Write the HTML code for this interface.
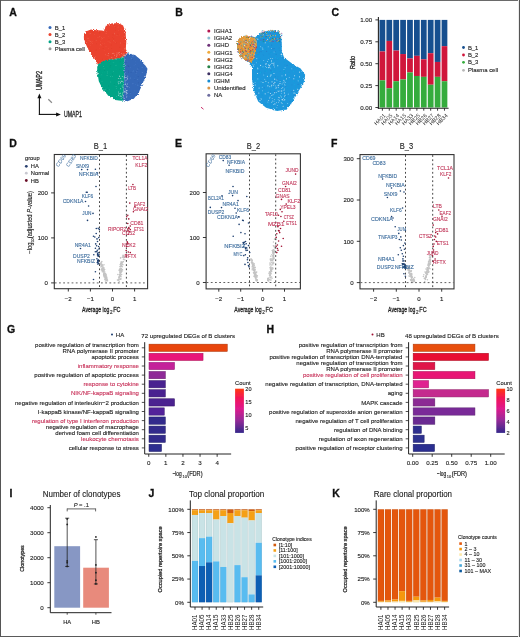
<!DOCTYPE html>
<html><head><meta charset="utf-8"><style>
html,body{margin:0;padding:0;background:#fff;}
body{width:520px;height:637px;overflow:hidden;}
svg{display:block;font-family:"Liberation Sans", sans-serif;will-change:transform;}
</style></head><body>
<svg width="520" height="637" viewBox="0 0 520 637">
<defs>
<filter id="rough" x="-10%" y="-10%" width="120%" height="120%">
<feTurbulence type="fractalNoise" baseFrequency="1.1" numOctaves="2" seed="3" result="n"/>
<feDisplacementMap in="SourceGraphic" in2="n" scale="3.2" xChannelSelector="R" yChannelSelector="G"/>
</filter>
<filter id="soft" x="0" y="0" width="100%" height="100%"><feGaussianBlur stdDeviation="0.3"/></filter>
</defs>
<g filter="url(#soft)">
<rect x="0" y="0" width="520" height="637" fill="#fff"/>
<text x="9.20" y="15.56" font-size="10.5" font-weight="bold" fill="#111" stroke="#111" stroke-width="0.3">A</text>
<text x="175.20" y="15.56" font-size="10.5" font-weight="bold" fill="#111" stroke="#111" stroke-width="0.3">B</text>
<text x="331.50" y="15.56" font-size="10.5" font-weight="bold" fill="#111" stroke="#111" stroke-width="0.3">C</text>
<text x="9.30" y="146.56" font-size="10.5" font-weight="bold" fill="#111" stroke="#111" stroke-width="0.3">D</text>
<text x="175.00" y="146.56" font-size="10.5" font-weight="bold" fill="#111" stroke="#111" stroke-width="0.3">E</text>
<text x="331.00" y="146.56" font-size="10.5" font-weight="bold" fill="#111" stroke="#111" stroke-width="0.3">F</text>
<text x="7.00" y="332.56" font-size="10.5" font-weight="bold" fill="#111" stroke="#111" stroke-width="0.3">G</text>
<text x="266.50" y="332.56" font-size="10.5" font-weight="bold" fill="#111" stroke="#111" stroke-width="0.3">H</text>
<text x="9.40" y="497.06" font-size="10.5" font-weight="bold" fill="#111" stroke="#111" stroke-width="0.3">I</text>
<text x="148.50" y="497.06" font-size="10.5" font-weight="bold" fill="#111" stroke="#111" stroke-width="0.3">J</text>
<text x="332.20" y="497.06" font-size="10.5" font-weight="bold" fill="#111" stroke="#111" stroke-width="0.3">K</text>
<circle cx="50.00" cy="27.50" r="1.5" fill="#3568b8"/>
<text x="54.80" y="29.62" font-size="5.9" fill="#222" stroke="#222" stroke-width="0.12">B_1</text>
<circle cx="50.00" cy="34.60" r="1.5" fill="#ea422d"/>
<text x="54.80" y="36.72" font-size="5.9" fill="#222" stroke="#222" stroke-width="0.12">B_2</text>
<circle cx="50.00" cy="41.70" r="1.5" fill="#03a486"/>
<text x="54.80" y="43.82" font-size="5.9" fill="#222" stroke="#222" stroke-width="0.12">B_3</text>
<circle cx="50.00" cy="48.80" r="1.5" fill="#9a9a9a"/>
<text x="54.80" y="50.92" font-size="5.9" fill="#222" stroke="#222" stroke-width="0.12">Plasma cell</text>
<path d="M83.9 35.1 L86.3 31.2 L91.0 29.4 L97.3 30.2 L102.0 30.6 L103.8 31.0 L105.9 25.7 L111.4 23.6 L118.4 23.1 L123.1 25.5 L125.5 32.0 L126.3 41.4 L125.8 49.0 L127.5 52.6 L124.5 55.5 L120.0 58.5 L113.0 59.5 L106.0 60.5 L101.0 62.5 L98.0 64.5 L96.0 61.0 L92.0 55.0 L88.0 49.0 L85.5 43.5 L83.9 38.2Z" fill="#ea422d" filter="url(#rough)"/>
<path d="M98.0 64.5 L101.0 62.0 L106.0 60.0 L113.0 59.0 L120.0 58.0 L124.0 56.5 L124.6 63.0 L124.4 75.0 L123.8 87.5 L123.1 100.5 L121.2 100.8 L115.0 100.0 L108.8 96.2 L102.5 88.8 L98.8 81.2 L97.3 72.0 L97.2 67.0Z" fill="#03a486" filter="url(#rough)"/>
<path d="M124.0 56.5 L127.5 53.3 L135.0 55.0 L142.5 61.2 L147.5 68.8 L146.2 75.0 L142.5 83.8 L138.8 92.5 L133.8 98.8 L127.5 101.2 L123.1 100.5 L123.8 87.5 L124.4 75.0 L124.6 63.0Z" fill="#3568b8" filter="url(#rough)"/>
<circle cx="112.28" cy="26.10" r="0.45" fill="#f06a50" fill-opacity="0.6"/>
<circle cx="87.86" cy="40.68" r="0.45" fill="#f06a50" fill-opacity="0.6"/>
<circle cx="125.21" cy="49.21" r="0.45" fill="#f06a50" fill-opacity="0.6"/>
<circle cx="109.06" cy="39.52" r="0.45" fill="#d83a25" fill-opacity="0.6"/>
<circle cx="89.04" cy="35.87" r="0.45" fill="#d83a25" fill-opacity="0.6"/>
<circle cx="88.39" cy="46.75" r="0.45" fill="#d83a25" fill-opacity="0.6"/>
<circle cx="100.14" cy="45.78" r="0.45" fill="#f06a50" fill-opacity="0.6"/>
<circle cx="108.51" cy="48.73" r="0.45" fill="#ff5a40" fill-opacity="0.6"/>
<circle cx="113.57" cy="40.80" r="0.45" fill="#f5907a" fill-opacity="0.6"/>
<circle cx="99.66" cy="33.38" r="0.45" fill="#d83a25" fill-opacity="0.6"/>
<circle cx="114.38" cy="33.21" r="0.45" fill="#f5907a" fill-opacity="0.6"/>
<circle cx="106.80" cy="59.33" r="0.45" fill="#ff5a40" fill-opacity="0.6"/>
<circle cx="89.05" cy="40.41" r="0.45" fill="#f5907a" fill-opacity="0.6"/>
<circle cx="90.53" cy="43.34" r="0.45" fill="#f06a50" fill-opacity="0.6"/>
<circle cx="108.23" cy="55.77" r="0.45" fill="#f5907a" fill-opacity="0.6"/>
<circle cx="98.73" cy="37.60" r="0.45" fill="#ff5a40" fill-opacity="0.6"/>
<circle cx="109.18" cy="41.99" r="0.45" fill="#f06a50" fill-opacity="0.6"/>
<circle cx="125.09" cy="42.73" r="0.45" fill="#f06a50" fill-opacity="0.6"/>
<circle cx="119.74" cy="34.88" r="0.45" fill="#ff5a40" fill-opacity="0.6"/>
<circle cx="122.57" cy="37.47" r="0.45" fill="#ff5a40" fill-opacity="0.6"/>
<circle cx="99.40" cy="48.39" r="0.45" fill="#ff5a40" fill-opacity="0.6"/>
<circle cx="89.54" cy="33.35" r="0.45" fill="#ff5a40" fill-opacity="0.6"/>
<circle cx="123.87" cy="43.66" r="0.45" fill="#d83a25" fill-opacity="0.6"/>
<circle cx="103.48" cy="45.85" r="0.45" fill="#d83a25" fill-opacity="0.6"/>
<circle cx="96.04" cy="40.29" r="0.45" fill="#f5907a" fill-opacity="0.6"/>
<circle cx="113.67" cy="38.85" r="0.45" fill="#d83a25" fill-opacity="0.6"/>
<circle cx="90.48" cy="30.40" r="0.45" fill="#d83a25" fill-opacity="0.6"/>
<circle cx="112.61" cy="23.60" r="0.45" fill="#d83a25" fill-opacity="0.6"/>
<circle cx="102.17" cy="38.39" r="0.45" fill="#f5907a" fill-opacity="0.6"/>
<circle cx="125.46" cy="51.69" r="0.45" fill="#f06a50" fill-opacity="0.6"/>
<circle cx="103.81" cy="59.16" r="0.45" fill="#ff5a40" fill-opacity="0.6"/>
<circle cx="101.26" cy="39.42" r="0.45" fill="#ff5a40" fill-opacity="0.6"/>
<circle cx="111.56" cy="25.68" r="0.45" fill="#f06a50" fill-opacity="0.6"/>
<circle cx="88.69" cy="47.97" r="0.45" fill="#f06a50" fill-opacity="0.6"/>
<circle cx="88.32" cy="38.15" r="0.45" fill="#f06a50" fill-opacity="0.6"/>
<circle cx="86.97" cy="31.71" r="0.45" fill="#ff5a40" fill-opacity="0.6"/>
<circle cx="90.38" cy="33.54" r="0.45" fill="#f5907a" fill-opacity="0.6"/>
<circle cx="110.16" cy="42.73" r="0.45" fill="#f06a50" fill-opacity="0.6"/>
<circle cx="104.22" cy="43.13" r="0.45" fill="#f06a50" fill-opacity="0.6"/>
<circle cx="116.18" cy="42.91" r="0.45" fill="#d83a25" fill-opacity="0.6"/>
<circle cx="106.41" cy="31.60" r="0.45" fill="#f5907a" fill-opacity="0.6"/>
<circle cx="90.29" cy="45.59" r="0.45" fill="#f06a50" fill-opacity="0.6"/>
<circle cx="116.96" cy="35.44" r="0.45" fill="#f06a50" fill-opacity="0.6"/>
<circle cx="114.25" cy="33.91" r="0.45" fill="#f5907a" fill-opacity="0.6"/>
<circle cx="123.50" cy="37.83" r="0.45" fill="#d83a25" fill-opacity="0.6"/>
<circle cx="107.12" cy="55.35" r="0.45" fill="#f5907a" fill-opacity="0.6"/>
<circle cx="111.65" cy="48.49" r="0.45" fill="#d83a25" fill-opacity="0.6"/>
<circle cx="119.05" cy="56.98" r="0.45" fill="#d83a25" fill-opacity="0.6"/>
<circle cx="92.62" cy="43.50" r="0.45" fill="#f06a50" fill-opacity="0.6"/>
<circle cx="104.49" cy="31.12" r="0.45" fill="#f5907a" fill-opacity="0.6"/>
<circle cx="99.80" cy="32.23" r="0.45" fill="#d83a25" fill-opacity="0.6"/>
<circle cx="104.40" cy="37.08" r="0.45" fill="#ff5a40" fill-opacity="0.6"/>
<circle cx="120.54" cy="42.95" r="0.45" fill="#f5907a" fill-opacity="0.6"/>
<circle cx="118.76" cy="26.61" r="0.45" fill="#f06a50" fill-opacity="0.6"/>
<circle cx="123.57" cy="55.49" r="0.45" fill="#d83a25" fill-opacity="0.6"/>
<circle cx="104.74" cy="30.49" r="0.45" fill="#f5907a" fill-opacity="0.6"/>
<circle cx="115.37" cy="42.27" r="0.45" fill="#f06a50" fill-opacity="0.6"/>
<circle cx="115.50" cy="30.14" r="0.45" fill="#d83a25" fill-opacity="0.6"/>
<circle cx="104.19" cy="50.25" r="0.45" fill="#ff5a40" fill-opacity="0.6"/>
<circle cx="112.56" cy="37.61" r="0.45" fill="#d83a25" fill-opacity="0.6"/>
<circle cx="115.57" cy="27.35" r="0.45" fill="#d83a25" fill-opacity="0.6"/>
<circle cx="102.81" cy="59.19" r="0.45" fill="#d83a25" fill-opacity="0.6"/>
<circle cx="105.75" cy="54.72" r="0.45" fill="#f5907a" fill-opacity="0.6"/>
<circle cx="95.21" cy="40.45" r="0.45" fill="#d83a25" fill-opacity="0.6"/>
<circle cx="123.04" cy="50.53" r="0.45" fill="#ff5a40" fill-opacity="0.6"/>
<circle cx="106.16" cy="59.23" r="0.45" fill="#d83a25" fill-opacity="0.6"/>
<circle cx="110.43" cy="55.23" r="0.45" fill="#d83a25" fill-opacity="0.6"/>
<circle cx="91.41" cy="42.70" r="0.45" fill="#f06a50" fill-opacity="0.6"/>
<circle cx="108.16" cy="36.60" r="0.45" fill="#ff5a40" fill-opacity="0.6"/>
<circle cx="118.09" cy="27.49" r="0.45" fill="#f06a50" fill-opacity="0.6"/>
<circle cx="94.73" cy="34.56" r="0.45" fill="#f06a50" fill-opacity="0.6"/>
<circle cx="106.04" cy="46.36" r="0.45" fill="#f06a50" fill-opacity="0.6"/>
<circle cx="103.23" cy="48.46" r="0.45" fill="#d83a25" fill-opacity="0.6"/>
<circle cx="114.10" cy="41.83" r="0.45" fill="#ff5a40" fill-opacity="0.6"/>
<circle cx="106.04" cy="33.35" r="0.45" fill="#f5907a" fill-opacity="0.6"/>
<circle cx="92.73" cy="41.63" r="0.45" fill="#ff5a40" fill-opacity="0.6"/>
<circle cx="89.20" cy="41.40" r="0.45" fill="#f06a50" fill-opacity="0.6"/>
<circle cx="113.16" cy="40.83" r="0.45" fill="#d83a25" fill-opacity="0.6"/>
<circle cx="113.09" cy="55.55" r="0.45" fill="#d83a25" fill-opacity="0.6"/>
<circle cx="124.86" cy="49.74" r="0.45" fill="#f5907a" fill-opacity="0.6"/>
<circle cx="125.43" cy="39.59" r="0.45" fill="#ff5a40" fill-opacity="0.6"/>
<circle cx="91.00" cy="50.75" r="0.45" fill="#d83a25" fill-opacity="0.6"/>
<circle cx="90.94" cy="40.97" r="0.45" fill="#ff5a40" fill-opacity="0.6"/>
<circle cx="98.69" cy="31.20" r="0.45" fill="#f5907a" fill-opacity="0.6"/>
<circle cx="87.92" cy="38.25" r="0.45" fill="#f5907a" fill-opacity="0.6"/>
<circle cx="108.06" cy="41.33" r="0.45" fill="#f06a50" fill-opacity="0.6"/>
<circle cx="100.66" cy="44.52" r="0.45" fill="#f5907a" fill-opacity="0.6"/>
<circle cx="106.23" cy="25.76" r="0.45" fill="#d83a25" fill-opacity="0.6"/>
<circle cx="117.86" cy="34.30" r="0.45" fill="#d83a25" fill-opacity="0.6"/>
<circle cx="119.64" cy="58.27" r="0.45" fill="#f5907a" fill-opacity="0.6"/>
<circle cx="101.60" cy="45.32" r="0.45" fill="#ff5a40" fill-opacity="0.6"/>
<circle cx="114.44" cy="26.80" r="0.45" fill="#f06a50" fill-opacity="0.6"/>
<circle cx="118.76" cy="30.69" r="0.45" fill="#f06a50" fill-opacity="0.6"/>
<circle cx="87.76" cy="33.89" r="0.45" fill="#d83a25" fill-opacity="0.6"/>
<circle cx="103.68" cy="37.14" r="0.45" fill="#ff5a40" fill-opacity="0.6"/>
<circle cx="124.30" cy="34.19" r="0.45" fill="#d83a25" fill-opacity="0.6"/>
<circle cx="95.32" cy="30.60" r="0.45" fill="#f5907a" fill-opacity="0.6"/>
<circle cx="111.31" cy="45.09" r="0.45" fill="#d83a25" fill-opacity="0.6"/>
<circle cx="96.54" cy="43.80" r="0.45" fill="#d83a25" fill-opacity="0.6"/>
<circle cx="95.69" cy="56.37" r="0.45" fill="#f5907a" fill-opacity="0.6"/>
<circle cx="106.32" cy="33.27" r="0.45" fill="#ff5a40" fill-opacity="0.6"/>
<circle cx="102.74" cy="43.59" r="0.45" fill="#ff5a40" fill-opacity="0.6"/>
<circle cx="93.28" cy="32.60" r="0.45" fill="#d83a25" fill-opacity="0.6"/>
<circle cx="120.19" cy="52.36" r="0.45" fill="#d83a25" fill-opacity="0.6"/>
<circle cx="101.54" cy="37.49" r="0.45" fill="#f06a50" fill-opacity="0.6"/>
<circle cx="111.17" cy="59.53" r="0.45" fill="#ff5a40" fill-opacity="0.6"/>
<circle cx="113.14" cy="34.77" r="0.45" fill="#d83a25" fill-opacity="0.6"/>
<circle cx="114.10" cy="24.97" r="0.45" fill="#d83a25" fill-opacity="0.6"/>
<circle cx="90.77" cy="41.56" r="0.45" fill="#f5907a" fill-opacity="0.6"/>
<circle cx="99.78" cy="36.72" r="0.45" fill="#f5907a" fill-opacity="0.6"/>
<circle cx="97.40" cy="37.86" r="0.45" fill="#f06a50" fill-opacity="0.6"/>
<circle cx="96.06" cy="50.26" r="0.45" fill="#d83a25" fill-opacity="0.6"/>
<circle cx="84.88" cy="35.70" r="0.45" fill="#d83a25" fill-opacity="0.6"/>
<circle cx="121.10" cy="29.53" r="0.45" fill="#ff5a40" fill-opacity="0.6"/>
<circle cx="117.22" cy="52.94" r="0.45" fill="#ff5a40" fill-opacity="0.6"/>
<circle cx="111.94" cy="24.91" r="0.45" fill="#ff5a40" fill-opacity="0.6"/>
<circle cx="115.90" cy="56.73" r="0.45" fill="#d83a25" fill-opacity="0.6"/>
<circle cx="123.57" cy="54.27" r="0.45" fill="#f06a50" fill-opacity="0.6"/>
<circle cx="119.93" cy="47.28" r="0.45" fill="#d83a25" fill-opacity="0.6"/>
<circle cx="100.32" cy="41.79" r="0.45" fill="#f06a50" fill-opacity="0.6"/>
<circle cx="114.40" cy="84.24" r="0.45" fill="#008a6c" fill-opacity="0.6"/>
<circle cx="119.06" cy="89.65" r="0.45" fill="#20b898" fill-opacity="0.6"/>
<circle cx="115.26" cy="59.43" r="0.45" fill="#00b090" fill-opacity="0.6"/>
<circle cx="104.48" cy="88.81" r="0.45" fill="#008a6c" fill-opacity="0.6"/>
<circle cx="103.52" cy="85.29" r="0.45" fill="#00b090" fill-opacity="0.6"/>
<circle cx="110.73" cy="73.45" r="0.45" fill="#00b090" fill-opacity="0.6"/>
<circle cx="122.15" cy="69.23" r="0.45" fill="#20b898" fill-opacity="0.6"/>
<circle cx="114.11" cy="84.97" r="0.45" fill="#20b898" fill-opacity="0.6"/>
<circle cx="113.63" cy="71.20" r="0.45" fill="#60d0b8" fill-opacity="0.6"/>
<circle cx="114.22" cy="62.41" r="0.45" fill="#00b090" fill-opacity="0.6"/>
<circle cx="98.86" cy="68.41" r="0.45" fill="#20b898" fill-opacity="0.6"/>
<circle cx="116.17" cy="86.43" r="0.45" fill="#60d0b8" fill-opacity="0.6"/>
<circle cx="116.62" cy="69.15" r="0.45" fill="#00b090" fill-opacity="0.6"/>
<circle cx="109.98" cy="61.75" r="0.45" fill="#008a6c" fill-opacity="0.6"/>
<circle cx="105.74" cy="60.30" r="0.45" fill="#00b090" fill-opacity="0.6"/>
<circle cx="119.67" cy="99.39" r="0.45" fill="#00b090" fill-opacity="0.6"/>
<circle cx="122.31" cy="97.72" r="0.45" fill="#20b898" fill-opacity="0.6"/>
<circle cx="113.13" cy="62.78" r="0.45" fill="#60d0b8" fill-opacity="0.6"/>
<circle cx="123.31" cy="62.37" r="0.45" fill="#60d0b8" fill-opacity="0.6"/>
<circle cx="121.50" cy="87.66" r="0.45" fill="#008a6c" fill-opacity="0.6"/>
<circle cx="110.84" cy="95.31" r="0.45" fill="#00b090" fill-opacity="0.6"/>
<circle cx="110.67" cy="76.47" r="0.45" fill="#60d0b8" fill-opacity="0.6"/>
<circle cx="117.12" cy="74.94" r="0.45" fill="#00b090" fill-opacity="0.6"/>
<circle cx="120.19" cy="61.82" r="0.45" fill="#008a6c" fill-opacity="0.6"/>
<circle cx="116.74" cy="96.44" r="0.45" fill="#60d0b8" fill-opacity="0.6"/>
<circle cx="107.89" cy="95.04" r="0.45" fill="#20b898" fill-opacity="0.6"/>
<circle cx="107.08" cy="75.46" r="0.45" fill="#60d0b8" fill-opacity="0.6"/>
<circle cx="120.61" cy="68.93" r="0.45" fill="#20b898" fill-opacity="0.6"/>
<circle cx="120.07" cy="69.15" r="0.45" fill="#008a6c" fill-opacity="0.6"/>
<circle cx="104.03" cy="68.27" r="0.45" fill="#60d0b8" fill-opacity="0.6"/>
<circle cx="102.40" cy="73.04" r="0.45" fill="#00b090" fill-opacity="0.6"/>
<circle cx="121.43" cy="92.47" r="0.45" fill="#00b090" fill-opacity="0.6"/>
<circle cx="122.23" cy="98.17" r="0.45" fill="#008a6c" fill-opacity="0.6"/>
<circle cx="116.92" cy="58.69" r="0.45" fill="#00b090" fill-opacity="0.6"/>
<circle cx="109.55" cy="89.84" r="0.45" fill="#60d0b8" fill-opacity="0.6"/>
<circle cx="110.50" cy="96.90" r="0.45" fill="#008a6c" fill-opacity="0.6"/>
<circle cx="101.88" cy="74.88" r="0.45" fill="#60d0b8" fill-opacity="0.6"/>
<circle cx="105.36" cy="89.24" r="0.45" fill="#60d0b8" fill-opacity="0.6"/>
<circle cx="108.33" cy="67.07" r="0.45" fill="#00b090" fill-opacity="0.6"/>
<circle cx="112.47" cy="73.97" r="0.45" fill="#008a6c" fill-opacity="0.6"/>
<circle cx="114.82" cy="59.83" r="0.45" fill="#00b090" fill-opacity="0.6"/>
<circle cx="112.28" cy="76.57" r="0.45" fill="#60d0b8" fill-opacity="0.6"/>
<circle cx="101.02" cy="65.02" r="0.45" fill="#20b898" fill-opacity="0.6"/>
<circle cx="101.99" cy="81.13" r="0.45" fill="#60d0b8" fill-opacity="0.6"/>
<circle cx="103.75" cy="67.95" r="0.45" fill="#008a6c" fill-opacity="0.6"/>
<circle cx="121.51" cy="89.71" r="0.45" fill="#00b090" fill-opacity="0.6"/>
<circle cx="107.69" cy="89.54" r="0.45" fill="#008a6c" fill-opacity="0.6"/>
<circle cx="107.53" cy="71.48" r="0.45" fill="#20b898" fill-opacity="0.6"/>
<circle cx="110.85" cy="81.94" r="0.45" fill="#60d0b8" fill-opacity="0.6"/>
<circle cx="100.65" cy="78.80" r="0.45" fill="#008a6c" fill-opacity="0.6"/>
<circle cx="107.74" cy="85.11" r="0.45" fill="#00b090" fill-opacity="0.6"/>
<circle cx="123.34" cy="94.10" r="0.45" fill="#20b898" fill-opacity="0.6"/>
<circle cx="100.69" cy="75.34" r="0.45" fill="#00b090" fill-opacity="0.6"/>
<circle cx="123.73" cy="78.20" r="0.45" fill="#20b898" fill-opacity="0.6"/>
<circle cx="119.82" cy="94.40" r="0.45" fill="#00b090" fill-opacity="0.6"/>
<circle cx="104.01" cy="61.33" r="0.45" fill="#008a6c" fill-opacity="0.6"/>
<circle cx="116.41" cy="94.00" r="0.45" fill="#00b090" fill-opacity="0.6"/>
<circle cx="116.79" cy="99.14" r="0.45" fill="#60d0b8" fill-opacity="0.6"/>
<circle cx="111.67" cy="75.88" r="0.45" fill="#20b898" fill-opacity="0.6"/>
<circle cx="99.92" cy="69.81" r="0.45" fill="#008a6c" fill-opacity="0.6"/>
<circle cx="107.83" cy="66.40" r="0.45" fill="#20b898" fill-opacity="0.6"/>
<circle cx="97.49" cy="69.86" r="0.45" fill="#00b090" fill-opacity="0.6"/>
<circle cx="104.83" cy="70.51" r="0.45" fill="#008a6c" fill-opacity="0.6"/>
<circle cx="110.22" cy="66.90" r="0.45" fill="#008a6c" fill-opacity="0.6"/>
<circle cx="98.00" cy="74.74" r="0.45" fill="#60d0b8" fill-opacity="0.6"/>
<circle cx="98.72" cy="65.10" r="0.45" fill="#00b090" fill-opacity="0.6"/>
<circle cx="99.42" cy="66.59" r="0.45" fill="#00b090" fill-opacity="0.6"/>
<circle cx="122.55" cy="66.55" r="0.45" fill="#20b898" fill-opacity="0.6"/>
<circle cx="116.27" cy="88.32" r="0.45" fill="#60d0b8" fill-opacity="0.6"/>
<circle cx="115.90" cy="65.27" r="0.45" fill="#60d0b8" fill-opacity="0.6"/>
<circle cx="117.45" cy="78.87" r="0.45" fill="#008a6c" fill-opacity="0.6"/>
<circle cx="110.78" cy="65.38" r="0.45" fill="#008a6c" fill-opacity="0.6"/>
<circle cx="103.52" cy="66.31" r="0.45" fill="#60d0b8" fill-opacity="0.6"/>
<circle cx="113.92" cy="96.21" r="0.45" fill="#00b090" fill-opacity="0.6"/>
<circle cx="108.63" cy="85.97" r="0.45" fill="#008a6c" fill-opacity="0.6"/>
<circle cx="122.46" cy="58.91" r="0.45" fill="#20b898" fill-opacity="0.6"/>
<circle cx="123.89" cy="62.79" r="0.45" fill="#20b898" fill-opacity="0.6"/>
<circle cx="116.65" cy="64.66" r="0.45" fill="#00b090" fill-opacity="0.6"/>
<circle cx="121.81" cy="95.64" r="0.45" fill="#20b898" fill-opacity="0.6"/>
<circle cx="106.22" cy="64.72" r="0.45" fill="#00b090" fill-opacity="0.6"/>
<circle cx="107.57" cy="73.06" r="0.45" fill="#60d0b8" fill-opacity="0.6"/>
<circle cx="109.32" cy="61.33" r="0.45" fill="#20b898" fill-opacity="0.6"/>
<circle cx="104.87" cy="72.07" r="0.45" fill="#20b898" fill-opacity="0.6"/>
<circle cx="112.57" cy="90.12" r="0.45" fill="#00b090" fill-opacity="0.6"/>
<circle cx="106.97" cy="92.90" r="0.45" fill="#00b090" fill-opacity="0.6"/>
<circle cx="102.56" cy="80.49" r="0.45" fill="#00b090" fill-opacity="0.6"/>
<circle cx="102.49" cy="72.64" r="0.45" fill="#00b090" fill-opacity="0.6"/>
<circle cx="98.03" cy="74.70" r="0.45" fill="#00b090" fill-opacity="0.6"/>
<circle cx="104.24" cy="89.60" r="0.45" fill="#60d0b8" fill-opacity="0.6"/>
<circle cx="107.15" cy="71.34" r="0.45" fill="#20b898" fill-opacity="0.6"/>
<circle cx="129.50" cy="87.66" r="0.45" fill="#80a8e8" fill-opacity="0.6"/>
<circle cx="145.65" cy="67.56" r="0.45" fill="#4a80d0" fill-opacity="0.6"/>
<circle cx="146.38" cy="71.83" r="0.45" fill="#80a8e8" fill-opacity="0.6"/>
<circle cx="126.34" cy="77.11" r="0.45" fill="#4a80d0" fill-opacity="0.6"/>
<circle cx="137.92" cy="69.02" r="0.45" fill="#80a8e8" fill-opacity="0.6"/>
<circle cx="134.34" cy="90.88" r="0.45" fill="#4a80d0" fill-opacity="0.6"/>
<circle cx="135.59" cy="72.08" r="0.45" fill="#2850a0" fill-opacity="0.6"/>
<circle cx="129.13" cy="56.40" r="0.45" fill="#4a80d0" fill-opacity="0.6"/>
<circle cx="134.85" cy="79.41" r="0.45" fill="#2850a0" fill-opacity="0.6"/>
<circle cx="125.15" cy="57.92" r="0.45" fill="#3a70c8" fill-opacity="0.6"/>
<circle cx="127.33" cy="59.67" r="0.45" fill="#3a70c8" fill-opacity="0.6"/>
<circle cx="138.24" cy="85.62" r="0.45" fill="#4a80d0" fill-opacity="0.6"/>
<circle cx="142.13" cy="67.39" r="0.45" fill="#80a8e8" fill-opacity="0.6"/>
<circle cx="136.93" cy="71.18" r="0.45" fill="#80a8e8" fill-opacity="0.6"/>
<circle cx="127.96" cy="65.16" r="0.45" fill="#2850a0" fill-opacity="0.6"/>
<circle cx="128.85" cy="66.79" r="0.45" fill="#2850a0" fill-opacity="0.6"/>
<circle cx="131.06" cy="72.29" r="0.45" fill="#2850a0" fill-opacity="0.6"/>
<circle cx="135.48" cy="64.39" r="0.45" fill="#4a80d0" fill-opacity="0.6"/>
<circle cx="125.60" cy="76.06" r="0.45" fill="#2850a0" fill-opacity="0.6"/>
<circle cx="126.01" cy="62.39" r="0.45" fill="#2850a0" fill-opacity="0.6"/>
<circle cx="145.80" cy="71.15" r="0.45" fill="#2850a0" fill-opacity="0.6"/>
<circle cx="134.06" cy="65.76" r="0.45" fill="#4a80d0" fill-opacity="0.6"/>
<circle cx="125.68" cy="81.89" r="0.45" fill="#80a8e8" fill-opacity="0.6"/>
<circle cx="128.41" cy="70.98" r="0.45" fill="#2850a0" fill-opacity="0.6"/>
<circle cx="124.03" cy="88.41" r="0.45" fill="#2850a0" fill-opacity="0.6"/>
<circle cx="133.08" cy="71.13" r="0.45" fill="#80a8e8" fill-opacity="0.6"/>
<circle cx="135.19" cy="76.48" r="0.45" fill="#3a70c8" fill-opacity="0.6"/>
<circle cx="125.57" cy="72.25" r="0.45" fill="#2850a0" fill-opacity="0.6"/>
<circle cx="127.09" cy="86.64" r="0.45" fill="#3a70c8" fill-opacity="0.6"/>
<circle cx="133.30" cy="55.76" r="0.45" fill="#80a8e8" fill-opacity="0.6"/>
<circle cx="138.83" cy="72.04" r="0.45" fill="#3a70c8" fill-opacity="0.6"/>
<circle cx="128.07" cy="53.58" r="0.45" fill="#2850a0" fill-opacity="0.6"/>
<circle cx="133.44" cy="92.64" r="0.45" fill="#3a70c8" fill-opacity="0.6"/>
<circle cx="137.20" cy="70.79" r="0.45" fill="#2850a0" fill-opacity="0.6"/>
<circle cx="126.27" cy="55.78" r="0.45" fill="#2850a0" fill-opacity="0.6"/>
<circle cx="125.27" cy="83.13" r="0.45" fill="#80a8e8" fill-opacity="0.6"/>
<circle cx="141.09" cy="61.53" r="0.45" fill="#80a8e8" fill-opacity="0.6"/>
<circle cx="130.01" cy="78.29" r="0.45" fill="#4a80d0" fill-opacity="0.6"/>
<circle cx="125.75" cy="76.82" r="0.45" fill="#2850a0" fill-opacity="0.6"/>
<circle cx="130.46" cy="93.45" r="0.45" fill="#4a80d0" fill-opacity="0.6"/>
<circle cx="124.40" cy="97.71" r="0.45" fill="#3a70c8" fill-opacity="0.6"/>
<circle cx="125.21" cy="87.46" r="0.45" fill="#2850a0" fill-opacity="0.6"/>
<circle cx="138.25" cy="82.78" r="0.45" fill="#2850a0" fill-opacity="0.6"/>
<circle cx="128.42" cy="72.47" r="0.45" fill="#2850a0" fill-opacity="0.6"/>
<circle cx="132.46" cy="59.20" r="0.45" fill="#2850a0" fill-opacity="0.6"/>
<circle cx="127.80" cy="95.68" r="0.45" fill="#4a80d0" fill-opacity="0.6"/>
<circle cx="139.40" cy="68.85" r="0.45" fill="#3a70c8" fill-opacity="0.6"/>
<circle cx="137.73" cy="79.67" r="0.45" fill="#80a8e8" fill-opacity="0.6"/>
<circle cx="138.94" cy="68.08" r="0.45" fill="#2850a0" fill-opacity="0.6"/>
<circle cx="133.49" cy="84.89" r="0.45" fill="#3a70c8" fill-opacity="0.6"/>
<circle cx="135.39" cy="61.87" r="0.45" fill="#4a80d0" fill-opacity="0.6"/>
<circle cx="138.20" cy="76.77" r="0.45" fill="#2850a0" fill-opacity="0.6"/>
<circle cx="134.00" cy="82.96" r="0.45" fill="#3a70c8" fill-opacity="0.6"/>
<circle cx="132.87" cy="56.52" r="0.45" fill="#80a8e8" fill-opacity="0.6"/>
<circle cx="133.61" cy="57.70" r="0.45" fill="#3a70c8" fill-opacity="0.6"/>
<circle cx="135.41" cy="84.81" r="0.45" fill="#4a80d0" fill-opacity="0.6"/>
<circle cx="135.58" cy="55.90" r="0.45" fill="#3a70c8" fill-opacity="0.6"/>
<circle cx="139.03" cy="90.90" r="0.45" fill="#4a80d0" fill-opacity="0.6"/>
<circle cx="127.83" cy="100.37" r="0.45" fill="#3a70c8" fill-opacity="0.6"/>
<circle cx="130.12" cy="92.19" r="0.45" fill="#2850a0" fill-opacity="0.6"/>
<circle cx="139.84" cy="87.88" r="0.45" fill="#2850a0" fill-opacity="0.6"/>
<circle cx="124.70" cy="70.13" r="0.45" fill="#80a8e8" fill-opacity="0.6"/>
<circle cx="126.97" cy="96.29" r="0.45" fill="#80a8e8" fill-opacity="0.6"/>
<circle cx="145.18" cy="75.18" r="0.45" fill="#80a8e8" fill-opacity="0.6"/>
<circle cx="128.18" cy="65.90" r="0.45" fill="#2850a0" fill-opacity="0.6"/>
<circle cx="130.89" cy="55.07" r="0.45" fill="#2850a0" fill-opacity="0.6"/>
<circle cx="132.94" cy="83.82" r="0.45" fill="#80a8e8" fill-opacity="0.6"/>
<circle cx="127.22" cy="90.93" r="0.45" fill="#4a80d0" fill-opacity="0.6"/>
<circle cx="134.15" cy="78.30" r="0.45" fill="#4a80d0" fill-opacity="0.6"/>
<circle cx="129.25" cy="78.99" r="0.45" fill="#3a70c8" fill-opacity="0.6"/>
<circle cx="141.11" cy="71.11" r="0.45" fill="#3a70c8" fill-opacity="0.6"/>
<circle cx="131.89" cy="89.96" r="0.45" fill="#3a70c8" fill-opacity="0.6"/>
<circle cx="128.71" cy="82.81" r="0.45" fill="#4a80d0" fill-opacity="0.6"/>
<circle cx="130.33" cy="78.05" r="0.45" fill="#80a8e8" fill-opacity="0.6"/>
<circle cx="137.40" cy="85.12" r="0.45" fill="#80a8e8" fill-opacity="0.6"/>
<circle cx="128.51" cy="67.25" r="0.45" fill="#3a70c8" fill-opacity="0.6"/>
<circle cx="133.29" cy="70.76" r="0.45" fill="#4a80d0" fill-opacity="0.6"/>
<circle cx="126.32" cy="64.20" r="0.45" fill="#4a80d0" fill-opacity="0.6"/>
<circle cx="131.76" cy="58.40" r="0.45" fill="#80a8e8" fill-opacity="0.6"/>
<circle cx="136.13" cy="73.11" r="0.45" fill="#80a8e8" fill-opacity="0.6"/>
<circle cx="137.47" cy="63.09" r="0.45" fill="#3a70c8" fill-opacity="0.6"/>
<circle cx="126.97" cy="53.98" r="0.45" fill="#2850a0" fill-opacity="0.6"/>
<circle cx="140.36" cy="74.92" r="0.45" fill="#4a80d0" fill-opacity="0.6"/>
<circle cx="142.18" cy="72.57" r="0.45" fill="#80a8e8" fill-opacity="0.6"/>
<circle cx="137.61" cy="81.04" r="0.45" fill="#3a70c8" fill-opacity="0.6"/>
<circle cx="129.16" cy="96.62" r="0.45" fill="#4a80d0" fill-opacity="0.6"/>
<circle cx="127.63" cy="60.93" r="0.45" fill="#4a80d0" fill-opacity="0.6"/>
<circle cx="127.97" cy="82.46" r="0.45" fill="#3a70c8" fill-opacity="0.6"/>
<circle cx="130.65" cy="67.70" r="0.45" fill="#4a80d0" fill-opacity="0.6"/>
<circle cx="134.76" cy="79.12" r="0.45" fill="#3a70c8" fill-opacity="0.6"/>
<circle cx="126.44" cy="93.14" r="0.45" fill="#dfe8f0"/>
<circle cx="122.65" cy="93.06" r="0.45" fill="#dfe8f0"/>
<circle cx="122.52" cy="81.20" r="0.45" fill="#dfe8f0"/>
<circle cx="119.05" cy="81.34" r="0.45" fill="#dfe8f0"/>
<circle cx="118.39" cy="83.72" r="0.45" fill="#dfe8f0"/>
<circle cx="125.50" cy="91.99" r="0.45" fill="#dfe8f0"/>
<circle cx="126.45" cy="92.37" r="0.45" fill="#dfe8f0"/>
<circle cx="120.66" cy="88.74" r="0.45" fill="#dfe8f0"/>
<circle cx="122.36" cy="94.13" r="0.45" fill="#dfe8f0"/>
<circle cx="123.23" cy="82.10" r="0.45" fill="#dfe8f0"/>
<circle cx="124.42" cy="98.20" r="0.45" fill="#dfe8f0"/>
<circle cx="120.17" cy="96.24" r="0.45" fill="#dfe8f0"/>
<circle cx="118.15" cy="81.99" r="0.45" fill="#dfe8f0"/>
<circle cx="120.36" cy="93.11" r="0.45" fill="#dfe8f0"/>
<circle cx="127.45" cy="93.16" r="0.45" fill="#dfe8f0"/>
<circle cx="121.27" cy="96.24" r="0.45" fill="#dfe8f0"/>
<circle cx="121.29" cy="81.50" r="0.45" fill="#dfe8f0"/>
<circle cx="127.08" cy="90.51" r="0.45" fill="#dfe8f0"/>
<circle cx="124.93" cy="91.30" r="0.45" fill="#dfe8f0"/>
<circle cx="127.79" cy="86.80" r="0.45" fill="#dfe8f0"/>
<circle cx="126.40" cy="92.05" r="0.45" fill="#dfe8f0"/>
<circle cx="126.58" cy="86.06" r="0.45" fill="#dfe8f0"/>
<circle cx="125.25" cy="89.12" r="0.45" fill="#dfe8f0"/>
<circle cx="121.08" cy="80.88" r="0.45" fill="#dfe8f0"/>
<circle cx="124.23" cy="77.79" r="0.45" fill="#dfe8f0"/>
<circle cx="127.11" cy="79.33" r="0.45" fill="#dfe8f0"/>
<circle cx="118.27" cy="78.45" r="0.45" fill="#dfe8f0"/>
<circle cx="127.29" cy="83.93" r="0.45" fill="#dfe8f0"/>
<circle cx="119.42" cy="76.66" r="0.45" fill="#dfe8f0"/>
<circle cx="118.42" cy="91.93" r="0.45" fill="#dfe8f0"/>
<circle cx="124.34" cy="92.03" r="0.45" fill="#dfe8f0"/>
<circle cx="125.37" cy="77.51" r="0.45" fill="#dfe8f0"/>
<circle cx="123.90" cy="84.36" r="0.45" fill="#dfe8f0"/>
<circle cx="126.18" cy="94.85" r="0.45" fill="#dfe8f0"/>
<circle cx="126.91" cy="77.52" r="0.45" fill="#dfe8f0"/>
<circle cx="126.68" cy="97.03" r="0.45" fill="#dfe8f0"/>
<circle cx="127.44" cy="78.46" r="0.45" fill="#dfe8f0"/>
<circle cx="120.06" cy="78.58" r="0.45" fill="#dfe8f0"/>
<circle cx="118.34" cy="95.50" r="0.45" fill="#dfe8f0"/>
<circle cx="126.12" cy="90.59" r="0.45" fill="#dfe8f0"/>
<circle cx="126.25" cy="90.53" r="0.45" fill="#dfe8f0"/>
<circle cx="120.87" cy="78.30" r="0.45" fill="#dfe8f0"/>
<circle cx="118.98" cy="93.42" r="0.45" fill="#dfe8f0"/>
<circle cx="120.05" cy="83.34" r="0.45" fill="#dfe8f0"/>
<circle cx="122.24" cy="76.48" r="0.45" fill="#dfe8f0"/>
<circle cx="120.57" cy="82.50" r="0.45" fill="#dfe8f0"/>
<circle cx="125.16" cy="84.46" r="0.45" fill="#dfe8f0"/>
<circle cx="121.21" cy="98.17" r="0.45" fill="#dfe8f0"/>
<circle cx="123.04" cy="95.58" r="0.45" fill="#dfe8f0"/>
<circle cx="124.18" cy="76.71" r="0.45" fill="#dfe8f0"/>
<circle cx="122.13" cy="86.04" r="0.45" fill="#dfe8f0"/>
<circle cx="125.73" cy="83.98" r="0.45" fill="#dfe8f0"/>
<circle cx="125.05" cy="88.37" r="0.45" fill="#dfe8f0"/>
<circle cx="120.17" cy="95.83" r="0.45" fill="#dfe8f0"/>
<circle cx="118.91" cy="94.86" r="0.45" fill="#dfe8f0"/>
<circle cx="119.70" cy="76.03" r="0.45" fill="#dfe8f0"/>
<circle cx="120.02" cy="93.53" r="0.45" fill="#dfe8f0"/>
<circle cx="127.78" cy="76.10" r="0.45" fill="#dfe8f0"/>
<circle cx="122.91" cy="87.30" r="0.45" fill="#dfe8f0"/>
<circle cx="125.97" cy="80.24" r="0.45" fill="#dfe8f0"/>
<circle cx="116.90" cy="54.78" r="0.4" fill="#f4c0b0"/>
<circle cx="122.97" cy="54.08" r="0.4" fill="#f4c0b0"/>
<circle cx="124.99" cy="54.27" r="0.4" fill="#f4c0b0"/>
<circle cx="111.86" cy="57.60" r="0.4" fill="#f4c0b0"/>
<circle cx="116.97" cy="52.88" r="0.4" fill="#f4c0b0"/>
<circle cx="119.46" cy="52.65" r="0.4" fill="#f4c0b0"/>
<circle cx="122.18" cy="57.58" r="0.4" fill="#f4c0b0"/>
<circle cx="122.16" cy="57.02" r="0.4" fill="#f4c0b0"/>
<circle cx="114.40" cy="55.21" r="0.4" fill="#f4c0b0"/>
<circle cx="115.10" cy="59.12" r="0.4" fill="#f4c0b0"/>
<circle cx="109.55" cy="59.11" r="0.4" fill="#f4c0b0"/>
<circle cx="108.45" cy="53.65" r="0.4" fill="#f4c0b0"/>
<circle cx="112.74" cy="59.21" r="0.4" fill="#f4c0b0"/>
<circle cx="117.02" cy="55.03" r="0.4" fill="#f4c0b0"/>
<circle cx="123.91" cy="53.87" r="0.4" fill="#f4c0b0"/>
<circle cx="116.30" cy="56.25" r="0.4" fill="#f4c0b0"/>
<circle cx="121.58" cy="58.02" r="0.4" fill="#f4c0b0"/>
<circle cx="119.63" cy="54.79" r="0.4" fill="#f4c0b0"/>
<circle cx="113.88" cy="53.24" r="0.4" fill="#f4c0b0"/>
<circle cx="123.18" cy="57.30" r="0.4" fill="#f4c0b0"/>
<circle cx="121.36" cy="53.36" r="0.4" fill="#f4c0b0"/>
<circle cx="115.90" cy="58.19" r="0.4" fill="#f4c0b0"/>
<circle cx="118.43" cy="53.01" r="0.4" fill="#f4c0b0"/>
<circle cx="116.32" cy="59.08" r="0.4" fill="#f4c0b0"/>
<circle cx="112.28" cy="53.53" r="0.4" fill="#f4c0b0"/>
<line x1="48.30" y1="99.30" x2="51.90" y2="102.80" stroke="#8a8a8a" stroke-width="1.2"/>
<line x1="39.40" y1="114.90" x2="39.40" y2="97.00" stroke="#111" stroke-width="1.1"/>
<line x1="38.85" y1="114.40" x2="57.50" y2="114.40" stroke="#111" stroke-width="1.1"/>
<path d="M39.4 93.4 L37.4 98.2 L41.4 98.2Z" fill="#111"/>
<path d="M60.9 114.4 L56.1 112.4 L56.1 116.4Z" fill="#111"/>
<text x="63.90" y="117.02" font-size="8.4" fill="#222" textLength="18.00" lengthAdjust="spacingAndGlyphs" stroke="#222" stroke-width="0.3">UMAP1</text>
<text transform="translate(38.90 80.50) rotate(-90)" x="0" y="3.13" font-size="8.7" fill="#222" text-anchor="middle" stroke="#222" stroke-width="0.3" textLength="19.00" lengthAdjust="spacingAndGlyphs">UMAP2</text>
<circle cx="208.80" cy="30.90" r="1.5" fill="#b41450"/>
<text x="214.00" y="33.06" font-size="6.0" fill="#222" stroke="#222" stroke-width="0.12">IGHA1</text>
<circle cx="208.80" cy="38.05" r="1.5" fill="#8cbed2"/>
<text x="214.00" y="40.21" font-size="6.0" fill="#222" stroke="#222" stroke-width="0.12">IGHA2</text>
<circle cx="208.80" cy="45.20" r="1.5" fill="#6e3278"/>
<text x="214.00" y="47.36" font-size="6.0" fill="#222" stroke="#222" stroke-width="0.12">IGHD</text>
<circle cx="208.80" cy="52.35" r="1.5" fill="#f0aa3c"/>
<text x="214.00" y="54.51" font-size="6.0" fill="#222" stroke="#222" stroke-width="0.12">IGHG1</text>
<circle cx="208.80" cy="59.50" r="1.5" fill="#c8641e"/>
<text x="214.00" y="61.66" font-size="6.0" fill="#222" stroke="#222" stroke-width="0.12">IGHG2</text>
<circle cx="208.80" cy="66.65" r="1.5" fill="#288246"/>
<text x="214.00" y="68.81" font-size="6.0" fill="#222" stroke="#222" stroke-width="0.12">IGHG3</text>
<circle cx="208.80" cy="73.80" r="1.5" fill="#3c3264"/>
<text x="214.00" y="75.96" font-size="6.0" fill="#222" stroke="#222" stroke-width="0.12">IGHG4</text>
<circle cx="208.80" cy="80.95" r="1.5" fill="#148cd2"/>
<text x="214.00" y="83.11" font-size="6.0" fill="#222" stroke="#222" stroke-width="0.12">IGHM</text>
<circle cx="208.80" cy="88.10" r="1.5" fill="#dc9646"/>
<text x="214.00" y="90.26" font-size="6.0" fill="#222" stroke="#222" stroke-width="0.12">Unidentified</text>
<circle cx="208.80" cy="95.25" r="1.5" fill="#6e6ea0"/>
<text x="214.00" y="97.41" font-size="6.0" fill="#222" stroke="#222" stroke-width="0.12">NA</text>
<path d="M237.1 43.5 L239.4 38.0 L244.1 35.7 L250.4 36.5 L255.1 37.3 L260.6 33.3 L266.1 31.0 L273.9 30.2 L278.6 31.8 L281.0 35.7 L281.8 43.5 L281.8 51.4 L284.1 57.6 L292.7 63.9 L300.6 68.6 L305.3 74.9 L303.7 82.7 L299.0 90.6 L292.7 101.6 L286.5 109.4 L277.1 111.0 L266.1 107.8 L258.2 101.6 L253.5 90.6 L252.0 79.6 L252.0 67.1 L250.4 63.9 L244.1 59.2 L239.4 54.5 L237.1 49.8Z" fill="#1c97dc" filter="url(#rough)"/>
<path d="M237.1 43.5 L239.4 38.0 L244.1 35.7 L250.4 36.5 L255.1 37.3 L257.0 42.0 L256.0 50.0 L254.0 58.0 L251.0 63.0 L244.1 59.2 L239.4 54.5 L237.1 49.8Z" fill="#e39a3a" filter="url(#rough)"/>
<circle cx="257.66" cy="87.02" r="0.55" fill="#1e8fd6" fill-opacity="0.75"/>
<circle cx="247.64" cy="42.80" r="0.55" fill="#2a78c8" fill-opacity="0.75"/>
<circle cx="286.42" cy="78.91" r="0.55" fill="#ffffff" fill-opacity="0.75"/>
<circle cx="248.08" cy="56.71" r="0.55" fill="#2a78c8" fill-opacity="0.75"/>
<circle cx="247.40" cy="42.18" r="0.55" fill="#ffffff" fill-opacity="0.75"/>
<circle cx="287.11" cy="65.34" r="0.55" fill="#2a78c8" fill-opacity="0.75"/>
<circle cx="268.74" cy="31.22" r="0.55" fill="#8cd0f4" fill-opacity="0.75"/>
<circle cx="284.39" cy="70.64" r="0.55" fill="#0aa0d8" fill-opacity="0.75"/>
<circle cx="254.64" cy="89.85" r="0.55" fill="#10aae2" fill-opacity="0.75"/>
<circle cx="287.63" cy="103.57" r="0.55" fill="#8cd0f4" fill-opacity="0.75"/>
<circle cx="284.92" cy="77.66" r="0.55" fill="#0aa0d8" fill-opacity="0.75"/>
<circle cx="265.82" cy="48.67" r="0.55" fill="#0aa0d8" fill-opacity="0.75"/>
<circle cx="281.60" cy="101.11" r="0.55" fill="#0aa0d8" fill-opacity="0.75"/>
<circle cx="284.85" cy="99.08" r="0.55" fill="#0aa0d8" fill-opacity="0.75"/>
<circle cx="249.48" cy="40.24" r="0.55" fill="#8cd0f4" fill-opacity="0.75"/>
<circle cx="258.45" cy="80.96" r="0.55" fill="#10aae2" fill-opacity="0.75"/>
<circle cx="264.39" cy="87.78" r="0.55" fill="#2a78c8" fill-opacity="0.75"/>
<circle cx="254.15" cy="64.43" r="0.55" fill="#8cd0f4" fill-opacity="0.75"/>
<circle cx="272.44" cy="83.62" r="0.55" fill="#2a78c8" fill-opacity="0.75"/>
<circle cx="254.23" cy="47.80" r="0.55" fill="#0aa0d8" fill-opacity="0.75"/>
<circle cx="272.51" cy="38.37" r="0.55" fill="#1e8fd6" fill-opacity="0.75"/>
<circle cx="268.25" cy="46.76" r="0.55" fill="#8cd0f4" fill-opacity="0.75"/>
<circle cx="272.03" cy="81.85" r="0.55" fill="#ffffff" fill-opacity="0.75"/>
<circle cx="272.68" cy="63.36" r="0.55" fill="#8cd0f4" fill-opacity="0.75"/>
<circle cx="263.87" cy="91.83" r="0.55" fill="#10aae2" fill-opacity="0.75"/>
<circle cx="286.83" cy="79.81" r="0.55" fill="#0aa0d8" fill-opacity="0.75"/>
<circle cx="240.96" cy="52.37" r="0.55" fill="#8cd0f4" fill-opacity="0.75"/>
<circle cx="299.53" cy="80.99" r="0.55" fill="#0aa0d8" fill-opacity="0.75"/>
<circle cx="261.11" cy="51.62" r="0.55" fill="#2a78c8" fill-opacity="0.75"/>
<circle cx="257.80" cy="62.56" r="0.55" fill="#1e8fd6" fill-opacity="0.75"/>
<circle cx="286.25" cy="96.02" r="0.55" fill="#2a78c8" fill-opacity="0.75"/>
<circle cx="261.18" cy="81.81" r="0.55" fill="#8cd0f4" fill-opacity="0.75"/>
<circle cx="269.02" cy="53.98" r="0.55" fill="#1e8fd6" fill-opacity="0.75"/>
<circle cx="281.40" cy="93.21" r="0.55" fill="#8cd0f4" fill-opacity="0.75"/>
<circle cx="261.29" cy="98.93" r="0.55" fill="#ffffff" fill-opacity="0.75"/>
<circle cx="285.13" cy="85.75" r="0.55" fill="#8cd0f4" fill-opacity="0.75"/>
<circle cx="283.40" cy="69.11" r="0.55" fill="#0aa0d8" fill-opacity="0.75"/>
<circle cx="281.73" cy="56.08" r="0.55" fill="#8cd0f4" fill-opacity="0.75"/>
<circle cx="266.32" cy="81.69" r="0.55" fill="#0aa0d8" fill-opacity="0.75"/>
<circle cx="257.78" cy="61.32" r="0.55" fill="#10aae2" fill-opacity="0.75"/>
<circle cx="293.80" cy="81.36" r="0.55" fill="#10aae2" fill-opacity="0.75"/>
<circle cx="242.01" cy="53.87" r="0.55" fill="#1e8fd6" fill-opacity="0.75"/>
<circle cx="244.02" cy="41.73" r="0.55" fill="#2a78c8" fill-opacity="0.75"/>
<circle cx="264.55" cy="73.39" r="0.55" fill="#1e8fd6" fill-opacity="0.75"/>
<circle cx="297.88" cy="79.36" r="0.55" fill="#10aae2" fill-opacity="0.75"/>
<circle cx="282.69" cy="102.43" r="0.55" fill="#0aa0d8" fill-opacity="0.75"/>
<circle cx="284.35" cy="73.09" r="0.55" fill="#0aa0d8" fill-opacity="0.75"/>
<circle cx="294.34" cy="84.44" r="0.55" fill="#10aae2" fill-opacity="0.75"/>
<circle cx="274.96" cy="51.57" r="0.55" fill="#2a78c8" fill-opacity="0.75"/>
<circle cx="293.51" cy="68.44" r="0.55" fill="#1e8fd6" fill-opacity="0.75"/>
<circle cx="271.08" cy="73.80" r="0.55" fill="#0aa0d8" fill-opacity="0.75"/>
<circle cx="269.01" cy="75.66" r="0.55" fill="#0aa0d8" fill-opacity="0.75"/>
<circle cx="257.34" cy="67.83" r="0.55" fill="#8cd0f4" fill-opacity="0.75"/>
<circle cx="278.68" cy="85.35" r="0.55" fill="#ffffff" fill-opacity="0.75"/>
<circle cx="270.12" cy="91.38" r="0.55" fill="#2a78c8" fill-opacity="0.75"/>
<circle cx="279.74" cy="57.56" r="0.55" fill="#0aa0d8" fill-opacity="0.75"/>
<circle cx="262.07" cy="68.54" r="0.55" fill="#1e8fd6" fill-opacity="0.75"/>
<circle cx="274.89" cy="103.92" r="0.55" fill="#ffffff" fill-opacity="0.75"/>
<circle cx="266.78" cy="64.33" r="0.55" fill="#1e8fd6" fill-opacity="0.75"/>
<circle cx="240.70" cy="53.56" r="0.55" fill="#ffffff" fill-opacity="0.75"/>
<circle cx="271.46" cy="52.15" r="0.55" fill="#1e8fd6" fill-opacity="0.75"/>
<circle cx="260.62" cy="46.65" r="0.55" fill="#8cd0f4" fill-opacity="0.75"/>
<circle cx="258.73" cy="54.38" r="0.55" fill="#1e8fd6" fill-opacity="0.75"/>
<circle cx="274.90" cy="63.01" r="0.55" fill="#1e8fd6" fill-opacity="0.75"/>
<circle cx="240.49" cy="54.47" r="0.55" fill="#10aae2" fill-opacity="0.75"/>
<circle cx="269.50" cy="92.09" r="0.55" fill="#10aae2" fill-opacity="0.75"/>
<circle cx="290.91" cy="103.71" r="0.55" fill="#1e8fd6" fill-opacity="0.75"/>
<circle cx="262.75" cy="42.08" r="0.55" fill="#0aa0d8" fill-opacity="0.75"/>
<circle cx="284.59" cy="78.38" r="0.55" fill="#0aa0d8" fill-opacity="0.75"/>
<circle cx="280.31" cy="80.72" r="0.55" fill="#2a78c8" fill-opacity="0.75"/>
<circle cx="244.01" cy="44.85" r="0.55" fill="#10aae2" fill-opacity="0.75"/>
<circle cx="265.85" cy="38.33" r="0.55" fill="#0aa0d8" fill-opacity="0.75"/>
<circle cx="246.56" cy="55.20" r="0.55" fill="#0aa0d8" fill-opacity="0.75"/>
<circle cx="254.70" cy="54.60" r="0.55" fill="#8cd0f4" fill-opacity="0.75"/>
<circle cx="275.72" cy="76.92" r="0.55" fill="#10aae2" fill-opacity="0.75"/>
<circle cx="271.05" cy="72.39" r="0.55" fill="#10aae2" fill-opacity="0.75"/>
<circle cx="289.87" cy="64.22" r="0.55" fill="#0aa0d8" fill-opacity="0.75"/>
<circle cx="277.47" cy="105.97" r="0.55" fill="#2a78c8" fill-opacity="0.75"/>
<circle cx="269.53" cy="63.52" r="0.55" fill="#10aae2" fill-opacity="0.75"/>
<circle cx="298.19" cy="80.85" r="0.55" fill="#8cd0f4" fill-opacity="0.75"/>
<circle cx="285.76" cy="99.32" r="0.55" fill="#0aa0d8" fill-opacity="0.75"/>
<circle cx="275.12" cy="70.45" r="0.55" fill="#0aa0d8" fill-opacity="0.75"/>
<circle cx="281.48" cy="96.24" r="0.55" fill="#10aae2" fill-opacity="0.75"/>
<circle cx="263.63" cy="55.45" r="0.55" fill="#1e8fd6" fill-opacity="0.75"/>
<circle cx="270.27" cy="35.03" r="0.55" fill="#ffffff" fill-opacity="0.75"/>
<circle cx="269.14" cy="43.65" r="0.55" fill="#10aae2" fill-opacity="0.75"/>
<circle cx="261.87" cy="82.31" r="0.55" fill="#0aa0d8" fill-opacity="0.75"/>
<circle cx="291.79" cy="68.74" r="0.55" fill="#8cd0f4" fill-opacity="0.75"/>
<circle cx="275.76" cy="53.82" r="0.55" fill="#10aae2" fill-opacity="0.75"/>
<circle cx="279.51" cy="82.80" r="0.55" fill="#1e8fd6" fill-opacity="0.75"/>
<circle cx="259.75" cy="79.15" r="0.55" fill="#10aae2" fill-opacity="0.75"/>
<circle cx="293.79" cy="78.77" r="0.55" fill="#ffffff" fill-opacity="0.75"/>
<circle cx="276.97" cy="109.09" r="0.55" fill="#2a78c8" fill-opacity="0.75"/>
<circle cx="262.79" cy="85.53" r="0.55" fill="#1e8fd6" fill-opacity="0.75"/>
<circle cx="267.88" cy="85.84" r="0.55" fill="#ffffff" fill-opacity="0.75"/>
<circle cx="255.04" cy="64.34" r="0.55" fill="#1e8fd6" fill-opacity="0.75"/>
<circle cx="274.46" cy="92.99" r="0.55" fill="#8cd0f4" fill-opacity="0.75"/>
<circle cx="260.76" cy="37.07" r="0.55" fill="#1e8fd6" fill-opacity="0.75"/>
<circle cx="270.16" cy="61.04" r="0.55" fill="#0aa0d8" fill-opacity="0.75"/>
<circle cx="278.49" cy="84.96" r="0.55" fill="#8cd0f4" fill-opacity="0.75"/>
<circle cx="285.41" cy="105.02" r="0.55" fill="#1e8fd6" fill-opacity="0.75"/>
<circle cx="288.33" cy="94.17" r="0.55" fill="#8cd0f4" fill-opacity="0.75"/>
<circle cx="273.97" cy="73.52" r="0.55" fill="#ffffff" fill-opacity="0.75"/>
<circle cx="276.63" cy="102.67" r="0.55" fill="#1e8fd6" fill-opacity="0.75"/>
<circle cx="258.99" cy="71.10" r="0.55" fill="#2a78c8" fill-opacity="0.75"/>
<circle cx="250.00" cy="45.74" r="0.55" fill="#2a78c8" fill-opacity="0.75"/>
<circle cx="276.51" cy="59.20" r="0.55" fill="#1e8fd6" fill-opacity="0.75"/>
<circle cx="300.02" cy="70.06" r="0.55" fill="#10aae2" fill-opacity="0.75"/>
<circle cx="262.45" cy="67.65" r="0.55" fill="#10aae2" fill-opacity="0.75"/>
<circle cx="260.62" cy="72.17" r="0.55" fill="#10aae2" fill-opacity="0.75"/>
<circle cx="243.52" cy="46.74" r="0.55" fill="#1e8fd6" fill-opacity="0.75"/>
<circle cx="270.27" cy="76.03" r="0.55" fill="#ffffff" fill-opacity="0.75"/>
<circle cx="277.55" cy="79.38" r="0.55" fill="#2a78c8" fill-opacity="0.75"/>
<circle cx="250.81" cy="44.80" r="0.55" fill="#10aae2" fill-opacity="0.75"/>
<circle cx="262.31" cy="87.21" r="0.55" fill="#8cd0f4" fill-opacity="0.75"/>
<circle cx="264.20" cy="39.89" r="0.55" fill="#10aae2" fill-opacity="0.75"/>
<circle cx="254.64" cy="75.81" r="0.55" fill="#0aa0d8" fill-opacity="0.75"/>
<circle cx="271.64" cy="44.96" r="0.55" fill="#2a78c8" fill-opacity="0.75"/>
<circle cx="262.40" cy="49.20" r="0.55" fill="#0aa0d8" fill-opacity="0.75"/>
<circle cx="254.55" cy="58.64" r="0.55" fill="#1e8fd6" fill-opacity="0.75"/>
<circle cx="285.50" cy="82.45" r="0.55" fill="#8cd0f4" fill-opacity="0.75"/>
<circle cx="240.90" cy="41.90" r="0.55" fill="#10aae2" fill-opacity="0.75"/>
<circle cx="301.17" cy="84.89" r="0.55" fill="#ffffff" fill-opacity="0.75"/>
<circle cx="277.32" cy="65.86" r="0.55" fill="#0aa0d8" fill-opacity="0.75"/>
<circle cx="244.29" cy="56.37" r="0.55" fill="#ffffff" fill-opacity="0.75"/>
<circle cx="263.70" cy="60.50" r="0.55" fill="#8cd0f4" fill-opacity="0.75"/>
<circle cx="248.60" cy="49.47" r="0.55" fill="#2a78c8" fill-opacity="0.75"/>
<circle cx="269.01" cy="103.94" r="0.55" fill="#10aae2" fill-opacity="0.75"/>
<circle cx="262.55" cy="90.73" r="0.55" fill="#8cd0f4" fill-opacity="0.75"/>
<circle cx="259.10" cy="49.10" r="0.55" fill="#10aae2" fill-opacity="0.75"/>
<circle cx="279.94" cy="41.74" r="0.55" fill="#2a78c8" fill-opacity="0.75"/>
<circle cx="267.88" cy="102.06" r="0.55" fill="#8cd0f4" fill-opacity="0.75"/>
<circle cx="265.18" cy="42.78" r="0.55" fill="#ffffff" fill-opacity="0.75"/>
<circle cx="276.04" cy="54.16" r="0.55" fill="#2a78c8" fill-opacity="0.75"/>
<circle cx="254.88" cy="39.03" r="0.55" fill="#8cd0f4" fill-opacity="0.75"/>
<circle cx="298.14" cy="84.20" r="0.55" fill="#2a78c8" fill-opacity="0.75"/>
<circle cx="275.29" cy="97.69" r="0.55" fill="#10aae2" fill-opacity="0.75"/>
<circle cx="254.68" cy="46.49" r="0.55" fill="#ffffff" fill-opacity="0.75"/>
<circle cx="266.57" cy="51.33" r="0.55" fill="#2a78c8" fill-opacity="0.75"/>
<circle cx="260.35" cy="41.52" r="0.55" fill="#10aae2" fill-opacity="0.75"/>
<circle cx="256.63" cy="59.30" r="0.55" fill="#10aae2" fill-opacity="0.75"/>
<circle cx="276.07" cy="41.36" r="0.55" fill="#2a78c8" fill-opacity="0.75"/>
<circle cx="272.68" cy="48.82" r="0.55" fill="#2a78c8" fill-opacity="0.75"/>
<circle cx="250.52" cy="36.60" r="0.55" fill="#10aae2" fill-opacity="0.75"/>
<circle cx="297.75" cy="89.25" r="0.55" fill="#ffffff" fill-opacity="0.75"/>
<circle cx="249.06" cy="41.27" r="0.55" fill="#0aa0d8" fill-opacity="0.75"/>
<circle cx="285.37" cy="95.78" r="0.55" fill="#1e8fd6" fill-opacity="0.75"/>
<circle cx="284.31" cy="72.18" r="0.55" fill="#0aa0d8" fill-opacity="0.75"/>
<circle cx="299.59" cy="72.09" r="0.55" fill="#ffffff" fill-opacity="0.75"/>
<circle cx="259.96" cy="98.23" r="0.55" fill="#8cd0f4" fill-opacity="0.75"/>
<circle cx="275.51" cy="109.85" r="0.55" fill="#10aae2" fill-opacity="0.75"/>
<circle cx="248.25" cy="60.19" r="0.55" fill="#1e8fd6" fill-opacity="0.75"/>
<circle cx="296.30" cy="76.77" r="0.55" fill="#10aae2" fill-opacity="0.75"/>
<circle cx="256.98" cy="38.90" r="0.55" fill="#0aa0d8" fill-opacity="0.75"/>
<circle cx="270.85" cy="71.68" r="0.55" fill="#1e8fd6" fill-opacity="0.75"/>
<circle cx="253.71" cy="37.36" r="0.55" fill="#1e8fd6" fill-opacity="0.75"/>
<circle cx="249.54" cy="38.50" r="0.55" fill="#ffffff" fill-opacity="0.75"/>
<circle cx="274.98" cy="107.39" r="0.55" fill="#10aae2" fill-opacity="0.75"/>
<circle cx="277.98" cy="76.78" r="0.55" fill="#1e8fd6" fill-opacity="0.75"/>
<circle cx="253.36" cy="66.09" r="0.55" fill="#ffffff" fill-opacity="0.75"/>
<circle cx="296.40" cy="88.14" r="0.55" fill="#10aae2" fill-opacity="0.75"/>
<circle cx="255.72" cy="67.76" r="0.55" fill="#1e8fd6" fill-opacity="0.75"/>
<circle cx="271.25" cy="52.79" r="0.55" fill="#10aae2" fill-opacity="0.75"/>
<circle cx="274.04" cy="48.58" r="0.55" fill="#2a78c8" fill-opacity="0.75"/>
<circle cx="263.61" cy="64.18" r="0.55" fill="#1e8fd6" fill-opacity="0.75"/>
<circle cx="272.95" cy="62.17" r="0.55" fill="#10aae2" fill-opacity="0.75"/>
<circle cx="253.49" cy="57.27" r="0.55" fill="#8cd0f4" fill-opacity="0.75"/>
<circle cx="294.59" cy="75.81" r="0.55" fill="#ffffff" fill-opacity="0.75"/>
<circle cx="292.69" cy="98.69" r="0.55" fill="#10aae2" fill-opacity="0.75"/>
<circle cx="259.26" cy="42.05" r="0.55" fill="#0aa0d8" fill-opacity="0.75"/>
<circle cx="265.89" cy="81.32" r="0.55" fill="#ffffff" fill-opacity="0.75"/>
<circle cx="244.54" cy="45.35" r="0.55" fill="#ffffff" fill-opacity="0.75"/>
<circle cx="266.63" cy="70.99" r="0.55" fill="#10aae2" fill-opacity="0.75"/>
<circle cx="252.48" cy="64.19" r="0.55" fill="#8cd0f4" fill-opacity="0.75"/>
<circle cx="280.29" cy="95.59" r="0.55" fill="#10aae2" fill-opacity="0.75"/>
<circle cx="255.23" cy="85.02" r="0.55" fill="#ffffff" fill-opacity="0.75"/>
<circle cx="279.95" cy="95.35" r="0.55" fill="#10aae2" fill-opacity="0.75"/>
<circle cx="279.47" cy="50.45" r="0.55" fill="#1e8fd6" fill-opacity="0.75"/>
<circle cx="238.03" cy="49.32" r="0.55" fill="#10aae2" fill-opacity="0.75"/>
<circle cx="256.71" cy="54.88" r="0.55" fill="#0aa0d8" fill-opacity="0.75"/>
<circle cx="277.35" cy="105.50" r="0.55" fill="#8cd0f4" fill-opacity="0.75"/>
<circle cx="245.55" cy="40.81" r="0.55" fill="#ffffff" fill-opacity="0.75"/>
<circle cx="299.54" cy="76.85" r="0.55" fill="#ffffff" fill-opacity="0.75"/>
<circle cx="253.70" cy="37.30" r="0.55" fill="#1e8fd6" fill-opacity="0.75"/>
<circle cx="256.68" cy="66.89" r="0.55" fill="#0aa0d8" fill-opacity="0.75"/>
<circle cx="275.99" cy="82.75" r="0.55" fill="#2a78c8" fill-opacity="0.75"/>
<circle cx="274.51" cy="59.84" r="0.55" fill="#1e8fd6" fill-opacity="0.75"/>
<circle cx="257.81" cy="68.81" r="0.55" fill="#ffffff" fill-opacity="0.75"/>
<circle cx="259.30" cy="52.01" r="0.55" fill="#2a78c8" fill-opacity="0.75"/>
<circle cx="257.25" cy="92.59" r="0.55" fill="#2a78c8" fill-opacity="0.75"/>
<circle cx="274.69" cy="79.16" r="0.55" fill="#ffffff" fill-opacity="0.75"/>
<circle cx="267.11" cy="35.21" r="0.55" fill="#8cd0f4" fill-opacity="0.75"/>
<circle cx="289.13" cy="72.29" r="0.55" fill="#0aa0d8" fill-opacity="0.75"/>
<circle cx="260.08" cy="58.68" r="0.55" fill="#0aa0d8" fill-opacity="0.75"/>
<circle cx="255.42" cy="81.16" r="0.55" fill="#0aa0d8" fill-opacity="0.75"/>
<circle cx="289.32" cy="77.54" r="0.55" fill="#8cd0f4" fill-opacity="0.75"/>
<circle cx="256.15" cy="80.41" r="0.55" fill="#10aae2" fill-opacity="0.75"/>
<circle cx="262.99" cy="66.74" r="0.55" fill="#8cd0f4" fill-opacity="0.75"/>
<circle cx="256.75" cy="58.69" r="0.55" fill="#ffffff" fill-opacity="0.75"/>
<circle cx="263.74" cy="75.07" r="0.55" fill="#8cd0f4" fill-opacity="0.75"/>
<circle cx="263.06" cy="54.44" r="0.55" fill="#1e8fd6" fill-opacity="0.75"/>
<circle cx="257.84" cy="41.92" r="0.55" fill="#1e8fd6" fill-opacity="0.75"/>
<circle cx="262.81" cy="48.94" r="0.55" fill="#ffffff" fill-opacity="0.75"/>
<circle cx="259.19" cy="98.35" r="0.55" fill="#2a78c8" fill-opacity="0.75"/>
<circle cx="266.18" cy="103.77" r="0.55" fill="#10aae2" fill-opacity="0.75"/>
<circle cx="238.84" cy="50.93" r="0.55" fill="#8cd0f4" fill-opacity="0.75"/>
<circle cx="257.55" cy="73.54" r="0.55" fill="#ffffff" fill-opacity="0.75"/>
<circle cx="272.39" cy="72.00" r="0.55" fill="#0aa0d8" fill-opacity="0.75"/>
<circle cx="266.43" cy="67.71" r="0.55" fill="#10aae2" fill-opacity="0.75"/>
<circle cx="277.66" cy="58.57" r="0.55" fill="#10aae2" fill-opacity="0.75"/>
<circle cx="283.24" cy="72.64" r="0.55" fill="#10aae2" fill-opacity="0.75"/>
<circle cx="265.03" cy="70.67" r="0.55" fill="#0aa0d8" fill-opacity="0.75"/>
<circle cx="275.38" cy="76.58" r="0.55" fill="#2a78c8" fill-opacity="0.75"/>
<circle cx="267.12" cy="80.67" r="0.55" fill="#1e8fd6" fill-opacity="0.75"/>
<circle cx="260.51" cy="73.04" r="0.55" fill="#10aae2" fill-opacity="0.75"/>
<circle cx="248.74" cy="55.90" r="0.55" fill="#10aae2" fill-opacity="0.75"/>
<circle cx="293.44" cy="71.62" r="0.55" fill="#10aae2" fill-opacity="0.75"/>
<circle cx="281.83" cy="54.03" r="0.55" fill="#ffffff" fill-opacity="0.75"/>
<circle cx="247.77" cy="53.63" r="0.55" fill="#1e8fd6" fill-opacity="0.75"/>
<circle cx="265.22" cy="35.06" r="0.55" fill="#1e8fd6" fill-opacity="0.75"/>
<circle cx="278.23" cy="58.74" r="0.55" fill="#0aa0d8" fill-opacity="0.75"/>
<circle cx="265.16" cy="93.84" r="0.55" fill="#ffffff" fill-opacity="0.75"/>
<circle cx="285.57" cy="74.88" r="0.55" fill="#ffffff" fill-opacity="0.75"/>
<circle cx="264.21" cy="38.16" r="0.55" fill="#10aae2" fill-opacity="0.75"/>
<circle cx="271.05" cy="74.90" r="0.55" fill="#ffffff" fill-opacity="0.75"/>
<circle cx="272.18" cy="41.81" r="0.55" fill="#2a78c8" fill-opacity="0.75"/>
<circle cx="265.14" cy="40.02" r="0.55" fill="#2a78c8" fill-opacity="0.75"/>
<circle cx="272.46" cy="71.37" r="0.55" fill="#10aae2" fill-opacity="0.75"/>
<circle cx="243.93" cy="43.98" r="0.55" fill="#1e8fd6" fill-opacity="0.75"/>
<circle cx="270.55" cy="67.98" r="0.55" fill="#8cd0f4" fill-opacity="0.75"/>
<circle cx="259.12" cy="88.01" r="0.55" fill="#ffffff" fill-opacity="0.75"/>
<circle cx="279.98" cy="99.63" r="0.55" fill="#1e8fd6" fill-opacity="0.75"/>
<circle cx="241.40" cy="45.69" r="0.55" fill="#1e8fd6" fill-opacity="0.75"/>
<circle cx="263.40" cy="34.62" r="0.55" fill="#8cd0f4" fill-opacity="0.75"/>
<circle cx="276.84" cy="107.74" r="0.55" fill="#8cd0f4" fill-opacity="0.75"/>
<circle cx="240.82" cy="49.45" r="0.55" fill="#2a78c8" fill-opacity="0.75"/>
<circle cx="257.81" cy="78.89" r="0.55" fill="#8cd0f4" fill-opacity="0.75"/>
<circle cx="283.29" cy="84.73" r="0.55" fill="#1e8fd6" fill-opacity="0.75"/>
<circle cx="252.20" cy="55.18" r="0.55" fill="#0aa0d8" fill-opacity="0.75"/>
<circle cx="270.14" cy="94.25" r="0.55" fill="#2a78c8" fill-opacity="0.75"/>
<circle cx="243.07" cy="43.93" r="0.55" fill="#8cd0f4" fill-opacity="0.75"/>
<circle cx="256.93" cy="75.57" r="0.55" fill="#10aae2" fill-opacity="0.75"/>
<circle cx="259.95" cy="100.62" r="0.55" fill="#ffffff" fill-opacity="0.75"/>
<circle cx="264.60" cy="35.49" r="0.55" fill="#10aae2" fill-opacity="0.75"/>
<circle cx="265.90" cy="103.97" r="0.55" fill="#1e8fd6" fill-opacity="0.75"/>
<circle cx="253.80" cy="45.65" r="0.55" fill="#ffffff" fill-opacity="0.75"/>
<circle cx="260.59" cy="65.39" r="0.55" fill="#ffffff" fill-opacity="0.75"/>
<circle cx="282.40" cy="57.79" r="0.55" fill="#2a78c8" fill-opacity="0.75"/>
<circle cx="253.59" cy="40.69" r="0.55" fill="#2a78c8" fill-opacity="0.75"/>
<circle cx="294.14" cy="95.24" r="0.55" fill="#2a78c8" fill-opacity="0.75"/>
<circle cx="262.19" cy="47.69" r="0.55" fill="#8cd0f4" fill-opacity="0.75"/>
<circle cx="271.53" cy="48.56" r="0.55" fill="#8cd0f4" fill-opacity="0.75"/>
<circle cx="283.16" cy="106.32" r="0.55" fill="#ffffff" fill-opacity="0.75"/>
<circle cx="277.74" cy="65.78" r="0.55" fill="#ffffff" fill-opacity="0.75"/>
<circle cx="273.56" cy="62.86" r="0.55" fill="#1e8fd6" fill-opacity="0.75"/>
<circle cx="274.10" cy="52.05" r="0.55" fill="#8cd0f4" fill-opacity="0.75"/>
<circle cx="285.57" cy="86.33" r="0.55" fill="#2a78c8" fill-opacity="0.75"/>
<circle cx="258.99" cy="83.75" r="0.55" fill="#10aae2" fill-opacity="0.75"/>
<circle cx="292.01" cy="91.48" r="0.55" fill="#2a78c8" fill-opacity="0.75"/>
<circle cx="241.60" cy="55.35" r="0.55" fill="#2a78c8" fill-opacity="0.75"/>
<circle cx="256.78" cy="96.20" r="0.55" fill="#8cd0f4" fill-opacity="0.75"/>
<circle cx="256.36" cy="62.79" r="0.55" fill="#8cd0f4" fill-opacity="0.75"/>
<circle cx="289.95" cy="101.53" r="0.55" fill="#2a78c8" fill-opacity="0.75"/>
<circle cx="262.10" cy="94.79" r="0.55" fill="#0aa0d8" fill-opacity="0.75"/>
<circle cx="261.07" cy="63.54" r="0.55" fill="#0aa0d8" fill-opacity="0.75"/>
<circle cx="285.10" cy="67.58" r="0.55" fill="#8cd0f4" fill-opacity="0.75"/>
<circle cx="261.11" cy="81.01" r="0.55" fill="#2a78c8" fill-opacity="0.75"/>
<circle cx="256.98" cy="52.09" r="0.55" fill="#1e8fd6" fill-opacity="0.75"/>
<circle cx="287.16" cy="87.78" r="0.55" fill="#10aae2" fill-opacity="0.75"/>
<circle cx="264.70" cy="79.37" r="0.55" fill="#8cd0f4" fill-opacity="0.75"/>
<circle cx="250.61" cy="54.69" r="0.55" fill="#8cd0f4" fill-opacity="0.75"/>
<circle cx="287.45" cy="74.83" r="0.55" fill="#0aa0d8" fill-opacity="0.75"/>
<circle cx="280.63" cy="44.72" r="0.55" fill="#2a78c8" fill-opacity="0.75"/>
<circle cx="275.99" cy="88.10" r="0.55" fill="#ffffff" fill-opacity="0.75"/>
<circle cx="300.23" cy="84.35" r="0.55" fill="#1e8fd6" fill-opacity="0.75"/>
<circle cx="294.00" cy="92.94" r="0.55" fill="#ffffff" fill-opacity="0.75"/>
<circle cx="277.01" cy="86.44" r="0.55" fill="#2a78c8" fill-opacity="0.75"/>
<circle cx="258.83" cy="92.99" r="0.55" fill="#ffffff" fill-opacity="0.75"/>
<circle cx="284.48" cy="62.01" r="0.55" fill="#0aa0d8" fill-opacity="0.75"/>
<circle cx="279.07" cy="48.04" r="0.55" fill="#1e8fd6" fill-opacity="0.75"/>
<circle cx="266.02" cy="105.36" r="0.55" fill="#0aa0d8" fill-opacity="0.75"/>
<circle cx="271.41" cy="85.82" r="0.55" fill="#0aa0d8" fill-opacity="0.75"/>
<circle cx="279.79" cy="71.30" r="0.55" fill="#0aa0d8" fill-opacity="0.75"/>
<circle cx="284.72" cy="64.81" r="0.55" fill="#1e8fd6" fill-opacity="0.75"/>
<circle cx="294.84" cy="93.08" r="0.55" fill="#8cd0f4" fill-opacity="0.75"/>
<circle cx="285.03" cy="95.30" r="0.55" fill="#ffffff" fill-opacity="0.75"/>
<circle cx="249.00" cy="43.43" r="0.55" fill="#0aa0d8" fill-opacity="0.75"/>
<circle cx="253.20" cy="51.23" r="0.55" fill="#10aae2" fill-opacity="0.75"/>
<circle cx="248.56" cy="58.26" r="0.55" fill="#10aae2" fill-opacity="0.75"/>
<circle cx="250.84" cy="55.29" r="0.55" fill="#2a78c8" fill-opacity="0.75"/>
<circle cx="283.90" cy="69.50" r="0.55" fill="#8cd0f4" fill-opacity="0.75"/>
<circle cx="253.32" cy="49.73" r="0.55" fill="#1e8fd6" fill-opacity="0.75"/>
<circle cx="280.81" cy="86.60" r="0.55" fill="#2a78c8" fill-opacity="0.75"/>
<circle cx="275.51" cy="57.15" r="0.55" fill="#10aae2" fill-opacity="0.75"/>
<circle cx="274.49" cy="91.65" r="0.55" fill="#2a78c8" fill-opacity="0.75"/>
<circle cx="264.80" cy="46.87" r="0.55" fill="#0aa0d8" fill-opacity="0.75"/>
<circle cx="256.83" cy="59.33" r="0.55" fill="#2a78c8" fill-opacity="0.75"/>
<circle cx="257.83" cy="39.14" r="0.55" fill="#ffffff" fill-opacity="0.75"/>
<circle cx="267.65" cy="39.33" r="0.55" fill="#ffffff" fill-opacity="0.75"/>
<circle cx="267.45" cy="76.19" r="0.55" fill="#ffffff" fill-opacity="0.75"/>
<circle cx="286.01" cy="109.40" r="0.55" fill="#1e8fd6" fill-opacity="0.75"/>
<circle cx="255.13" cy="82.32" r="0.55" fill="#8cd0f4" fill-opacity="0.75"/>
<circle cx="270.41" cy="93.54" r="0.55" fill="#ffffff" fill-opacity="0.75"/>
<circle cx="281.06" cy="80.92" r="0.55" fill="#0aa0d8" fill-opacity="0.75"/>
<circle cx="281.61" cy="50.51" r="0.55" fill="#2a78c8" fill-opacity="0.75"/>
<circle cx="247.00" cy="59.93" r="0.55" fill="#0aa0d8" fill-opacity="0.75"/>
<circle cx="272.93" cy="102.56" r="0.55" fill="#0aa0d8" fill-opacity="0.75"/>
<circle cx="293.73" cy="90.18" r="0.55" fill="#ffffff" fill-opacity="0.75"/>
<circle cx="262.97" cy="82.50" r="0.55" fill="#ffffff" fill-opacity="0.75"/>
<circle cx="258.93" cy="59.98" r="0.55" fill="#1e8fd6" fill-opacity="0.75"/>
<circle cx="264.60" cy="34.28" r="0.55" fill="#2a78c8" fill-opacity="0.75"/>
<circle cx="270.82" cy="70.56" r="0.55" fill="#2a78c8" fill-opacity="0.75"/>
<circle cx="279.83" cy="41.66" r="0.55" fill="#2a78c8" fill-opacity="0.75"/>
<circle cx="295.43" cy="93.78" r="0.55" fill="#8cd0f4" fill-opacity="0.75"/>
<circle cx="291.94" cy="84.76" r="0.55" fill="#1e8fd6" fill-opacity="0.75"/>
<circle cx="250.43" cy="37.07" r="0.55" fill="#ffffff" fill-opacity="0.75"/>
<circle cx="272.34" cy="64.81" r="0.55" fill="#1e8fd6" fill-opacity="0.75"/>
<circle cx="279.38" cy="95.74" r="0.55" fill="#10aae2" fill-opacity="0.75"/>
<circle cx="282.01" cy="75.85" r="0.55" fill="#8cd0f4" fill-opacity="0.75"/>
<circle cx="281.25" cy="54.38" r="0.55" fill="#ffffff" fill-opacity="0.75"/>
<circle cx="250.26" cy="53.01" r="0.5" fill="#8a3b91"/>
<circle cx="242.56" cy="56.19" r="0.5" fill="#d2691e"/>
<circle cx="240.67" cy="51.37" r="0.5" fill="#c4195b"/>
<circle cx="246.00" cy="41.21" r="0.5" fill="#8ccbe0"/>
<circle cx="246.91" cy="37.43" r="0.5" fill="#2e8b57"/>
<circle cx="255.75" cy="40.64" r="0.5" fill="#e59a3d"/>
<circle cx="253.24" cy="39.63" r="0.5" fill="#e59a3d"/>
<circle cx="254.73" cy="40.81" r="0.5" fill="#8ccbe0"/>
<circle cx="242.66" cy="51.18" r="0.5" fill="#d2691e"/>
<circle cx="251.17" cy="59.55" r="0.5" fill="#d2691e"/>
<circle cx="249.58" cy="49.22" r="0.5" fill="#d2691e"/>
<circle cx="249.88" cy="47.80" r="0.5" fill="#c4195b"/>
<circle cx="241.79" cy="48.25" r="0.5" fill="#d2691e"/>
<circle cx="240.42" cy="57.28" r="0.5" fill="#f6b13f"/>
<circle cx="247.11" cy="35.42" r="0.5" fill="#f6b13f"/>
<circle cx="237.38" cy="51.83" r="0.5" fill="#8a3b91"/>
<circle cx="248.49" cy="37.62" r="0.5" fill="#2e8b57"/>
<circle cx="247.65" cy="60.66" r="0.5" fill="#8a3b91"/>
<circle cx="255.64" cy="44.24" r="0.5" fill="#f6b13f"/>
<circle cx="246.33" cy="56.12" r="0.5" fill="#1e8fd6"/>
<circle cx="252.09" cy="36.99" r="0.5" fill="#1e8fd6"/>
<circle cx="243.37" cy="39.79" r="0.5" fill="#8ccbe0"/>
<circle cx="248.00" cy="57.74" r="0.5" fill="#8ccbe0"/>
<circle cx="241.63" cy="50.63" r="0.5" fill="#e59a3d"/>
<circle cx="256.04" cy="42.06" r="0.5" fill="#8ccbe0"/>
<circle cx="237.35" cy="44.27" r="0.5" fill="#2e8b57"/>
<circle cx="249.18" cy="48.52" r="0.5" fill="#f6b13f"/>
<circle cx="241.56" cy="58.55" r="0.5" fill="#c4195b"/>
<circle cx="254.32" cy="47.46" r="0.5" fill="#8a3b91"/>
<circle cx="238.90" cy="43.88" r="0.5" fill="#8a3b91"/>
<circle cx="244.78" cy="37.93" r="0.5" fill="#f6b13f"/>
<circle cx="242.28" cy="58.58" r="0.5" fill="#8ccbe0"/>
<circle cx="245.28" cy="48.05" r="0.5" fill="#1e8fd6"/>
<circle cx="244.86" cy="44.07" r="0.5" fill="#8ccbe0"/>
<circle cx="253.77" cy="42.18" r="0.5" fill="#e59a3d"/>
<circle cx="245.92" cy="51.21" r="0.5" fill="#2e8b57"/>
<circle cx="251.02" cy="57.13" r="0.5" fill="#8a3b91"/>
<circle cx="256.36" cy="52.99" r="0.5" fill="#d2691e"/>
<circle cx="246.07" cy="42.45" r="0.5" fill="#8a3b91"/>
<circle cx="254.03" cy="43.12" r="0.5" fill="#1e8fd6"/>
<circle cx="255.49" cy="49.27" r="0.5" fill="#8a3b91"/>
<circle cx="245.76" cy="50.52" r="0.5" fill="#c4195b"/>
<circle cx="245.36" cy="55.13" r="0.5" fill="#1e8fd6"/>
<circle cx="249.59" cy="60.83" r="0.5" fill="#8a3b91"/>
<circle cx="253.78" cy="46.15" r="0.5" fill="#c4195b"/>
<circle cx="251.22" cy="43.07" r="0.5" fill="#2e8b57"/>
<circle cx="251.67" cy="38.31" r="0.5" fill="#e59a3d"/>
<circle cx="243.30" cy="51.16" r="0.5" fill="#1e8fd6"/>
<circle cx="238.84" cy="39.71" r="0.5" fill="#d2691e"/>
<circle cx="251.62" cy="43.13" r="0.5" fill="#1e8fd6"/>
<circle cx="256.36" cy="46.85" r="0.5" fill="#d2691e"/>
<circle cx="250.66" cy="56.75" r="0.5" fill="#e59a3d"/>
<circle cx="238.19" cy="47.44" r="0.5" fill="#e59a3d"/>
<circle cx="241.92" cy="56.02" r="0.5" fill="#2e8b57"/>
<circle cx="252.03" cy="36.38" r="0.5" fill="#1e8fd6"/>
<circle cx="243.77" cy="53.27" r="0.5" fill="#f6b13f"/>
<circle cx="242.31" cy="43.80" r="0.5" fill="#f6b13f"/>
<circle cx="253.22" cy="46.16" r="0.5" fill="#1e8fd6"/>
<circle cx="252.32" cy="57.28" r="0.5" fill="#c4195b"/>
<circle cx="243.43" cy="47.90" r="0.5" fill="#f6b13f"/>
<circle cx="237.64" cy="43.51" r="0.5" fill="#1e8fd6"/>
<circle cx="238.40" cy="52.42" r="0.5" fill="#1e8fd6"/>
<circle cx="242.26" cy="49.88" r="0.5" fill="#d2691e"/>
<circle cx="245.95" cy="44.85" r="0.5" fill="#1e8fd6"/>
<circle cx="250.47" cy="51.65" r="0.5" fill="#2e8b57"/>
<circle cx="253.43" cy="52.05" r="0.5" fill="#1e8fd6"/>
<circle cx="242.75" cy="52.56" r="0.5" fill="#8ccbe0"/>
<circle cx="244.73" cy="57.18" r="0.5" fill="#8ccbe0"/>
<circle cx="250.98" cy="44.84" r="0.5" fill="#e59a3d"/>
<circle cx="248.89" cy="53.66" r="0.5" fill="#1e8fd6"/>
<circle cx="240.76" cy="52.87" r="0.5" fill="#c4195b"/>
<circle cx="238.50" cy="49.06" r="0.5" fill="#2e8b57"/>
<circle cx="243.48" cy="52.18" r="0.5" fill="#2e8b57"/>
<circle cx="250.21" cy="44.52" r="0.5" fill="#8a3b91"/>
<circle cx="248.04" cy="59.80" r="0.5" fill="#8a3b91"/>
<circle cx="252.90" cy="44.33" r="0.5" fill="#c4195b"/>
<circle cx="248.50" cy="43.71" r="0.5" fill="#f6b13f"/>
<circle cx="239.70" cy="56.00" r="0.5" fill="#d2691e"/>
<circle cx="253.86" cy="44.52" r="0.5" fill="#8a3b91"/>
<circle cx="251.11" cy="46.30" r="0.5" fill="#c4195b"/>
<circle cx="242.60" cy="41.56" r="0.5" fill="#e59a3d"/>
<circle cx="254.73" cy="41.25" r="0.5" fill="#1e8fd6"/>
<circle cx="242.08" cy="56.78" r="0.5" fill="#e59a3d"/>
<circle cx="242.42" cy="51.09" r="0.5" fill="#2e8b57"/>
<circle cx="240.41" cy="43.00" r="0.5" fill="#d2691e"/>
<circle cx="245.29" cy="48.57" r="0.5" fill="#8a3b91"/>
<circle cx="241.04" cy="54.48" r="0.5" fill="#8ccbe0"/>
<circle cx="256.35" cy="47.17" r="0.5" fill="#c4195b"/>
<circle cx="240.77" cy="56.08" r="0.5" fill="#d2691e"/>
<circle cx="255.78" cy="47.93" r="0.5" fill="#c4195b"/>
<circle cx="239.26" cy="44.19" r="0.5" fill="#c4195b"/>
<circle cx="237.95" cy="49.14" r="0.5" fill="#8a3b91"/>
<circle cx="251.37" cy="54.95" r="0.5" fill="#f6b13f"/>
<circle cx="242.60" cy="50.21" r="0.5" fill="#d2691e"/>
<circle cx="250.25" cy="59.19" r="0.5" fill="#d2691e"/>
<circle cx="245.74" cy="40.45" r="0.5" fill="#8a3b91"/>
<circle cx="255.28" cy="42.19" r="0.5" fill="#2e8b57"/>
<circle cx="245.14" cy="35.24" r="0.5" fill="#8ccbe0"/>
<circle cx="250.60" cy="50.46" r="0.5" fill="#c4195b"/>
<circle cx="254.94" cy="45.98" r="0.5" fill="#1e8fd6"/>
<circle cx="250.50" cy="45.49" r="0.5" fill="#2e8b57"/>
<circle cx="246.68" cy="45.56" r="0.5" fill="#c4195b"/>
<circle cx="252.87" cy="41.17" r="0.5" fill="#e59a3d"/>
<circle cx="254.34" cy="55.90" r="0.5" fill="#8a3b91"/>
<circle cx="239.17" cy="52.62" r="0.5" fill="#f6b13f"/>
<circle cx="254.35" cy="43.73" r="0.5" fill="#8ccbe0"/>
<circle cx="250.72" cy="43.47" r="0.5" fill="#f6b13f"/>
<circle cx="248.84" cy="53.42" r="0.5" fill="#8ccbe0"/>
<circle cx="249.75" cy="51.77" r="0.5" fill="#c4195b"/>
<circle cx="242.86" cy="52.89" r="0.5" fill="#c4195b"/>
<circle cx="245.88" cy="35.92" r="0.5" fill="#e59a3d"/>
<circle cx="252.32" cy="54.32" r="0.5" fill="#1e8fd6"/>
<circle cx="256.13" cy="41.87" r="0.5" fill="#8ccbe0"/>
<circle cx="251.74" cy="51.12" r="0.5" fill="#2e8b57"/>
<circle cx="246.10" cy="40.15" r="0.5" fill="#2e8b57"/>
<circle cx="241.31" cy="58.66" r="0.5" fill="#8ccbe0"/>
<circle cx="246.04" cy="59.91" r="0.5" fill="#c4195b"/>
<circle cx="240.08" cy="38.62" r="0.5" fill="#e59a3d"/>
<circle cx="246.38" cy="44.94" r="0.5" fill="#e59a3d"/>
<circle cx="248.32" cy="36.64" r="0.5" fill="#c4195b"/>
<circle cx="244.26" cy="47.39" r="0.5" fill="#d2691e"/>
<circle cx="248.23" cy="48.35" r="0.5" fill="#2e8b57"/>
<circle cx="254.00" cy="45.01" r="0.5" fill="#8a3b91"/>
<circle cx="252.57" cy="49.70" r="0.5" fill="#c4195b"/>
<circle cx="243.32" cy="50.69" r="0.5" fill="#f6b13f"/>
<circle cx="241.46" cy="55.55" r="0.5" fill="#e59a3d"/>
<circle cx="243.64" cy="47.14" r="0.5" fill="#8ccbe0"/>
<circle cx="247.58" cy="57.77" r="0.5" fill="#1e8fd6"/>
<circle cx="246.39" cy="35.25" r="0.5" fill="#e59a3d"/>
<circle cx="252.19" cy="41.70" r="0.5" fill="#8a3b91"/>
<circle cx="246.63" cy="51.36" r="0.5" fill="#8a3b91"/>
<circle cx="251.51" cy="35.90" r="0.5" fill="#8a3b91"/>
<circle cx="245.24" cy="36.12" r="0.5" fill="#8ccbe0"/>
<circle cx="246.49" cy="49.77" r="0.5" fill="#8ccbe0"/>
<circle cx="280.59" cy="37.72" r="0.5" fill="#f6b13f"/>
<circle cx="262.37" cy="36.76" r="0.5" fill="#e59a3d"/>
<circle cx="275.42" cy="35.23" r="0.5" fill="#e59a3d"/>
<circle cx="263.88" cy="30.78" r="0.5" fill="#e59a3d"/>
<circle cx="270.81" cy="36.14" r="0.5" fill="#f6b13f"/>
<circle cx="274.75" cy="38.89" r="0.5" fill="#e59a3d"/>
<circle cx="271.92" cy="41.11" r="0.5" fill="#8a3b91"/>
<circle cx="272.18" cy="39.23" r="0.5" fill="#e59a3d"/>
<circle cx="262.60" cy="32.65" r="0.5" fill="#f6b13f"/>
<circle cx="272.56" cy="30.19" r="0.5" fill="#e59a3d"/>
<circle cx="261.94" cy="39.04" r="0.5" fill="#1e8fd6"/>
<circle cx="269.99" cy="39.89" r="0.5" fill="#2e8b57"/>
<circle cx="275.64" cy="35.79" r="0.5" fill="#f6b13f"/>
<circle cx="272.11" cy="38.98" r="0.5" fill="#1e8fd6"/>
<circle cx="263.08" cy="34.88" r="0.5" fill="#f6b13f"/>
<circle cx="279.18" cy="31.75" r="0.5" fill="#8a3b91"/>
<circle cx="264.19" cy="41.79" r="0.5" fill="#2e8b57"/>
<circle cx="281.75" cy="33.30" r="0.5" fill="#8a3b91"/>
<circle cx="261.91" cy="34.60" r="0.5" fill="#1e8fd6"/>
<circle cx="278.90" cy="36.67" r="0.5" fill="#1e8fd6"/>
<circle cx="279.49" cy="38.17" r="0.5" fill="#8a3b91"/>
<circle cx="266.70" cy="40.40" r="0.5" fill="#e59a3d"/>
<circle cx="278.85" cy="33.09" r="0.5" fill="#2e8b57"/>
<circle cx="262.90" cy="32.49" r="0.5" fill="#1e8fd6"/>
<circle cx="268.22" cy="35.57" r="0.5" fill="#e59a3d"/>
<circle cx="275.62" cy="31.70" r="0.5" fill="#8a3b91"/>
<circle cx="264.41" cy="41.03" r="0.5" fill="#1e8fd6"/>
<circle cx="274.61" cy="38.75" r="0.5" fill="#f6b13f"/>
<circle cx="271.73" cy="34.91" r="0.5" fill="#1e8fd6"/>
<circle cx="278.11" cy="30.42" r="0.5" fill="#2e8b57"/>
<circle cx="277.51" cy="33.50" r="0.5" fill="#1e8fd6"/>
<circle cx="264.61" cy="41.68" r="0.5" fill="#1e8fd6"/>
<circle cx="270.00" cy="41.22" r="0.5" fill="#e59a3d"/>
<circle cx="264.48" cy="32.44" r="0.5" fill="#2e8b57"/>
<circle cx="269.54" cy="37.67" r="0.5" fill="#f6b13f"/>
<circle cx="263.01" cy="40.56" r="0.5" fill="#1e8fd6"/>
<circle cx="270.94" cy="30.17" r="0.5" fill="#1e8fd6"/>
<circle cx="272.34" cy="39.61" r="0.5" fill="#e59a3d"/>
<circle cx="264.86" cy="38.65" r="0.5" fill="#1e8fd6"/>
<circle cx="266.49" cy="32.53" r="0.5" fill="#2e8b57"/>
<circle cx="263.21" cy="41.01" r="0.5" fill="#2e8b57"/>
<circle cx="271.36" cy="35.59" r="0.5" fill="#2e8b57"/>
<circle cx="277.25" cy="41.41" r="0.5" fill="#e59a3d"/>
<circle cx="264.92" cy="40.00" r="0.5" fill="#1e8fd6"/>
<circle cx="279.93" cy="38.23" r="0.5" fill="#2e8b57"/>
<circle cx="279.10" cy="41.09" r="0.5" fill="#2e8b57"/>
<circle cx="260.92" cy="40.03" r="0.5" fill="#8a3b91"/>
<circle cx="276.68" cy="40.50" r="0.5" fill="#8a3b91"/>
<circle cx="275.55" cy="38.63" r="0.5" fill="#8a3b91"/>
<circle cx="280.06" cy="33.89" r="0.5" fill="#2e8b57"/>
<circle cx="263.34" cy="39.59" r="0.5" fill="#2e8b57"/>
<circle cx="268.61" cy="30.40" r="0.5" fill="#e59a3d"/>
<circle cx="263.43" cy="33.49" r="0.5" fill="#1e8fd6"/>
<circle cx="272.01" cy="31.12" r="0.5" fill="#e59a3d"/>
<circle cx="263.28" cy="32.21" r="0.5" fill="#8a3b91"/>
<circle cx="274.94" cy="31.37" r="0.5" fill="#8a3b91"/>
<circle cx="262.69" cy="41.08" r="0.5" fill="#1e8fd6"/>
<circle cx="280.67" cy="36.32" r="0.5" fill="#8a3b91"/>
<circle cx="270.78" cy="30.21" r="0.5" fill="#e59a3d"/>
<circle cx="279.57" cy="40.96" r="0.5" fill="#2e8b57"/>
<circle cx="270.66" cy="40.37" r="0.5" fill="#1e8fd6"/>
<circle cx="272.85" cy="39.07" r="0.5" fill="#2e8b57"/>
<circle cx="263.07" cy="33.25" r="0.5" fill="#2e8b57"/>
<circle cx="272.73" cy="33.60" r="0.5" fill="#1e8fd6"/>
<circle cx="273.17" cy="41.61" r="0.5" fill="#8a3b91"/>
<circle cx="264.28" cy="31.83" r="0.5" fill="#8a3b91"/>
<circle cx="261.10" cy="34.00" r="0.5" fill="#e59a3d"/>
<circle cx="270.58" cy="33.95" r="0.5" fill="#8a3b91"/>
<circle cx="263.93" cy="39.45" r="0.5" fill="#8a3b91"/>
<circle cx="277.80" cy="38.68" r="0.5" fill="#e59a3d"/>
<circle cx="262.10" cy="36.62" r="0.5" fill="#2e8b57"/>
<circle cx="273.10" cy="35.54" r="0.5" fill="#f6b13f"/>
<circle cx="260.87" cy="36.95" r="0.5" fill="#e59a3d"/>
<circle cx="274.23" cy="31.58" r="0.5" fill="#1e8fd6"/>
<circle cx="278.42" cy="30.91" r="0.5" fill="#1e8fd6"/>
<circle cx="274.59" cy="31.97" r="0.5" fill="#2e8b57"/>
<circle cx="274.58" cy="31.08" r="0.5" fill="#f6b13f"/>
<circle cx="278.53" cy="40.48" r="0.5" fill="#e59a3d"/>
<circle cx="266.67" cy="33.14" r="0.5" fill="#f6b13f"/>
<circle cx="279.34" cy="31.40" r="0.5" fill="#e59a3d"/>
<circle cx="265.95" cy="36.49" r="0.5" fill="#8a3b91"/>
<circle cx="270.29" cy="31.97" r="0.5" fill="#1e8fd6"/>
<circle cx="260.93" cy="33.07" r="0.5" fill="#2e8b57"/>
<circle cx="266.24" cy="36.66" r="0.5" fill="#2e8b57"/>
<circle cx="279.98" cy="38.72" r="0.5" fill="#1e8fd6"/>
<circle cx="271.04" cy="40.69" r="0.5" fill="#f6b13f"/>
<circle cx="262.33" cy="30.64" r="0.5" fill="#1e8fd6"/>
<circle cx="272.55" cy="38.27" r="0.5" fill="#2e8b57"/>
<circle cx="261.91" cy="32.06" r="0.5" fill="#8a3b91"/>
<circle cx="281.96" cy="35.09" r="0.5" fill="#1e8fd6"/>
<circle cx="276.81" cy="87.30" r="0.45" fill="#e4eef6"/>
<circle cx="283.14" cy="82.11" r="0.45" fill="#e4eef6"/>
<circle cx="277.83" cy="85.85" r="0.45" fill="#e4eef6"/>
<circle cx="278.12" cy="99.60" r="0.45" fill="#e4eef6"/>
<circle cx="280.08" cy="81.55" r="0.45" fill="#e4eef6"/>
<circle cx="272.18" cy="94.98" r="0.45" fill="#e4eef6"/>
<circle cx="284.71" cy="81.03" r="0.45" fill="#e4eef6"/>
<circle cx="278.51" cy="97.30" r="0.45" fill="#e4eef6"/>
<circle cx="281.85" cy="88.55" r="0.45" fill="#e4eef6"/>
<circle cx="281.78" cy="91.54" r="0.45" fill="#e4eef6"/>
<circle cx="283.65" cy="80.27" r="0.45" fill="#e4eef6"/>
<circle cx="283.99" cy="90.30" r="0.45" fill="#e4eef6"/>
<circle cx="274.92" cy="82.20" r="0.45" fill="#e4eef6"/>
<circle cx="272.16" cy="98.34" r="0.45" fill="#e4eef6"/>
<circle cx="279.54" cy="83.78" r="0.45" fill="#e4eef6"/>
<circle cx="273.85" cy="83.51" r="0.45" fill="#e4eef6"/>
<circle cx="271.37" cy="85.49" r="0.45" fill="#e4eef6"/>
<circle cx="273.63" cy="104.40" r="0.45" fill="#e4eef6"/>
<circle cx="284.95" cy="99.79" r="0.45" fill="#e4eef6"/>
<circle cx="276.16" cy="92.43" r="0.45" fill="#e4eef6"/>
<circle cx="281.25" cy="102.70" r="0.45" fill="#e4eef6"/>
<circle cx="280.77" cy="95.91" r="0.45" fill="#e4eef6"/>
<circle cx="271.38" cy="95.63" r="0.45" fill="#e4eef6"/>
<circle cx="282.38" cy="99.67" r="0.45" fill="#e4eef6"/>
<circle cx="269.57" cy="97.94" r="0.45" fill="#e4eef6"/>
<circle cx="273.94" cy="84.06" r="0.45" fill="#e4eef6"/>
<circle cx="284.42" cy="96.82" r="0.45" fill="#e4eef6"/>
<circle cx="280.67" cy="83.37" r="0.45" fill="#e4eef6"/>
<circle cx="282.08" cy="103.43" r="0.45" fill="#e4eef6"/>
<circle cx="283.38" cy="98.62" r="0.45" fill="#e4eef6"/>
<circle cx="282.15" cy="100.05" r="0.45" fill="#e4eef6"/>
<circle cx="278.04" cy="90.88" r="0.45" fill="#e4eef6"/>
<circle cx="282.03" cy="99.61" r="0.45" fill="#e4eef6"/>
<circle cx="282.80" cy="87.47" r="0.45" fill="#e4eef6"/>
<circle cx="284.34" cy="93.29" r="0.45" fill="#e4eef6"/>
<circle cx="284.08" cy="82.90" r="0.45" fill="#e4eef6"/>
<circle cx="284.46" cy="99.69" r="0.45" fill="#e4eef6"/>
<circle cx="272.28" cy="100.96" r="0.45" fill="#e4eef6"/>
<circle cx="271.95" cy="84.95" r="0.45" fill="#e4eef6"/>
<circle cx="275.78" cy="85.92" r="0.45" fill="#e4eef6"/>
<circle cx="276.37" cy="102.70" r="0.45" fill="#e4eef6"/>
<circle cx="279.65" cy="97.76" r="0.45" fill="#e4eef6"/>
<circle cx="274.66" cy="99.60" r="0.45" fill="#e4eef6"/>
<circle cx="281.49" cy="97.07" r="0.45" fill="#e4eef6"/>
<circle cx="284.01" cy="100.64" r="0.45" fill="#e4eef6"/>
<circle cx="274.91" cy="82.18" r="0.45" fill="#e4eef6"/>
<circle cx="279.09" cy="100.91" r="0.45" fill="#e4eef6"/>
<circle cx="273.77" cy="94.87" r="0.45" fill="#e4eef6"/>
<circle cx="282.22" cy="99.82" r="0.45" fill="#e4eef6"/>
<circle cx="268.08" cy="92.23" r="0.45" fill="#e4eef6"/>
<circle cx="268.28" cy="82.76" r="0.45" fill="#e4eef6"/>
<circle cx="281.81" cy="90.47" r="0.45" fill="#e4eef6"/>
<circle cx="278.28" cy="91.44" r="0.45" fill="#e4eef6"/>
<circle cx="273.70" cy="85.34" r="0.45" fill="#e4eef6"/>
<circle cx="274.01" cy="101.11" r="0.45" fill="#e4eef6"/>
<circle cx="278.53" cy="87.30" r="0.45" fill="#e4eef6"/>
<circle cx="269.50" cy="86.78" r="0.45" fill="#e4eef6"/>
<circle cx="279.92" cy="91.05" r="0.45" fill="#e4eef6"/>
<circle cx="279.24" cy="100.18" r="0.45" fill="#e4eef6"/>
<circle cx="270.05" cy="97.07" r="0.45" fill="#e4eef6"/>
<circle cx="268.71" cy="100.57" r="0.45" fill="#e4eef6"/>
<circle cx="271.13" cy="86.79" r="0.45" fill="#e4eef6"/>
<circle cx="284.28" cy="89.06" r="0.45" fill="#e4eef6"/>
<circle cx="271.81" cy="102.25" r="0.45" fill="#e4eef6"/>
<circle cx="278.37" cy="102.35" r="0.45" fill="#e4eef6"/>
<circle cx="274.70" cy="92.49" r="0.45" fill="#e4eef6"/>
<circle cx="284.25" cy="92.67" r="0.45" fill="#e4eef6"/>
<circle cx="284.81" cy="84.74" r="0.45" fill="#e4eef6"/>
<circle cx="282.12" cy="84.06" r="0.45" fill="#e4eef6"/>
<circle cx="276.96" cy="80.01" r="0.45" fill="#e4eef6"/>
<circle cx="266.75" cy="67.45" r="0.45" fill="#e4eef6"/>
<circle cx="269.55" cy="66.09" r="0.45" fill="#e4eef6"/>
<circle cx="267.51" cy="61.52" r="0.45" fill="#e4eef6"/>
<circle cx="266.01" cy="63.53" r="0.45" fill="#e4eef6"/>
<circle cx="273.62" cy="63.14" r="0.45" fill="#e4eef6"/>
<circle cx="268.77" cy="67.29" r="0.45" fill="#e4eef6"/>
<circle cx="273.94" cy="64.66" r="0.45" fill="#e4eef6"/>
<circle cx="265.76" cy="64.24" r="0.45" fill="#e4eef6"/>
<circle cx="269.44" cy="67.58" r="0.45" fill="#e4eef6"/>
<circle cx="268.62" cy="64.61" r="0.45" fill="#e4eef6"/>
<circle cx="271.32" cy="61.76" r="0.45" fill="#e4eef6"/>
<circle cx="270.22" cy="64.77" r="0.45" fill="#e4eef6"/>
<circle cx="274.07" cy="62.98" r="0.45" fill="#e4eef6"/>
<circle cx="268.64" cy="67.76" r="0.45" fill="#e4eef6"/>
<circle cx="265.57" cy="66.35" r="0.45" fill="#e4eef6"/>
<circle cx="271.84" cy="63.57" r="0.45" fill="#e4eef6"/>
<circle cx="269.48" cy="65.51" r="0.45" fill="#e4eef6"/>
<circle cx="273.91" cy="65.29" r="0.45" fill="#e4eef6"/>
<circle cx="272.50" cy="58.35" r="0.45" fill="#e4eef6"/>
<circle cx="268.25" cy="59.37" r="0.45" fill="#e4eef6"/>
<circle cx="274.53" cy="66.91" r="0.45" fill="#e4eef6"/>
<circle cx="266.45" cy="63.88" r="0.45" fill="#e4eef6"/>
<circle cx="270.77" cy="58.47" r="0.45" fill="#e4eef6"/>
<circle cx="268.92" cy="65.47" r="0.45" fill="#e4eef6"/>
<circle cx="271.41" cy="60.81" r="0.45" fill="#e4eef6"/>
<line x1="201.00" y1="107.20" x2="203.50" y2="109.20" stroke="#c4195b" stroke-width="0.9"/>
<rect x="379.50" y="19.90" width="5.75" height="31.54" fill="#17508f"/>
<rect x="379.50" y="51.44" width="5.75" height="28.91" fill="#d0123a"/>
<rect x="379.50" y="80.34" width="5.75" height="27.16" fill="#34ac3c"/>
<rect x="386.40" y="19.90" width="5.75" height="21.02" fill="#17508f"/>
<rect x="386.40" y="40.92" width="5.75" height="47.30" fill="#d0123a"/>
<rect x="386.40" y="88.23" width="5.75" height="19.27" fill="#34ac3c"/>
<rect x="393.30" y="19.90" width="5.75" height="30.66" fill="#17508f"/>
<rect x="393.30" y="50.56" width="5.75" height="30.66" fill="#d0123a"/>
<rect x="393.30" y="81.22" width="5.75" height="26.28" fill="#34ac3c"/>
<rect x="400.20" y="19.90" width="5.75" height="34.16" fill="#17508f"/>
<rect x="400.20" y="54.06" width="5.75" height="25.40" fill="#d0123a"/>
<rect x="400.20" y="79.47" width="5.75" height="28.03" fill="#34ac3c"/>
<rect x="407.10" y="19.90" width="5.75" height="38.54" fill="#17508f"/>
<rect x="407.10" y="58.44" width="5.75" height="14.02" fill="#d0123a"/>
<rect x="407.10" y="72.46" width="5.75" height="35.04" fill="#34ac3c"/>
<rect x="414.00" y="19.90" width="5.75" height="35.92" fill="#17508f"/>
<rect x="414.00" y="55.82" width="5.75" height="20.15" fill="#d0123a"/>
<rect x="414.00" y="75.96" width="5.75" height="31.54" fill="#34ac3c"/>
<rect x="420.90" y="19.90" width="5.75" height="39.42" fill="#17508f"/>
<rect x="420.90" y="59.32" width="5.75" height="17.52" fill="#d0123a"/>
<rect x="420.90" y="76.84" width="5.75" height="30.66" fill="#34ac3c"/>
<rect x="427.80" y="19.90" width="5.75" height="33.29" fill="#17508f"/>
<rect x="427.80" y="53.19" width="5.75" height="31.54" fill="#d0123a"/>
<rect x="427.80" y="84.72" width="5.75" height="22.78" fill="#34ac3c"/>
<rect x="434.70" y="19.90" width="5.75" height="42.05" fill="#17508f"/>
<rect x="434.70" y="61.95" width="5.75" height="14.89" fill="#d0123a"/>
<rect x="434.70" y="76.84" width="5.75" height="30.66" fill="#34ac3c"/>
<rect x="441.60" y="19.90" width="5.75" height="26.28" fill="#17508f"/>
<rect x="441.60" y="46.18" width="5.75" height="35.04" fill="#d0123a"/>
<rect x="441.60" y="81.22" width="5.75" height="26.28" fill="#34ac3c"/>
<line x1="378.40" y1="16.90" x2="378.40" y2="108.70" stroke="#222" stroke-width="1.1"/>
<line x1="377.85" y1="108.20" x2="448.60" y2="108.20" stroke="#222" stroke-width="1.1"/>
<line x1="375.40" y1="107.50" x2="378.40" y2="107.50" stroke="#222" stroke-width="0.9"/>
<text x="372.20" y="109.73" font-size="6.2" fill="#222" stroke="#222" stroke-width="0.12" text-anchor="end">0.00</text>
<line x1="375.40" y1="85.60" x2="378.40" y2="85.60" stroke="#222" stroke-width="0.9"/>
<text x="372.20" y="87.83" font-size="6.2" fill="#222" stroke="#222" stroke-width="0.12" text-anchor="end">0.25</text>
<line x1="375.40" y1="63.70" x2="378.40" y2="63.70" stroke="#222" stroke-width="0.9"/>
<text x="372.20" y="65.93" font-size="6.2" fill="#222" stroke="#222" stroke-width="0.12" text-anchor="end">0.50</text>
<line x1="375.40" y1="41.80" x2="378.40" y2="41.80" stroke="#222" stroke-width="0.9"/>
<text x="372.20" y="44.03" font-size="6.2" fill="#222" stroke="#222" stroke-width="0.12" text-anchor="end">0.75</text>
<line x1="375.40" y1="19.90" x2="378.40" y2="19.90" stroke="#222" stroke-width="0.9"/>
<text x="372.20" y="22.13" font-size="6.2" fill="#222" stroke="#222" stroke-width="0.12" text-anchor="end">1.00</text>
<line x1="382.38" y1="108.20" x2="382.38" y2="110.70" stroke="#222" stroke-width="0.9"/>
<text transform="translate(384.57 114.60) rotate(-45)" x="0" y="1.9" font-size="5.4" fill="#222" text-anchor="end">HA01</text>
<line x1="389.27" y1="108.20" x2="389.27" y2="110.70" stroke="#222" stroke-width="0.9"/>
<text transform="translate(391.47 114.60) rotate(-45)" x="0" y="1.9" font-size="5.4" fill="#222" text-anchor="end">HA05</text>
<line x1="396.18" y1="108.20" x2="396.18" y2="110.70" stroke="#222" stroke-width="0.9"/>
<text transform="translate(398.38 114.60) rotate(-45)" x="0" y="1.9" font-size="5.4" fill="#222" text-anchor="end">HA14</text>
<line x1="403.07" y1="108.20" x2="403.07" y2="110.70" stroke="#222" stroke-width="0.9"/>
<text transform="translate(405.27 114.60) rotate(-45)" x="0" y="1.9" font-size="5.4" fill="#222" text-anchor="end">HA15</text>
<line x1="409.98" y1="108.20" x2="409.98" y2="110.70" stroke="#222" stroke-width="0.9"/>
<text transform="translate(412.18 114.60) rotate(-45)" x="0" y="1.9" font-size="5.4" fill="#222" text-anchor="end">HA33</text>
<line x1="416.88" y1="108.20" x2="416.88" y2="110.70" stroke="#222" stroke-width="0.9"/>
<text transform="translate(419.07 114.60) rotate(-45)" x="0" y="1.9" font-size="5.4" fill="#222" text-anchor="end">HB25</text>
<line x1="423.77" y1="108.20" x2="423.77" y2="110.70" stroke="#222" stroke-width="0.9"/>
<text transform="translate(425.97 114.60) rotate(-45)" x="0" y="1.9" font-size="5.4" fill="#222" text-anchor="end">HB26</text>
<line x1="430.68" y1="108.20" x2="430.68" y2="110.70" stroke="#222" stroke-width="0.9"/>
<text transform="translate(432.88 114.60) rotate(-45)" x="0" y="1.9" font-size="5.4" fill="#222" text-anchor="end">HB27</text>
<line x1="437.57" y1="108.20" x2="437.57" y2="110.70" stroke="#222" stroke-width="0.9"/>
<text transform="translate(439.77 114.60) rotate(-45)" x="0" y="1.9" font-size="5.4" fill="#222" text-anchor="end">HB28</text>
<line x1="444.48" y1="108.20" x2="444.48" y2="110.70" stroke="#222" stroke-width="0.9"/>
<text transform="translate(446.68 114.60) rotate(-45)" x="0" y="1.9" font-size="5.4" fill="#222" text-anchor="end">HB34</text>
<text transform="translate(351.90 62.50) rotate(-90)" x="0" y="2.63" font-size="7.3" fill="#222" text-anchor="middle" stroke="#222" stroke-width="0.3" textLength="13.00" lengthAdjust="spacingAndGlyphs">Ratio</text>
<circle cx="463.50" cy="47.50" r="1.4" fill="#17508f"/>
<text x="467.90" y="49.62" font-size="5.9" fill="#222" stroke="#222" stroke-width="0.12">B_1</text>
<circle cx="463.50" cy="55.00" r="1.4" fill="#d0123a"/>
<text x="467.90" y="57.12" font-size="5.9" fill="#222" stroke="#222" stroke-width="0.12">B_2</text>
<circle cx="463.50" cy="62.30" r="1.4" fill="#34ac3c"/>
<text x="467.90" y="64.42" font-size="5.9" fill="#222" stroke="#222" stroke-width="0.12">B_3</text>
<circle cx="463.50" cy="70.30" r="1.4" fill="#b8b8b8"/>
<text x="467.90" y="72.42" font-size="5.9" fill="#222" stroke="#222" stroke-width="0.12">Plasma cell</text>
<rect x="54.30" y="154.50" width="93.30" height="134.20" fill="none" stroke="#333" stroke-width="1.1"/>
<circle cx="101.02" cy="266.90" r="0.75" fill="#c4c4c4"/>
<circle cx="101.45" cy="266.33" r="0.75" fill="#c4c4c4"/>
<circle cx="101.33" cy="264.66" r="0.75" fill="#c4c4c4"/>
<circle cx="103.57" cy="269.22" r="0.75" fill="#c4c4c4"/>
<circle cx="102.73" cy="265.52" r="0.75" fill="#c4c4c4"/>
<circle cx="104.30" cy="277.11" r="0.75" fill="#c4c4c4"/>
<circle cx="103.37" cy="268.80" r="0.75" fill="#c4c4c4"/>
<circle cx="102.09" cy="270.61" r="0.75" fill="#c4c4c4"/>
<circle cx="104.73" cy="276.86" r="0.75" fill="#c4c4c4"/>
<circle cx="105.02" cy="279.34" r="0.75" fill="#c4c4c4"/>
<circle cx="104.11" cy="275.00" r="0.75" fill="#c4c4c4"/>
<circle cx="101.56" cy="262.10" r="0.75" fill="#c4c4c4"/>
<circle cx="103.37" cy="268.55" r="0.75" fill="#c4c4c4"/>
<circle cx="103.14" cy="266.95" r="0.75" fill="#c4c4c4"/>
<circle cx="104.46" cy="275.76" r="0.75" fill="#c4c4c4"/>
<circle cx="105.75" cy="277.68" r="0.75" fill="#c4c4c4"/>
<circle cx="105.53" cy="274.08" r="0.75" fill="#c4c4c4"/>
<circle cx="104.68" cy="274.55" r="0.75" fill="#c4c4c4"/>
<circle cx="105.84" cy="279.32" r="0.75" fill="#c4c4c4"/>
<circle cx="103.21" cy="268.94" r="0.75" fill="#c4c4c4"/>
<circle cx="102.57" cy="265.00" r="0.75" fill="#c4c4c4"/>
<circle cx="102.67" cy="270.77" r="0.75" fill="#c4c4c4"/>
<circle cx="101.35" cy="264.73" r="0.75" fill="#c4c4c4"/>
<circle cx="101.27" cy="269.84" r="0.75" fill="#c4c4c4"/>
<circle cx="103.60" cy="274.40" r="0.75" fill="#c4c4c4"/>
<circle cx="103.64" cy="274.05" r="0.75" fill="#c4c4c4"/>
<circle cx="105.33" cy="276.69" r="0.75" fill="#c4c4c4"/>
<circle cx="104.45" cy="274.05" r="0.75" fill="#c4c4c4"/>
<circle cx="106.84" cy="278.48" r="0.75" fill="#c4c4c4"/>
<circle cx="104.14" cy="276.61" r="0.75" fill="#c4c4c4"/>
<circle cx="101.11" cy="263.60" r="0.75" fill="#c4c4c4"/>
<circle cx="104.05" cy="273.86" r="0.75" fill="#c4c4c4"/>
<circle cx="104.38" cy="273.04" r="0.75" fill="#c4c4c4"/>
<circle cx="102.02" cy="266.31" r="0.75" fill="#c4c4c4"/>
<circle cx="106.05" cy="274.67" r="0.75" fill="#c4c4c4"/>
<circle cx="102.63" cy="268.61" r="0.75" fill="#c4c4c4"/>
<circle cx="105.29" cy="277.98" r="0.75" fill="#c4c4c4"/>
<circle cx="104.66" cy="274.32" r="0.75" fill="#c4c4c4"/>
<circle cx="100.04" cy="263.38" r="0.75" fill="#c4c4c4"/>
<circle cx="106.79" cy="277.62" r="0.75" fill="#c4c4c4"/>
<circle cx="101.60" cy="264.93" r="0.75" fill="#c4c4c4"/>
<circle cx="102.07" cy="269.14" r="0.75" fill="#c4c4c4"/>
<circle cx="102.14" cy="265.74" r="0.75" fill="#c4c4c4"/>
<circle cx="105.74" cy="277.25" r="0.75" fill="#c4c4c4"/>
<circle cx="101.00" cy="262.44" r="0.75" fill="#c4c4c4"/>
<circle cx="103.24" cy="271.69" r="0.75" fill="#c4c4c4"/>
<circle cx="104.01" cy="273.18" r="0.75" fill="#c4c4c4"/>
<circle cx="101.76" cy="269.54" r="0.75" fill="#c4c4c4"/>
<circle cx="104.02" cy="264.84" r="0.75" fill="#c4c4c4"/>
<circle cx="105.92" cy="277.15" r="0.75" fill="#c4c4c4"/>
<circle cx="107.05" cy="281.04" r="0.75" fill="#c4c4c4"/>
<circle cx="100.22" cy="264.80" r="0.75" fill="#c4c4c4"/>
<circle cx="103.84" cy="275.61" r="0.75" fill="#c4c4c4"/>
<circle cx="101.22" cy="265.89" r="0.75" fill="#c4c4c4"/>
<circle cx="101.75" cy="264.97" r="0.75" fill="#c4c4c4"/>
<circle cx="103.62" cy="271.22" r="0.75" fill="#c4c4c4"/>
<circle cx="101.75" cy="266.50" r="0.75" fill="#c4c4c4"/>
<circle cx="106.06" cy="275.16" r="0.75" fill="#c4c4c4"/>
<circle cx="107.18" cy="279.55" r="0.75" fill="#c4c4c4"/>
<circle cx="105.25" cy="275.83" r="0.75" fill="#c4c4c4"/>
<circle cx="101.81" cy="261.52" r="0.75" fill="#c4c4c4"/>
<circle cx="104.13" cy="274.53" r="0.75" fill="#c4c4c4"/>
<circle cx="99.81" cy="263.74" r="0.75" fill="#c4c4c4"/>
<circle cx="102.99" cy="267.91" r="0.75" fill="#c4c4c4"/>
<circle cx="104.03" cy="268.11" r="0.75" fill="#c4c4c4"/>
<circle cx="103.60" cy="270.82" r="0.75" fill="#c4c4c4"/>
<circle cx="101.81" cy="264.26" r="0.75" fill="#c4c4c4"/>
<circle cx="107.51" cy="280.26" r="0.75" fill="#c4c4c4"/>
<circle cx="103.58" cy="270.77" r="0.75" fill="#c4c4c4"/>
<circle cx="100.40" cy="263.79" r="0.75" fill="#c4c4c4"/>
<circle cx="103.40" cy="270.85" r="0.75" fill="#c4c4c4"/>
<circle cx="105.87" cy="278.41" r="0.75" fill="#c4c4c4"/>
<circle cx="105.37" cy="281.12" r="0.75" fill="#c4c4c4"/>
<circle cx="104.81" cy="271.93" r="0.75" fill="#c4c4c4"/>
<circle cx="103.70" cy="269.77" r="0.75" fill="#c4c4c4"/>
<circle cx="104.93" cy="275.67" r="0.75" fill="#c4c4c4"/>
<circle cx="106.30" cy="278.14" r="0.75" fill="#c4c4c4"/>
<circle cx="103.54" cy="268.09" r="0.75" fill="#c4c4c4"/>
<circle cx="102.24" cy="269.67" r="0.75" fill="#c4c4c4"/>
<circle cx="105.03" cy="279.59" r="0.75" fill="#c4c4c4"/>
<circle cx="103.47" cy="271.98" r="0.75" fill="#c4c4c4"/>
<circle cx="105.10" cy="273.46" r="0.75" fill="#c4c4c4"/>
<circle cx="103.35" cy="270.27" r="0.75" fill="#c4c4c4"/>
<circle cx="104.09" cy="274.90" r="0.75" fill="#c4c4c4"/>
<circle cx="105.71" cy="274.11" r="0.75" fill="#c4c4c4"/>
<circle cx="101.84" cy="268.81" r="0.75" fill="#c4c4c4"/>
<circle cx="105.24" cy="276.31" r="0.75" fill="#c4c4c4"/>
<circle cx="104.93" cy="275.81" r="0.75" fill="#c4c4c4"/>
<circle cx="104.13" cy="269.40" r="0.75" fill="#c4c4c4"/>
<circle cx="102.96" cy="270.58" r="0.75" fill="#c4c4c4"/>
<circle cx="102.25" cy="271.64" r="0.75" fill="#c4c4c4"/>
<circle cx="105.06" cy="277.97" r="0.75" fill="#c4c4c4"/>
<circle cx="104.71" cy="269.41" r="0.75" fill="#c4c4c4"/>
<circle cx="106.23" cy="278.48" r="0.75" fill="#c4c4c4"/>
<circle cx="104.11" cy="270.95" r="0.75" fill="#c4c4c4"/>
<circle cx="106.55" cy="276.37" r="0.75" fill="#c4c4c4"/>
<circle cx="106.41" cy="280.30" r="0.75" fill="#c4c4c4"/>
<circle cx="102.60" cy="267.96" r="0.75" fill="#c4c4c4"/>
<circle cx="106.54" cy="280.28" r="0.75" fill="#c4c4c4"/>
<circle cx="106.53" cy="279.11" r="0.75" fill="#c4c4c4"/>
<circle cx="123.26" cy="256.52" r="0.75" fill="#c4c4c4"/>
<circle cx="120.93" cy="278.84" r="0.75" fill="#c4c4c4"/>
<circle cx="121.26" cy="268.81" r="0.75" fill="#c4c4c4"/>
<circle cx="119.17" cy="270.51" r="0.75" fill="#c4c4c4"/>
<circle cx="124.02" cy="257.27" r="0.75" fill="#c4c4c4"/>
<circle cx="121.90" cy="262.61" r="0.75" fill="#c4c4c4"/>
<circle cx="121.62" cy="274.54" r="0.75" fill="#c4c4c4"/>
<circle cx="119.20" cy="276.18" r="0.75" fill="#c4c4c4"/>
<circle cx="120.63" cy="272.51" r="0.75" fill="#c4c4c4"/>
<circle cx="123.92" cy="257.76" r="0.75" fill="#c4c4c4"/>
<circle cx="122.92" cy="264.71" r="0.75" fill="#c4c4c4"/>
<circle cx="119.72" cy="276.87" r="0.75" fill="#c4c4c4"/>
<circle cx="121.15" cy="265.52" r="0.75" fill="#c4c4c4"/>
<circle cx="120.68" cy="257.81" r="0.75" fill="#c4c4c4"/>
<circle cx="120.20" cy="275.00" r="0.75" fill="#c4c4c4"/>
<circle cx="122.36" cy="257.20" r="0.75" fill="#c4c4c4"/>
<circle cx="120.07" cy="268.69" r="0.75" fill="#c4c4c4"/>
<circle cx="119.36" cy="269.81" r="0.75" fill="#c4c4c4"/>
<circle cx="120.58" cy="272.78" r="0.75" fill="#c4c4c4"/>
<circle cx="119.49" cy="276.62" r="0.75" fill="#c4c4c4"/>
<circle cx="120.80" cy="272.19" r="0.75" fill="#c4c4c4"/>
<circle cx="120.27" cy="279.13" r="0.75" fill="#c4c4c4"/>
<circle cx="121.13" cy="266.04" r="0.75" fill="#c4c4c4"/>
<circle cx="121.49" cy="263.25" r="0.75" fill="#c4c4c4"/>
<circle cx="120.50" cy="258.06" r="0.75" fill="#c4c4c4"/>
<circle cx="121.75" cy="271.58" r="0.75" fill="#c4c4c4"/>
<circle cx="121.04" cy="276.72" r="0.75" fill="#c4c4c4"/>
<circle cx="122.07" cy="262.75" r="0.75" fill="#c4c4c4"/>
<circle cx="123.43" cy="256.79" r="0.75" fill="#c4c4c4"/>
<circle cx="118.42" cy="279.85" r="0.75" fill="#c4c4c4"/>
<circle cx="121.05" cy="274.47" r="0.75" fill="#c4c4c4"/>
<circle cx="122.24" cy="269.52" r="0.75" fill="#c4c4c4"/>
<circle cx="121.29" cy="262.74" r="0.75" fill="#c4c4c4"/>
<circle cx="121.40" cy="268.89" r="0.75" fill="#c4c4c4"/>
<circle cx="120.25" cy="268.20" r="0.75" fill="#c4c4c4"/>
<circle cx="117.41" cy="280.12" r="0.75" fill="#c4c4c4"/>
<circle cx="120.58" cy="272.88" r="0.75" fill="#c4c4c4"/>
<circle cx="121.89" cy="261.79" r="0.75" fill="#c4c4c4"/>
<circle cx="123.15" cy="256.30" r="0.75" fill="#c4c4c4"/>
<circle cx="119.28" cy="281.31" r="0.75" fill="#c4c4c4"/>
<circle cx="119.67" cy="271.93" r="0.75" fill="#c4c4c4"/>
<circle cx="119.92" cy="275.04" r="0.75" fill="#c4c4c4"/>
<circle cx="122.95" cy="255.34" r="0.75" fill="#c4c4c4"/>
<circle cx="123.39" cy="261.56" r="0.75" fill="#c4c4c4"/>
<circle cx="119.96" cy="269.70" r="0.75" fill="#c4c4c4"/>
<circle cx="120.06" cy="273.27" r="0.75" fill="#c4c4c4"/>
<circle cx="123.85" cy="256.79" r="0.75" fill="#c4c4c4"/>
<circle cx="123.46" cy="259.15" r="0.75" fill="#c4c4c4"/>
<circle cx="118.66" cy="279.76" r="0.75" fill="#c4c4c4"/>
<circle cx="120.02" cy="275.25" r="0.75" fill="#c4c4c4"/>
<circle cx="120.78" cy="263.38" r="0.75" fill="#c4c4c4"/>
<circle cx="121.24" cy="266.30" r="0.75" fill="#c4c4c4"/>
<circle cx="118.17" cy="280.19" r="0.75" fill="#c4c4c4"/>
<circle cx="123.47" cy="255.42" r="0.75" fill="#c4c4c4"/>
<circle cx="119.89" cy="276.38" r="0.75" fill="#c4c4c4"/>
<circle cx="122.63" cy="262.24" r="0.75" fill="#c4c4c4"/>
<circle cx="119.95" cy="279.26" r="0.75" fill="#c4c4c4"/>
<circle cx="120.36" cy="269.94" r="0.75" fill="#c4c4c4"/>
<circle cx="124.75" cy="259.71" r="0.75" fill="#c4c4c4"/>
<circle cx="120.90" cy="264.32" r="0.75" fill="#c4c4c4"/>
<circle cx="121.34" cy="266.28" r="0.75" fill="#c4c4c4"/>
<circle cx="120.51" cy="279.32" r="0.75" fill="#c4c4c4"/>
<circle cx="120.61" cy="268.59" r="0.75" fill="#c4c4c4"/>
<circle cx="119.15" cy="277.54" r="0.75" fill="#c4c4c4"/>
<circle cx="120.64" cy="272.23" r="0.75" fill="#c4c4c4"/>
<circle cx="118.94" cy="277.70" r="0.75" fill="#c4c4c4"/>
<circle cx="119.34" cy="276.92" r="0.75" fill="#c4c4c4"/>
<circle cx="120.57" cy="266.54" r="0.75" fill="#c4c4c4"/>
<circle cx="117.90" cy="274.40" r="0.75" fill="#c4c4c4"/>
<circle cx="120.93" cy="261.98" r="0.75" fill="#c4c4c4"/>
<circle cx="122.10" cy="266.58" r="0.75" fill="#c4c4c4"/>
<circle cx="120.21" cy="264.44" r="0.75" fill="#c4c4c4"/>
<circle cx="122.42" cy="264.24" r="0.75" fill="#c4c4c4"/>
<circle cx="121.49" cy="265.94" r="0.75" fill="#c4c4c4"/>
<circle cx="122.35" cy="264.48" r="0.75" fill="#c4c4c4"/>
<circle cx="121.37" cy="270.62" r="0.75" fill="#c4c4c4"/>
<circle cx="122.00" cy="264.33" r="0.75" fill="#c4c4c4"/>
<circle cx="121.55" cy="271.58" r="0.75" fill="#c4c4c4"/>
<circle cx="120.57" cy="279.22" r="0.75" fill="#c4c4c4"/>
<circle cx="120.15" cy="272.34" r="0.75" fill="#c4c4c4"/>
<circle cx="118.97" cy="278.67" r="0.75" fill="#c4c4c4"/>
<circle cx="121.93" cy="266.73" r="0.75" fill="#c4c4c4"/>
<circle cx="120.25" cy="276.19" r="0.75" fill="#c4c4c4"/>
<circle cx="121.22" cy="268.89" r="0.75" fill="#c4c4c4"/>
<circle cx="122.59" cy="270.04" r="0.75" fill="#c4c4c4"/>
<circle cx="120.32" cy="271.23" r="0.75" fill="#c4c4c4"/>
<circle cx="119.45" cy="274.39" r="0.75" fill="#c4c4c4"/>
<circle cx="120.24" cy="270.19" r="0.75" fill="#c4c4c4"/>
<circle cx="119.93" cy="266.45" r="0.75" fill="#c4c4c4"/>
<circle cx="120.65" cy="275.23" r="0.75" fill="#c4c4c4"/>
<line x1="99.50" y1="155.00" x2="99.50" y2="288.20" stroke="#222" stroke-width="0.85" stroke-dasharray="1.8 2.4"/>
<line x1="126.40" y1="155.00" x2="126.40" y2="288.20" stroke="#222" stroke-width="0.85" stroke-dasharray="1.8 2.4"/>
<line x1="54.80" y1="282.90" x2="147.10" y2="282.90" stroke="#444" stroke-width="0.85" stroke-dasharray="1.8 2.4"/>
<circle cx="81.70" cy="169.60" r="0.8" fill="#1b3d6e"/>
<circle cx="87.50" cy="169.60" r="0.8" fill="#1b3d6e"/>
<circle cx="95.40" cy="169.20" r="0.8" fill="#1b3d6e"/>
<circle cx="96.00" cy="186.50" r="0.8" fill="#1b3d6e"/>
<circle cx="86.30" cy="192.30" r="0.8" fill="#1b3d6e"/>
<circle cx="87.20" cy="192.30" r="0.8" fill="#1b3d6e"/>
<circle cx="85.50" cy="201.50" r="0.8" fill="#1b3d6e"/>
<circle cx="88.60" cy="206.00" r="0.8" fill="#1b3d6e"/>
<circle cx="93.00" cy="213.40" r="0.8" fill="#1b3d6e"/>
<circle cx="87.50" cy="220.40" r="0.8" fill="#1b3d6e"/>
<circle cx="80.50" cy="248.50" r="0.8" fill="#1b3d6e"/>
<circle cx="95.40" cy="271.70" r="0.8" fill="#1b3d6e"/>
<circle cx="93.50" cy="279.50" r="0.8" fill="#1b3d6e"/>
<circle cx="97.50" cy="173.00" r="0.8" fill="#1b3d6e"/>
<circle cx="96.30" cy="228.50" r="0.8" fill="#1b3d6e"/>
<circle cx="98.20" cy="228.20" r="0.8" fill="#1b3d6e"/>
<circle cx="99.30" cy="229.40" r="0.8" fill="#1b3d6e"/>
<circle cx="93.50" cy="236.30" r="0.8" fill="#1b3d6e"/>
<circle cx="94.80" cy="237.00" r="0.8" fill="#1b3d6e"/>
<circle cx="97.00" cy="238.90" r="0.8" fill="#1b3d6e"/>
<circle cx="98.80" cy="237.60" r="0.8" fill="#1b3d6e"/>
<circle cx="95.70" cy="243.90" r="0.8" fill="#1b3d6e"/>
<circle cx="96.60" cy="245.80" r="0.8" fill="#1b3d6e"/>
<circle cx="95.40" cy="248.30" r="0.8" fill="#1b3d6e"/>
<circle cx="97.30" cy="250.20" r="0.8" fill="#1b3d6e"/>
<circle cx="98.20" cy="252.70" r="0.8" fill="#1b3d6e"/>
<circle cx="93.80" cy="254.70" r="0.8" fill="#1b3d6e"/>
<circle cx="97.60" cy="253.80" r="0.8" fill="#1b3d6e"/>
<circle cx="98.20" cy="256.30" r="0.8" fill="#1b3d6e"/>
<circle cx="96.90" cy="258.80" r="0.8" fill="#1b3d6e"/>
<circle cx="98.50" cy="260.00" r="0.8" fill="#1b3d6e"/>
<circle cx="97.30" cy="262.60" r="0.8" fill="#1b3d6e"/>
<circle cx="98.80" cy="263.50" r="0.8" fill="#1b3d6e"/>
<circle cx="97.90" cy="264.10" r="0.8" fill="#1b3d6e"/>
<circle cx="97.50" cy="241.50" r="0.8" fill="#1b3d6e"/>
<circle cx="98.60" cy="246.50" r="0.8" fill="#1b3d6e"/>
<circle cx="96.20" cy="233.50" r="0.8" fill="#1b3d6e"/>
<circle cx="98.90" cy="249.00" r="0.8" fill="#1b3d6e"/>
<circle cx="97.80" cy="261.89" r="0.8" fill="#1b3d6e"/>
<circle cx="98.34" cy="255.69" r="0.8" fill="#1b3d6e"/>
<circle cx="97.80" cy="260.39" r="0.8" fill="#1b3d6e"/>
<circle cx="98.16" cy="262.00" r="0.8" fill="#1b3d6e"/>
<circle cx="97.54" cy="255.00" r="0.8" fill="#1b3d6e"/>
<circle cx="98.33" cy="260.67" r="0.8" fill="#1b3d6e"/>
<circle cx="95.35" cy="251.75" r="0.8" fill="#1b3d6e"/>
<circle cx="96.79" cy="251.66" r="0.8" fill="#1b3d6e"/>
<circle cx="97.68" cy="254.64" r="0.8" fill="#1b3d6e"/>
<circle cx="99.02" cy="254.83" r="0.8" fill="#1b3d6e"/>
<circle cx="132.90" cy="184.50" r="0.8" fill="#a01030"/>
<circle cx="129.80" cy="203.10" r="0.8" fill="#a01030"/>
<circle cx="134.90" cy="206.60" r="0.8" fill="#a01030"/>
<circle cx="133.40" cy="211.70" r="0.8" fill="#a01030"/>
<circle cx="127.80" cy="215.30" r="0.8" fill="#a01030"/>
<circle cx="126.70" cy="216.80" r="0.8" fill="#a01030"/>
<circle cx="128.80" cy="218.90" r="0.8" fill="#a01030"/>
<circle cx="127.80" cy="223.50" r="0.8" fill="#a01030"/>
<circle cx="130.30" cy="226.00" r="0.8" fill="#a01030"/>
<circle cx="128.80" cy="227.60" r="0.8" fill="#a01030"/>
<circle cx="127.80" cy="229.10" r="0.8" fill="#a01030"/>
<circle cx="130.30" cy="229.60" r="0.8" fill="#a01030"/>
<circle cx="129.30" cy="231.60" r="0.8" fill="#a01030"/>
<circle cx="128.30" cy="234.20" r="0.8" fill="#a01030"/>
<circle cx="127.20" cy="241.80" r="0.8" fill="#a01030"/>
<circle cx="127.80" cy="243.90" r="0.8" fill="#a01030"/>
<circle cx="126.70" cy="246.40" r="0.8" fill="#a01030"/>
<circle cx="126.20" cy="250.50" r="0.8" fill="#a01030"/>
<circle cx="128.30" cy="252.00" r="0.8" fill="#a01030"/>
<circle cx="130.30" cy="252.60" r="0.8" fill="#a01030"/>
<circle cx="126.20" cy="255.10" r="0.8" fill="#a01030"/>
<circle cx="129.00" cy="228.50" r="0.8" fill="#a01030"/>
<circle cx="128.00" cy="230.50" r="0.8" fill="#a01030"/>
<circle cx="127.50" cy="242.80" r="0.8" fill="#a01030"/>
<text x="80.00" y="160.44" font-size="5.1" fill="#3f6e9e" stroke="#3f6e9e" stroke-width="0.12" textLength="17.80" lengthAdjust="spacingAndGlyphs">NFKBID</text>
<text x="75.90" y="167.94" font-size="5.1" fill="#3f6e9e" stroke="#3f6e9e" stroke-width="0.12" textLength="13.30" lengthAdjust="spacingAndGlyphs">SNX9</text>
<text x="78.80" y="176.34" font-size="5.1" fill="#3f6e9e" stroke="#3f6e9e" stroke-width="0.12" textLength="19.60" lengthAdjust="spacingAndGlyphs">NFKBIA</text>
<text x="81.70" y="198.34" font-size="5.1" fill="#3f6e9e" stroke="#3f6e9e" stroke-width="0.12" textLength="11.50" lengthAdjust="spacingAndGlyphs">KLF6</text>
<text x="62.70" y="203.34" font-size="5.1" fill="#3f6e9e" stroke="#3f6e9e" stroke-width="0.12" textLength="20.70" lengthAdjust="spacingAndGlyphs">CDKN1A</text>
<text x="82.30" y="215.24" font-size="5.1" fill="#3f6e9e" stroke="#3f6e9e" stroke-width="0.12" textLength="9.20" lengthAdjust="spacingAndGlyphs">JUN</text>
<text x="74.80" y="246.64" font-size="5.1" fill="#3f6e9e" stroke="#3f6e9e" stroke-width="0.12" textLength="15.90" lengthAdjust="spacingAndGlyphs">NR4A1</text>
<text x="73.00" y="257.64" font-size="5.1" fill="#3f6e9e" stroke="#3f6e9e" stroke-width="0.12" textLength="16.80" lengthAdjust="spacingAndGlyphs">DUSP2</text>
<text x="77.00" y="263.34" font-size="5.1" fill="#3f6e9e" stroke="#3f6e9e" stroke-width="0.12" textLength="18.00" lengthAdjust="spacingAndGlyphs">NFKBIZ</text>
<text x="132.40" y="160.04" font-size="5.1" fill="#c23a5c" stroke="#c23a5c" stroke-width="0.12" textLength="15.00" lengthAdjust="spacingAndGlyphs">TCL1A</text>
<text x="135.30" y="166.54" font-size="5.1" fill="#c23a5c" stroke="#c23a5c" stroke-width="0.12" textLength="12.10" lengthAdjust="spacingAndGlyphs">KLF2</text>
<text x="128.20" y="189.74" font-size="5.1" fill="#c23a5c" stroke="#c23a5c" stroke-width="0.12" textLength="7.90" lengthAdjust="spacingAndGlyphs">LTB</text>
<text x="134.10" y="205.94" font-size="5.1" fill="#c23a5c" stroke="#c23a5c" stroke-width="0.12" textLength="11.20" lengthAdjust="spacingAndGlyphs">EAF2</text>
<text x="133.00" y="211.24" font-size="5.1" fill="#c23a5c" stroke="#c23a5c" stroke-width="0.12" textLength="15.20" lengthAdjust="spacingAndGlyphs">GNAI2</text>
<text x="130.30" y="224.84" font-size="5.1" fill="#c23a5c" stroke="#c23a5c" stroke-width="0.12" textLength="13.00" lengthAdjust="spacingAndGlyphs">CD81</text>
<text x="108.00" y="230.94" font-size="5.1" fill="#c23a5c" stroke="#c23a5c" stroke-width="0.12" textLength="18.20" lengthAdjust="spacingAndGlyphs">RIPOR2</text>
<text x="133.90" y="230.94" font-size="5.1" fill="#c23a5c" stroke="#c23a5c" stroke-width="0.12" textLength="10.00" lengthAdjust="spacingAndGlyphs">ETS1</text>
<text x="122.00" y="235.14" font-size="5.1" fill="#c23a5c" stroke="#c23a5c" stroke-width="0.12" textLength="13.00" lengthAdjust="spacingAndGlyphs">CD52</text>
<text x="122.00" y="246.84" font-size="5.1" fill="#c23a5c" stroke="#c23a5c" stroke-width="0.12" textLength="13.60" lengthAdjust="spacingAndGlyphs">NCK2</text>
<text x="124.40" y="258.04" font-size="5.1" fill="#c23a5c" stroke="#c23a5c" stroke-width="0.12" textLength="11.80" lengthAdjust="spacingAndGlyphs">RFTX</text>
<line x1="68.30" y1="288.70" x2="68.30" y2="291.50" stroke="#222" stroke-width="0.9"/>
<text x="68.30" y="300.70" font-size="6.1" fill="#222" stroke="#222" stroke-width="0.12" text-anchor="middle">−2</text>
<line x1="90.40" y1="288.70" x2="90.40" y2="291.50" stroke="#222" stroke-width="0.9"/>
<text x="90.40" y="300.70" font-size="6.1" fill="#222" stroke="#222" stroke-width="0.12" text-anchor="middle">−1</text>
<line x1="112.50" y1="288.70" x2="112.50" y2="291.50" stroke="#222" stroke-width="0.9"/>
<text x="112.50" y="300.70" font-size="6.1" fill="#222" stroke="#222" stroke-width="0.12" text-anchor="middle">0</text>
<line x1="134.60" y1="288.70" x2="134.60" y2="291.50" stroke="#222" stroke-width="0.9"/>
<text x="134.60" y="300.70" font-size="6.1" fill="#222" stroke="#222" stroke-width="0.12" text-anchor="middle">1</text>
<line x1="51.10" y1="282.90" x2="54.30" y2="282.90" stroke="#222" stroke-width="0.9"/>
<text x="47.90" y="285.10" font-size="6.1" fill="#222" stroke="#222" stroke-width="0.12" text-anchor="end">0</text>
<line x1="51.10" y1="237.90" x2="54.30" y2="237.90" stroke="#222" stroke-width="0.9"/>
<text x="47.90" y="240.10" font-size="6.1" fill="#222" stroke="#222" stroke-width="0.12" text-anchor="end">100</text>
<line x1="51.10" y1="192.90" x2="54.30" y2="192.90" stroke="#222" stroke-width="0.9"/>
<text x="47.90" y="195.10" font-size="6.1" fill="#222" stroke="#222" stroke-width="0.12" text-anchor="end">200</text>
<text x="100.50" y="149.43" font-size="8.7" fill="#222" stroke="#222" stroke-width="0.12" text-anchor="middle" textLength="13.40" lengthAdjust="spacingAndGlyphs">B_1</text>
<g fill="#222" stroke="#222" stroke-width="0.3"><text x="82.05" y="312.0" font-size="8" textLength="27.4" lengthAdjust="spacingAndGlyphs">Average log</text>
<text x="109.95" y="313.9" font-size="4.6" stroke-width="0.15">2</text>
<text x="113.25" y="312.0" font-size="8" textLength="7.3" lengthAdjust="spacingAndGlyphs">FC</text></g>
<text transform="translate(30.20 222.4) rotate(-90)" x="0" y="2.2" font-size="6.5" fill="#222" stroke="#222" stroke-width="0.12" text-anchor="middle" textLength="62.5" lengthAdjust="spacingAndGlyphs">−log<tspan font-size="4.2" dy="1.4">10</tspan><tspan dy="-1.4">(adjusted </tspan><tspan font-style="italic">P</tspan>-value)</text>
<text transform="translate(58.6 167.2) rotate(-56)" x="0" y="0" font-size="5.4" fill="#3f6e9e">CD69</text>
<text transform="translate(68.8 167.2) rotate(-56)" x="0" y="0" font-size="5.4" fill="#3f6e9e">CD83</text>
<text x="25.00" y="160.37" font-size="5.75" fill="#222" stroke="#222" stroke-width="0.12">group</text>
<circle cx="26.30" cy="166.30" r="1.4" fill="#2a4170"/>
<text x="30.80" y="168.37" font-size="5.75" fill="#222" stroke="#222" stroke-width="0.12">HA</text>
<circle cx="26.30" cy="173.20" r="1.4" fill="#c8c8d0"/>
<text x="30.80" y="175.27" font-size="5.75" fill="#222" stroke="#222" stroke-width="0.12">Normal</text>
<circle cx="26.30" cy="180.50" r="1.4" fill="#6a1028"/>
<text x="30.80" y="182.57" font-size="5.75" fill="#222" stroke="#222" stroke-width="0.12">HB</text>
<rect x="206.10" y="153.80" width="94.30" height="135.10" fill="none" stroke="#333" stroke-width="1.1"/>
<circle cx="255.05" cy="270.03" r="0.75" fill="#c4c4c4"/>
<circle cx="256.00" cy="280.53" r="0.75" fill="#c4c4c4"/>
<circle cx="256.73" cy="279.61" r="0.75" fill="#c4c4c4"/>
<circle cx="254.12" cy="270.56" r="0.75" fill="#c4c4c4"/>
<circle cx="252.42" cy="266.38" r="0.75" fill="#c4c4c4"/>
<circle cx="255.71" cy="273.79" r="0.75" fill="#c4c4c4"/>
<circle cx="252.32" cy="262.56" r="0.75" fill="#c4c4c4"/>
<circle cx="254.49" cy="273.03" r="0.75" fill="#c4c4c4"/>
<circle cx="254.19" cy="271.04" r="0.75" fill="#c4c4c4"/>
<circle cx="254.36" cy="265.34" r="0.75" fill="#c4c4c4"/>
<circle cx="252.96" cy="262.83" r="0.75" fill="#c4c4c4"/>
<circle cx="254.64" cy="271.66" r="0.75" fill="#c4c4c4"/>
<circle cx="253.26" cy="264.85" r="0.75" fill="#c4c4c4"/>
<circle cx="252.18" cy="269.63" r="0.75" fill="#c4c4c4"/>
<circle cx="256.25" cy="272.40" r="0.75" fill="#c4c4c4"/>
<circle cx="253.71" cy="264.70" r="0.75" fill="#c4c4c4"/>
<circle cx="252.12" cy="259.99" r="0.75" fill="#c4c4c4"/>
<circle cx="251.40" cy="259.87" r="0.75" fill="#c4c4c4"/>
<circle cx="256.98" cy="279.82" r="0.75" fill="#c4c4c4"/>
<circle cx="255.10" cy="269.76" r="0.75" fill="#c4c4c4"/>
<circle cx="254.32" cy="273.35" r="0.75" fill="#c4c4c4"/>
<circle cx="252.07" cy="263.69" r="0.75" fill="#c4c4c4"/>
<circle cx="257.36" cy="275.71" r="0.75" fill="#c4c4c4"/>
<circle cx="254.17" cy="263.83" r="0.75" fill="#c4c4c4"/>
<circle cx="254.93" cy="272.38" r="0.75" fill="#c4c4c4"/>
<circle cx="252.85" cy="265.20" r="0.75" fill="#c4c4c4"/>
<circle cx="253.96" cy="270.31" r="0.75" fill="#c4c4c4"/>
<circle cx="254.48" cy="274.83" r="0.75" fill="#c4c4c4"/>
<circle cx="254.90" cy="273.71" r="0.75" fill="#c4c4c4"/>
<circle cx="253.26" cy="268.61" r="0.75" fill="#c4c4c4"/>
<circle cx="255.70" cy="274.62" r="0.75" fill="#c4c4c4"/>
<circle cx="255.53" cy="276.92" r="0.75" fill="#c4c4c4"/>
<circle cx="256.54" cy="280.67" r="0.75" fill="#c4c4c4"/>
<circle cx="256.84" cy="279.90" r="0.75" fill="#c4c4c4"/>
<circle cx="254.33" cy="275.86" r="0.75" fill="#c4c4c4"/>
<circle cx="255.78" cy="276.18" r="0.75" fill="#c4c4c4"/>
<circle cx="252.55" cy="263.89" r="0.75" fill="#c4c4c4"/>
<circle cx="251.40" cy="262.34" r="0.75" fill="#c4c4c4"/>
<circle cx="250.02" cy="260.00" r="0.75" fill="#c4c4c4"/>
<circle cx="253.52" cy="272.43" r="0.75" fill="#c4c4c4"/>
<circle cx="254.15" cy="269.23" r="0.75" fill="#c4c4c4"/>
<circle cx="251.35" cy="259.07" r="0.75" fill="#c4c4c4"/>
<circle cx="254.84" cy="266.89" r="0.75" fill="#c4c4c4"/>
<circle cx="254.88" cy="276.72" r="0.75" fill="#c4c4c4"/>
<circle cx="255.61" cy="274.42" r="0.75" fill="#c4c4c4"/>
<circle cx="255.11" cy="276.29" r="0.75" fill="#c4c4c4"/>
<circle cx="254.20" cy="276.38" r="0.75" fill="#c4c4c4"/>
<circle cx="255.37" cy="278.04" r="0.75" fill="#c4c4c4"/>
<circle cx="250.16" cy="259.12" r="0.75" fill="#c4c4c4"/>
<circle cx="252.94" cy="265.02" r="0.75" fill="#c4c4c4"/>
<circle cx="252.34" cy="262.76" r="0.75" fill="#c4c4c4"/>
<circle cx="252.52" cy="265.00" r="0.75" fill="#c4c4c4"/>
<circle cx="256.88" cy="280.75" r="0.75" fill="#c4c4c4"/>
<circle cx="256.67" cy="279.50" r="0.75" fill="#c4c4c4"/>
<circle cx="252.39" cy="266.30" r="0.75" fill="#c4c4c4"/>
<circle cx="252.90" cy="268.24" r="0.75" fill="#c4c4c4"/>
<circle cx="252.24" cy="260.39" r="0.75" fill="#c4c4c4"/>
<circle cx="250.97" cy="260.36" r="0.75" fill="#c4c4c4"/>
<circle cx="253.19" cy="263.85" r="0.75" fill="#c4c4c4"/>
<circle cx="252.63" cy="266.54" r="0.75" fill="#c4c4c4"/>
<circle cx="255.87" cy="279.37" r="0.75" fill="#c4c4c4"/>
<circle cx="251.96" cy="261.83" r="0.75" fill="#c4c4c4"/>
<circle cx="255.29" cy="275.84" r="0.75" fill="#c4c4c4"/>
<circle cx="256.50" cy="277.09" r="0.75" fill="#c4c4c4"/>
<circle cx="252.03" cy="262.16" r="0.75" fill="#c4c4c4"/>
<circle cx="255.50" cy="276.67" r="0.75" fill="#c4c4c4"/>
<circle cx="254.37" cy="273.47" r="0.75" fill="#c4c4c4"/>
<circle cx="252.09" cy="263.10" r="0.75" fill="#c4c4c4"/>
<circle cx="254.71" cy="273.41" r="0.75" fill="#c4c4c4"/>
<circle cx="252.20" cy="268.12" r="0.75" fill="#c4c4c4"/>
<circle cx="253.02" cy="266.05" r="0.75" fill="#c4c4c4"/>
<circle cx="253.28" cy="269.65" r="0.75" fill="#c4c4c4"/>
<circle cx="255.96" cy="274.99" r="0.75" fill="#c4c4c4"/>
<circle cx="253.88" cy="270.27" r="0.75" fill="#c4c4c4"/>
<circle cx="253.86" cy="269.38" r="0.75" fill="#c4c4c4"/>
<circle cx="255.83" cy="276.92" r="0.75" fill="#c4c4c4"/>
<circle cx="255.89" cy="278.40" r="0.75" fill="#c4c4c4"/>
<circle cx="257.04" cy="277.10" r="0.75" fill="#c4c4c4"/>
<circle cx="254.39" cy="267.56" r="0.75" fill="#c4c4c4"/>
<circle cx="255.28" cy="267.76" r="0.75" fill="#c4c4c4"/>
<circle cx="254.99" cy="273.21" r="0.75" fill="#c4c4c4"/>
<circle cx="254.18" cy="273.53" r="0.75" fill="#c4c4c4"/>
<circle cx="254.34" cy="276.56" r="0.75" fill="#c4c4c4"/>
<circle cx="254.23" cy="267.85" r="0.75" fill="#c4c4c4"/>
<circle cx="254.91" cy="274.14" r="0.75" fill="#c4c4c4"/>
<circle cx="253.46" cy="269.95" r="0.75" fill="#c4c4c4"/>
<circle cx="255.96" cy="276.11" r="0.75" fill="#c4c4c4"/>
<circle cx="256.67" cy="272.09" r="0.75" fill="#c4c4c4"/>
<circle cx="256.26" cy="275.69" r="0.75" fill="#c4c4c4"/>
<circle cx="255.50" cy="275.72" r="0.75" fill="#c4c4c4"/>
<circle cx="257.32" cy="280.55" r="0.75" fill="#c4c4c4"/>
<circle cx="254.31" cy="272.64" r="0.75" fill="#c4c4c4"/>
<circle cx="253.28" cy="266.00" r="0.75" fill="#c4c4c4"/>
<circle cx="255.52" cy="272.87" r="0.75" fill="#c4c4c4"/>
<circle cx="253.66" cy="267.37" r="0.75" fill="#c4c4c4"/>
<circle cx="254.21" cy="270.00" r="0.75" fill="#c4c4c4"/>
<circle cx="253.91" cy="267.75" r="0.75" fill="#c4c4c4"/>
<circle cx="255.40" cy="273.66" r="0.75" fill="#c4c4c4"/>
<circle cx="253.78" cy="267.98" r="0.75" fill="#c4c4c4"/>
<circle cx="254.83" cy="271.38" r="0.75" fill="#c4c4c4"/>
<circle cx="270.19" cy="280.10" r="0.75" fill="#c4c4c4"/>
<circle cx="272.57" cy="269.03" r="0.75" fill="#c4c4c4"/>
<circle cx="273.84" cy="258.11" r="0.75" fill="#c4c4c4"/>
<circle cx="272.37" cy="250.62" r="0.75" fill="#c4c4c4"/>
<circle cx="271.50" cy="269.85" r="0.75" fill="#c4c4c4"/>
<circle cx="271.04" cy="279.89" r="0.75" fill="#c4c4c4"/>
<circle cx="273.48" cy="253.03" r="0.75" fill="#c4c4c4"/>
<circle cx="273.19" cy="258.16" r="0.75" fill="#c4c4c4"/>
<circle cx="270.13" cy="275.08" r="0.75" fill="#c4c4c4"/>
<circle cx="270.72" cy="270.35" r="0.75" fill="#c4c4c4"/>
<circle cx="273.77" cy="254.91" r="0.75" fill="#c4c4c4"/>
<circle cx="273.58" cy="262.79" r="0.75" fill="#c4c4c4"/>
<circle cx="273.65" cy="263.21" r="0.75" fill="#c4c4c4"/>
<circle cx="274.50" cy="251.16" r="0.75" fill="#c4c4c4"/>
<circle cx="273.32" cy="249.87" r="0.75" fill="#c4c4c4"/>
<circle cx="273.07" cy="253.37" r="0.75" fill="#c4c4c4"/>
<circle cx="274.92" cy="247.44" r="0.75" fill="#c4c4c4"/>
<circle cx="272.83" cy="264.68" r="0.75" fill="#c4c4c4"/>
<circle cx="275.46" cy="247.98" r="0.75" fill="#c4c4c4"/>
<circle cx="269.35" cy="279.60" r="0.75" fill="#c4c4c4"/>
<circle cx="270.60" cy="273.84" r="0.75" fill="#c4c4c4"/>
<circle cx="273.47" cy="254.10" r="0.75" fill="#c4c4c4"/>
<circle cx="271.40" cy="262.13" r="0.75" fill="#c4c4c4"/>
<circle cx="274.40" cy="251.88" r="0.75" fill="#c4c4c4"/>
<circle cx="271.59" cy="276.88" r="0.75" fill="#c4c4c4"/>
<circle cx="270.45" cy="269.22" r="0.75" fill="#c4c4c4"/>
<circle cx="275.99" cy="239.51" r="0.75" fill="#c4c4c4"/>
<circle cx="271.93" cy="258.48" r="0.75" fill="#c4c4c4"/>
<circle cx="271.23" cy="271.33" r="0.75" fill="#c4c4c4"/>
<circle cx="273.46" cy="252.91" r="0.75" fill="#c4c4c4"/>
<circle cx="275.12" cy="252.24" r="0.75" fill="#c4c4c4"/>
<circle cx="274.44" cy="247.86" r="0.75" fill="#c4c4c4"/>
<circle cx="271.37" cy="270.50" r="0.75" fill="#c4c4c4"/>
<circle cx="273.81" cy="253.87" r="0.75" fill="#c4c4c4"/>
<circle cx="272.35" cy="250.38" r="0.75" fill="#c4c4c4"/>
<circle cx="273.86" cy="257.65" r="0.75" fill="#c4c4c4"/>
<circle cx="274.46" cy="250.84" r="0.75" fill="#c4c4c4"/>
<circle cx="273.42" cy="241.96" r="0.75" fill="#c4c4c4"/>
<circle cx="271.46" cy="260.36" r="0.75" fill="#c4c4c4"/>
<circle cx="269.91" cy="275.51" r="0.75" fill="#c4c4c4"/>
<circle cx="271.84" cy="254.73" r="0.75" fill="#c4c4c4"/>
<circle cx="272.74" cy="268.86" r="0.75" fill="#c4c4c4"/>
<circle cx="274.48" cy="239.15" r="0.75" fill="#c4c4c4"/>
<circle cx="270.84" cy="268.96" r="0.75" fill="#c4c4c4"/>
<circle cx="273.04" cy="259.56" r="0.75" fill="#c4c4c4"/>
<circle cx="273.62" cy="254.31" r="0.75" fill="#c4c4c4"/>
<circle cx="271.05" cy="273.69" r="0.75" fill="#c4c4c4"/>
<circle cx="268.74" cy="280.91" r="0.75" fill="#c4c4c4"/>
<circle cx="271.79" cy="268.35" r="0.75" fill="#c4c4c4"/>
<circle cx="272.99" cy="251.83" r="0.75" fill="#c4c4c4"/>
<circle cx="273.36" cy="245.83" r="0.75" fill="#c4c4c4"/>
<circle cx="272.89" cy="267.92" r="0.75" fill="#c4c4c4"/>
<circle cx="268.01" cy="280.60" r="0.75" fill="#c4c4c4"/>
<circle cx="275.36" cy="245.48" r="0.75" fill="#c4c4c4"/>
<circle cx="271.52" cy="270.24" r="0.75" fill="#c4c4c4"/>
<circle cx="270.01" cy="277.86" r="0.75" fill="#c4c4c4"/>
<circle cx="274.04" cy="258.84" r="0.75" fill="#c4c4c4"/>
<circle cx="267.68" cy="278.97" r="0.75" fill="#c4c4c4"/>
<circle cx="272.93" cy="262.74" r="0.75" fill="#c4c4c4"/>
<circle cx="269.59" cy="272.92" r="0.75" fill="#c4c4c4"/>
<circle cx="273.79" cy="249.76" r="0.75" fill="#c4c4c4"/>
<circle cx="272.03" cy="260.12" r="0.75" fill="#c4c4c4"/>
<circle cx="274.70" cy="239.05" r="0.75" fill="#c4c4c4"/>
<circle cx="271.07" cy="270.64" r="0.75" fill="#c4c4c4"/>
<circle cx="272.95" cy="260.94" r="0.75" fill="#c4c4c4"/>
<circle cx="270.43" cy="277.64" r="0.75" fill="#c4c4c4"/>
<circle cx="271.17" cy="268.05" r="0.75" fill="#c4c4c4"/>
<circle cx="270.99" cy="269.69" r="0.75" fill="#c4c4c4"/>
<circle cx="271.99" cy="278.25" r="0.75" fill="#c4c4c4"/>
<circle cx="273.14" cy="257.15" r="0.75" fill="#c4c4c4"/>
<circle cx="270.50" cy="271.97" r="0.75" fill="#c4c4c4"/>
<circle cx="270.73" cy="256.18" r="0.75" fill="#c4c4c4"/>
<circle cx="273.55" cy="252.00" r="0.75" fill="#c4c4c4"/>
<circle cx="274.80" cy="247.07" r="0.75" fill="#c4c4c4"/>
<circle cx="271.62" cy="264.92" r="0.75" fill="#c4c4c4"/>
<circle cx="274.70" cy="247.60" r="0.75" fill="#c4c4c4"/>
<circle cx="273.03" cy="251.57" r="0.75" fill="#c4c4c4"/>
<circle cx="270.37" cy="259.22" r="0.75" fill="#c4c4c4"/>
<circle cx="273.54" cy="258.68" r="0.75" fill="#c4c4c4"/>
<circle cx="273.89" cy="246.33" r="0.75" fill="#c4c4c4"/>
<circle cx="273.49" cy="255.66" r="0.75" fill="#c4c4c4"/>
<circle cx="267.96" cy="280.30" r="0.75" fill="#c4c4c4"/>
<circle cx="270.26" cy="263.92" r="0.75" fill="#c4c4c4"/>
<circle cx="272.27" cy="263.13" r="0.75" fill="#c4c4c4"/>
<circle cx="272.17" cy="267.80" r="0.75" fill="#c4c4c4"/>
<circle cx="268.95" cy="273.25" r="0.75" fill="#c4c4c4"/>
<circle cx="268.08" cy="278.90" r="0.75" fill="#c4c4c4"/>
<circle cx="270.41" cy="258.95" r="0.75" fill="#c4c4c4"/>
<circle cx="270.17" cy="272.68" r="0.75" fill="#c4c4c4"/>
<circle cx="272.30" cy="260.49" r="0.75" fill="#c4c4c4"/>
<circle cx="269.98" cy="267.80" r="0.75" fill="#c4c4c4"/>
<circle cx="267.88" cy="279.10" r="0.75" fill="#c4c4c4"/>
<circle cx="273.62" cy="256.50" r="0.75" fill="#c4c4c4"/>
<circle cx="270.18" cy="274.90" r="0.75" fill="#c4c4c4"/>
<circle cx="269.99" cy="264.88" r="0.75" fill="#c4c4c4"/>
<circle cx="268.32" cy="278.35" r="0.75" fill="#c4c4c4"/>
<circle cx="268.16" cy="278.29" r="0.75" fill="#c4c4c4"/>
<circle cx="270.57" cy="260.85" r="0.75" fill="#c4c4c4"/>
<circle cx="269.41" cy="274.94" r="0.75" fill="#c4c4c4"/>
<circle cx="269.96" cy="263.03" r="0.75" fill="#c4c4c4"/>
<circle cx="270.44" cy="267.24" r="0.75" fill="#c4c4c4"/>
<circle cx="270.04" cy="276.24" r="0.75" fill="#c4c4c4"/>
<circle cx="273.01" cy="250.87" r="0.75" fill="#c4c4c4"/>
<circle cx="269.77" cy="275.32" r="0.75" fill="#c4c4c4"/>
<circle cx="272.61" cy="252.76" r="0.75" fill="#c4c4c4"/>
<circle cx="271.60" cy="271.55" r="0.75" fill="#c4c4c4"/>
<circle cx="270.86" cy="266.96" r="0.75" fill="#c4c4c4"/>
<circle cx="268.30" cy="278.84" r="0.75" fill="#c4c4c4"/>
<circle cx="270.19" cy="272.73" r="0.75" fill="#c4c4c4"/>
<circle cx="273.63" cy="252.17" r="0.75" fill="#c4c4c4"/>
<circle cx="270.56" cy="268.48" r="0.75" fill="#c4c4c4"/>
<circle cx="272.88" cy="251.82" r="0.75" fill="#c4c4c4"/>
<circle cx="269.51" cy="271.74" r="0.75" fill="#c4c4c4"/>
<circle cx="272.79" cy="255.77" r="0.75" fill="#c4c4c4"/>
<circle cx="270.81" cy="270.74" r="0.75" fill="#c4c4c4"/>
<circle cx="267.77" cy="280.59" r="0.75" fill="#c4c4c4"/>
<circle cx="272.13" cy="259.47" r="0.75" fill="#c4c4c4"/>
<circle cx="268.37" cy="280.48" r="0.75" fill="#c4c4c4"/>
<circle cx="272.67" cy="256.03" r="0.75" fill="#c4c4c4"/>
<circle cx="270.71" cy="273.12" r="0.75" fill="#c4c4c4"/>
<line x1="249.50" y1="154.30" x2="249.50" y2="288.40" stroke="#222" stroke-width="0.85" stroke-dasharray="1.8 2.4"/>
<line x1="275.70" y1="154.30" x2="275.70" y2="288.40" stroke="#222" stroke-width="0.85" stroke-dasharray="1.8 2.4"/>
<line x1="206.60" y1="282.50" x2="299.90" y2="282.50" stroke="#444" stroke-width="0.85" stroke-dasharray="1.8 2.4"/>
<circle cx="223.20" cy="160.60" r="0.8" fill="#1b3d6e"/>
<circle cx="229.10" cy="165.30" r="0.8" fill="#1b3d6e"/>
<circle cx="233.00" cy="186.50" r="0.8" fill="#1b3d6e"/>
<circle cx="232.60" cy="195.60" r="0.8" fill="#1b3d6e"/>
<circle cx="246.80" cy="196.50" r="0.8" fill="#1b3d6e"/>
<circle cx="222.00" cy="195.90" r="0.8" fill="#1b3d6e"/>
<circle cx="238.00" cy="200.60" r="0.8" fill="#1b3d6e"/>
<circle cx="221.50" cy="207.60" r="0.8" fill="#1b3d6e"/>
<circle cx="210.30" cy="207.40" r="0.8" fill="#1b3d6e"/>
<circle cx="235.00" cy="208.20" r="0.8" fill="#1b3d6e"/>
<circle cx="236.20" cy="213.00" r="0.8" fill="#1b3d6e"/>
<circle cx="239.10" cy="217.00" r="0.8" fill="#1b3d6e"/>
<circle cx="243.20" cy="220.60" r="0.8" fill="#1b3d6e"/>
<circle cx="248.50" cy="223.00" r="0.8" fill="#1b3d6e"/>
<circle cx="238.50" cy="216.80" r="0.8" fill="#1b3d6e"/>
<circle cx="242.60" cy="220.30" r="0.8" fill="#1b3d6e"/>
<circle cx="239.10" cy="224.40" r="0.8" fill="#1b3d6e"/>
<circle cx="240.90" cy="232.60" r="0.8" fill="#1b3d6e"/>
<circle cx="245.00" cy="233.80" r="0.8" fill="#1b3d6e"/>
<circle cx="233.20" cy="236.20" r="0.8" fill="#1b3d6e"/>
<circle cx="243.20" cy="242.60" r="0.8" fill="#1b3d6e"/>
<circle cx="246.20" cy="243.80" r="0.8" fill="#1b3d6e"/>
<circle cx="248.50" cy="245.60" r="0.8" fill="#1b3d6e"/>
<circle cx="246.80" cy="248.00" r="0.8" fill="#1b3d6e"/>
<circle cx="243.80" cy="246.80" r="0.8" fill="#1b3d6e"/>
<circle cx="247.40" cy="250.30" r="0.8" fill="#1b3d6e"/>
<circle cx="249.70" cy="252.60" r="0.8" fill="#1b3d6e"/>
<circle cx="243.80" cy="255.60" r="0.8" fill="#1b3d6e"/>
<circle cx="247.40" cy="259.70" r="0.8" fill="#1b3d6e"/>
<circle cx="245.00" cy="264.40" r="0.8" fill="#1b3d6e"/>
<circle cx="248.50" cy="265.60" r="0.8" fill="#1b3d6e"/>
<circle cx="249.00" cy="266.80" r="0.8" fill="#1b3d6e"/>
<circle cx="244.50" cy="244.50" r="0.8" fill="#1b3d6e"/>
<circle cx="245.50" cy="241.50" r="0.8" fill="#1b3d6e"/>
<circle cx="247.69" cy="257.85" r="0.8" fill="#1b3d6e"/>
<circle cx="245.89" cy="247.54" r="0.8" fill="#1b3d6e"/>
<circle cx="243.50" cy="243.13" r="0.8" fill="#1b3d6e"/>
<circle cx="244.37" cy="242.20" r="0.8" fill="#1b3d6e"/>
<circle cx="246.09" cy="250.41" r="0.8" fill="#1b3d6e"/>
<circle cx="245.35" cy="254.70" r="0.8" fill="#1b3d6e"/>
<circle cx="245.55" cy="248.63" r="0.8" fill="#1b3d6e"/>
<circle cx="247.89" cy="262.56" r="0.8" fill="#1b3d6e"/>
<circle cx="295.60" cy="174.10" r="0.8" fill="#a01030"/>
<circle cx="285.60" cy="186.50" r="0.8" fill="#a01030"/>
<circle cx="281.50" cy="199.40" r="0.8" fill="#a01030"/>
<circle cx="286.20" cy="204.10" r="0.8" fill="#a01030"/>
<circle cx="280.30" cy="209.40" r="0.8" fill="#a01030"/>
<circle cx="282.00" cy="211.80" r="0.8" fill="#a01030"/>
<circle cx="278.50" cy="215.30" r="0.8" fill="#a01030"/>
<circle cx="280.90" cy="216.50" r="0.8" fill="#a01030"/>
<circle cx="283.80" cy="221.20" r="0.8" fill="#a01030"/>
<circle cx="277.90" cy="225.90" r="0.8" fill="#a01030"/>
<circle cx="278.50" cy="230.60" r="0.8" fill="#a01030"/>
<circle cx="277.90" cy="226.80" r="0.8" fill="#a01030"/>
<circle cx="279.10" cy="230.90" r="0.8" fill="#a01030"/>
<circle cx="279.70" cy="232.60" r="0.8" fill="#a01030"/>
<circle cx="276.80" cy="233.80" r="0.8" fill="#a01030"/>
<circle cx="276.20" cy="237.40" r="0.8" fill="#a01030"/>
<circle cx="283.20" cy="238.50" r="0.8" fill="#a01030"/>
<circle cx="277.40" cy="245.00" r="0.8" fill="#a01030"/>
<circle cx="276.20" cy="246.20" r="0.8" fill="#a01030"/>
<circle cx="281.50" cy="246.20" r="0.8" fill="#a01030"/>
<circle cx="277.40" cy="248.50" r="0.8" fill="#a01030"/>
<circle cx="278.00" cy="250.30" r="0.8" fill="#a01030"/>
<circle cx="276.80" cy="252.60" r="0.8" fill="#a01030"/>
<circle cx="280.50" cy="228.50" r="0.8" fill="#a01030"/>
<circle cx="278.60" cy="241.00" r="0.8" fill="#a01030"/>
<text x="218.75" y="158.84" font-size="5.1" fill="#3f6e9e" stroke="#3f6e9e" stroke-width="0.12" textLength="12.50" lengthAdjust="spacingAndGlyphs">CD83</text>
<text x="227.00" y="164.34" font-size="5.1" fill="#3f6e9e" stroke="#3f6e9e" stroke-width="0.12" textLength="18.00" lengthAdjust="spacingAndGlyphs">NFKBIA</text>
<text x="225.50" y="173.09" font-size="5.1" fill="#3f6e9e" stroke="#3f6e9e" stroke-width="0.12" textLength="19.00" lengthAdjust="spacingAndGlyphs">NFKBID</text>
<text x="228.00" y="194.34" font-size="5.1" fill="#3f6e9e" stroke="#3f6e9e" stroke-width="0.12" textLength="10.00" lengthAdjust="spacingAndGlyphs">JUN</text>
<text x="208.00" y="200.44" font-size="5.1" fill="#3f6e9e" stroke="#3f6e9e" stroke-width="0.12" textLength="15.80" lengthAdjust="spacingAndGlyphs">BCL2A1</text>
<text x="222.50" y="205.59" font-size="5.1" fill="#3f6e9e" stroke="#3f6e9e" stroke-width="0.12" textLength="16.25" lengthAdjust="spacingAndGlyphs">NR4A1</text>
<text x="207.80" y="213.84" font-size="5.1" fill="#3f6e9e" stroke="#3f6e9e" stroke-width="0.12" textLength="16.50" lengthAdjust="spacingAndGlyphs">DUSP2</text>
<text x="237.00" y="211.84" font-size="5.1" fill="#3f6e9e" stroke="#3f6e9e" stroke-width="0.12" textLength="12.00" lengthAdjust="spacingAndGlyphs">KLF6</text>
<text x="217.00" y="219.24" font-size="5.1" fill="#3f6e9e" stroke="#3f6e9e" stroke-width="0.12" textLength="21.00" lengthAdjust="spacingAndGlyphs">CDKN1A</text>
<text x="224.30" y="247.94" font-size="5.1" fill="#3f6e9e" stroke="#3f6e9e" stroke-width="0.12" textLength="21.00" lengthAdjust="spacingAndGlyphs">NFKBIZ</text>
<text x="233.40" y="256.14" font-size="5.1" fill="#3f6e9e" stroke="#3f6e9e" stroke-width="0.12" textLength="9.10" lengthAdjust="spacingAndGlyphs">MYC</text>
<text x="285.50" y="172.44" font-size="5.1" fill="#c23a5c" stroke="#c23a5c" stroke-width="0.12" textLength="13.00" lengthAdjust="spacingAndGlyphs">JUND</text>
<text x="282.00" y="184.84" font-size="5.1" fill="#c23a5c" stroke="#c23a5c" stroke-width="0.12" textLength="14.80" lengthAdjust="spacingAndGlyphs">GNAI2</text>
<text x="278.00" y="192.24" font-size="5.1" fill="#c23a5c" stroke="#c23a5c" stroke-width="0.12" textLength="12.90" lengthAdjust="spacingAndGlyphs">CD81</text>
<text x="275.60" y="197.74" font-size="5.1" fill="#c23a5c" stroke="#c23a5c" stroke-width="0.12" textLength="14.10" lengthAdjust="spacingAndGlyphs">GNAS</text>
<text x="287.40" y="203.04" font-size="5.1" fill="#c23a5c" stroke="#c23a5c" stroke-width="0.12" textLength="12.90" lengthAdjust="spacingAndGlyphs">KLF2</text>
<text x="280.30" y="208.84" font-size="5.1" fill="#c23a5c" stroke="#c23a5c" stroke-width="0.12" textLength="15.30" lengthAdjust="spacingAndGlyphs">YPEL3</text>
<text x="265.00" y="215.84" font-size="5.1" fill="#c23a5c" stroke="#c23a5c" stroke-width="0.12" textLength="13.00" lengthAdjust="spacingAndGlyphs">TAF1D</text>
<text x="283.80" y="219.44" font-size="5.1" fill="#c23a5c" stroke="#c23a5c" stroke-width="0.12" textLength="10.00" lengthAdjust="spacingAndGlyphs">CTSZ</text>
<text x="286.20" y="224.84" font-size="5.1" fill="#c23a5c" stroke="#c23a5c" stroke-width="0.12" textLength="10.60" lengthAdjust="spacingAndGlyphs">ETS1</text>
<text x="268.00" y="225.84" font-size="5.1" fill="#c23a5c" stroke="#c23a5c" stroke-width="0.12" textLength="16.40" lengthAdjust="spacingAndGlyphs">MZB1</text>
<line x1="218.80" y1="288.90" x2="218.80" y2="291.70" stroke="#222" stroke-width="0.9"/>
<text x="218.80" y="300.90" font-size="6.1" fill="#222" stroke="#222" stroke-width="0.12" text-anchor="middle">−2</text>
<line x1="240.70" y1="288.90" x2="240.70" y2="291.70" stroke="#222" stroke-width="0.9"/>
<text x="240.70" y="300.90" font-size="6.1" fill="#222" stroke="#222" stroke-width="0.12" text-anchor="middle">−1</text>
<line x1="262.60" y1="288.90" x2="262.60" y2="291.70" stroke="#222" stroke-width="0.9"/>
<text x="262.60" y="300.90" font-size="6.1" fill="#222" stroke="#222" stroke-width="0.12" text-anchor="middle">0</text>
<line x1="284.50" y1="288.90" x2="284.50" y2="291.70" stroke="#222" stroke-width="0.9"/>
<text x="284.50" y="300.90" font-size="6.1" fill="#222" stroke="#222" stroke-width="0.12" text-anchor="middle">1</text>
<line x1="202.90" y1="282.50" x2="206.10" y2="282.50" stroke="#222" stroke-width="0.9"/>
<text x="199.70" y="284.70" font-size="6.1" fill="#222" stroke="#222" stroke-width="0.12" text-anchor="end">0</text>
<line x1="202.90" y1="237.50" x2="206.10" y2="237.50" stroke="#222" stroke-width="0.9"/>
<text x="199.70" y="239.70" font-size="6.1" fill="#222" stroke="#222" stroke-width="0.12" text-anchor="end">100</text>
<line x1="202.90" y1="192.50" x2="206.10" y2="192.50" stroke="#222" stroke-width="0.9"/>
<text x="199.70" y="194.70" font-size="6.1" fill="#222" stroke="#222" stroke-width="0.12" text-anchor="end">200</text>
<text x="253.50" y="149.43" font-size="8.7" fill="#222" stroke="#222" stroke-width="0.12" text-anchor="middle" textLength="13.40" lengthAdjust="spacingAndGlyphs">B_2</text>
<g fill="#222" stroke="#222" stroke-width="0.3"><text x="234.35" y="312.0" font-size="8" textLength="27.4" lengthAdjust="spacingAndGlyphs">Average log</text>
<text x="262.25" y="313.9" font-size="4.6" stroke-width="0.15">2</text>
<text x="265.55" y="312.0" font-size="8" textLength="7.3" lengthAdjust="spacingAndGlyphs">FC</text></g>
<text transform="translate(208.6 167.4) rotate(-58)" x="0" y="0" font-size="5.4" fill="#3f6e9e">CD69</text>
<rect x="360.00" y="154.60" width="94.00" height="134.30" fill="none" stroke="#333" stroke-width="1.1"/>
<circle cx="409.28" cy="270.31" r="0.75" fill="#c4c4c4"/>
<circle cx="411.83" cy="276.16" r="0.75" fill="#c4c4c4"/>
<circle cx="409.87" cy="274.67" r="0.75" fill="#c4c4c4"/>
<circle cx="409.33" cy="266.82" r="0.75" fill="#c4c4c4"/>
<circle cx="408.40" cy="267.46" r="0.75" fill="#c4c4c4"/>
<circle cx="411.68" cy="279.28" r="0.75" fill="#c4c4c4"/>
<circle cx="413.96" cy="280.54" r="0.75" fill="#c4c4c4"/>
<circle cx="407.99" cy="267.83" r="0.75" fill="#c4c4c4"/>
<circle cx="410.94" cy="279.41" r="0.75" fill="#c4c4c4"/>
<circle cx="408.75" cy="268.99" r="0.75" fill="#c4c4c4"/>
<circle cx="406.60" cy="267.50" r="0.75" fill="#c4c4c4"/>
<circle cx="408.27" cy="268.82" r="0.75" fill="#c4c4c4"/>
<circle cx="411.43" cy="270.87" r="0.75" fill="#c4c4c4"/>
<circle cx="411.94" cy="281.32" r="0.75" fill="#c4c4c4"/>
<circle cx="412.00" cy="277.47" r="0.75" fill="#c4c4c4"/>
<circle cx="410.46" cy="279.81" r="0.75" fill="#c4c4c4"/>
<circle cx="411.20" cy="273.77" r="0.75" fill="#c4c4c4"/>
<circle cx="408.17" cy="267.99" r="0.75" fill="#c4c4c4"/>
<circle cx="411.51" cy="280.57" r="0.75" fill="#c4c4c4"/>
<circle cx="407.65" cy="267.53" r="0.75" fill="#c4c4c4"/>
<circle cx="408.96" cy="269.59" r="0.75" fill="#c4c4c4"/>
<circle cx="411.63" cy="273.78" r="0.75" fill="#c4c4c4"/>
<circle cx="413.40" cy="279.54" r="0.75" fill="#c4c4c4"/>
<circle cx="409.80" cy="272.08" r="0.75" fill="#c4c4c4"/>
<circle cx="409.91" cy="270.99" r="0.75" fill="#c4c4c4"/>
<circle cx="408.43" cy="267.77" r="0.75" fill="#c4c4c4"/>
<circle cx="407.71" cy="268.79" r="0.75" fill="#c4c4c4"/>
<circle cx="409.32" cy="268.17" r="0.75" fill="#c4c4c4"/>
<circle cx="411.82" cy="279.11" r="0.75" fill="#c4c4c4"/>
<circle cx="409.75" cy="268.86" r="0.75" fill="#c4c4c4"/>
<circle cx="413.01" cy="279.73" r="0.75" fill="#c4c4c4"/>
<circle cx="411.03" cy="273.48" r="0.75" fill="#c4c4c4"/>
<circle cx="409.44" cy="266.91" r="0.75" fill="#c4c4c4"/>
<circle cx="411.23" cy="275.79" r="0.75" fill="#c4c4c4"/>
<circle cx="411.07" cy="271.57" r="0.75" fill="#c4c4c4"/>
<circle cx="413.31" cy="280.62" r="0.75" fill="#c4c4c4"/>
<circle cx="410.10" cy="274.52" r="0.75" fill="#c4c4c4"/>
<circle cx="407.22" cy="268.19" r="0.75" fill="#c4c4c4"/>
<circle cx="408.20" cy="270.58" r="0.75" fill="#c4c4c4"/>
<circle cx="411.24" cy="277.24" r="0.75" fill="#c4c4c4"/>
<circle cx="410.84" cy="280.42" r="0.75" fill="#c4c4c4"/>
<circle cx="413.66" cy="281.34" r="0.75" fill="#c4c4c4"/>
<circle cx="411.97" cy="281.00" r="0.75" fill="#c4c4c4"/>
<circle cx="409.83" cy="270.78" r="0.75" fill="#c4c4c4"/>
<circle cx="407.91" cy="268.69" r="0.75" fill="#c4c4c4"/>
<circle cx="411.89" cy="274.15" r="0.75" fill="#c4c4c4"/>
<circle cx="410.70" cy="271.17" r="0.75" fill="#c4c4c4"/>
<circle cx="411.36" cy="273.47" r="0.75" fill="#c4c4c4"/>
<circle cx="408.88" cy="271.09" r="0.75" fill="#c4c4c4"/>
<circle cx="412.92" cy="282.15" r="0.75" fill="#c4c4c4"/>
<circle cx="408.99" cy="267.01" r="0.75" fill="#c4c4c4"/>
<circle cx="408.18" cy="269.07" r="0.75" fill="#c4c4c4"/>
<circle cx="411.44" cy="277.76" r="0.75" fill="#c4c4c4"/>
<circle cx="413.95" cy="279.86" r="0.75" fill="#c4c4c4"/>
<circle cx="411.71" cy="276.70" r="0.75" fill="#c4c4c4"/>
<circle cx="411.68" cy="275.74" r="0.75" fill="#c4c4c4"/>
<circle cx="412.49" cy="277.15" r="0.75" fill="#c4c4c4"/>
<circle cx="411.64" cy="279.53" r="0.75" fill="#c4c4c4"/>
<circle cx="409.22" cy="272.48" r="0.75" fill="#c4c4c4"/>
<circle cx="414.42" cy="280.32" r="0.75" fill="#c4c4c4"/>
<circle cx="411.00" cy="273.91" r="0.75" fill="#c4c4c4"/>
<circle cx="411.35" cy="274.78" r="0.75" fill="#c4c4c4"/>
<circle cx="413.68" cy="278.74" r="0.75" fill="#c4c4c4"/>
<circle cx="414.56" cy="281.47" r="0.75" fill="#c4c4c4"/>
<circle cx="410.73" cy="274.89" r="0.75" fill="#c4c4c4"/>
<circle cx="414.73" cy="277.40" r="0.75" fill="#c4c4c4"/>
<circle cx="412.53" cy="280.33" r="0.75" fill="#c4c4c4"/>
<circle cx="409.55" cy="272.70" r="0.75" fill="#c4c4c4"/>
<circle cx="411.17" cy="274.96" r="0.75" fill="#c4c4c4"/>
<circle cx="409.92" cy="273.56" r="0.75" fill="#c4c4c4"/>
<circle cx="411.82" cy="276.96" r="0.75" fill="#c4c4c4"/>
<circle cx="410.23" cy="276.18" r="0.75" fill="#c4c4c4"/>
<circle cx="410.71" cy="275.69" r="0.75" fill="#c4c4c4"/>
<circle cx="408.68" cy="272.73" r="0.75" fill="#c4c4c4"/>
<circle cx="412.49" cy="279.93" r="0.75" fill="#c4c4c4"/>
<circle cx="410.94" cy="274.55" r="0.75" fill="#c4c4c4"/>
<circle cx="409.96" cy="276.37" r="0.75" fill="#c4c4c4"/>
<circle cx="409.18" cy="273.00" r="0.75" fill="#c4c4c4"/>
<circle cx="409.00" cy="276.05" r="0.75" fill="#c4c4c4"/>
<circle cx="411.86" cy="277.64" r="0.75" fill="#c4c4c4"/>
<circle cx="430.36" cy="257.32" r="0.75" fill="#c4c4c4"/>
<circle cx="426.75" cy="271.78" r="0.75" fill="#c4c4c4"/>
<circle cx="428.80" cy="267.89" r="0.75" fill="#c4c4c4"/>
<circle cx="429.88" cy="259.44" r="0.75" fill="#c4c4c4"/>
<circle cx="425.74" cy="277.59" r="0.75" fill="#c4c4c4"/>
<circle cx="430.53" cy="259.32" r="0.75" fill="#c4c4c4"/>
<circle cx="426.02" cy="276.33" r="0.75" fill="#c4c4c4"/>
<circle cx="428.56" cy="271.20" r="0.75" fill="#c4c4c4"/>
<circle cx="430.34" cy="264.14" r="0.75" fill="#c4c4c4"/>
<circle cx="426.51" cy="273.25" r="0.75" fill="#c4c4c4"/>
<circle cx="426.11" cy="272.43" r="0.75" fill="#c4c4c4"/>
<circle cx="430.56" cy="257.30" r="0.75" fill="#c4c4c4"/>
<circle cx="429.29" cy="260.92" r="0.75" fill="#c4c4c4"/>
<circle cx="429.42" cy="255.47" r="0.75" fill="#c4c4c4"/>
<circle cx="429.02" cy="264.43" r="0.75" fill="#c4c4c4"/>
<circle cx="428.66" cy="261.21" r="0.75" fill="#c4c4c4"/>
<circle cx="428.82" cy="266.17" r="0.75" fill="#c4c4c4"/>
<circle cx="430.03" cy="268.77" r="0.75" fill="#c4c4c4"/>
<circle cx="429.41" cy="257.54" r="0.75" fill="#c4c4c4"/>
<circle cx="429.42" cy="259.33" r="0.75" fill="#c4c4c4"/>
<circle cx="426.01" cy="276.97" r="0.75" fill="#c4c4c4"/>
<circle cx="426.03" cy="275.83" r="0.75" fill="#c4c4c4"/>
<circle cx="429.30" cy="267.99" r="0.75" fill="#c4c4c4"/>
<circle cx="424.99" cy="272.01" r="0.75" fill="#c4c4c4"/>
<circle cx="430.40" cy="255.10" r="0.75" fill="#c4c4c4"/>
<circle cx="430.25" cy="258.06" r="0.75" fill="#c4c4c4"/>
<circle cx="427.65" cy="269.32" r="0.75" fill="#c4c4c4"/>
<circle cx="426.22" cy="273.44" r="0.75" fill="#c4c4c4"/>
<circle cx="430.43" cy="261.97" r="0.75" fill="#c4c4c4"/>
<circle cx="432.20" cy="255.62" r="0.75" fill="#c4c4c4"/>
<circle cx="425.90" cy="276.79" r="0.75" fill="#c4c4c4"/>
<circle cx="426.11" cy="276.95" r="0.75" fill="#c4c4c4"/>
<circle cx="428.87" cy="264.66" r="0.75" fill="#c4c4c4"/>
<circle cx="429.66" cy="257.05" r="0.75" fill="#c4c4c4"/>
<circle cx="424.70" cy="281.60" r="0.75" fill="#c4c4c4"/>
<circle cx="427.47" cy="274.45" r="0.75" fill="#c4c4c4"/>
<circle cx="424.32" cy="278.57" r="0.75" fill="#c4c4c4"/>
<circle cx="428.25" cy="270.11" r="0.75" fill="#c4c4c4"/>
<circle cx="427.89" cy="267.81" r="0.75" fill="#c4c4c4"/>
<circle cx="427.65" cy="267.79" r="0.75" fill="#c4c4c4"/>
<circle cx="428.41" cy="262.06" r="0.75" fill="#c4c4c4"/>
<circle cx="428.40" cy="265.35" r="0.75" fill="#c4c4c4"/>
<circle cx="427.83" cy="269.58" r="0.75" fill="#c4c4c4"/>
<circle cx="427.34" cy="272.23" r="0.75" fill="#c4c4c4"/>
<circle cx="430.59" cy="261.03" r="0.75" fill="#c4c4c4"/>
<circle cx="428.71" cy="265.16" r="0.75" fill="#c4c4c4"/>
<circle cx="427.53" cy="272.45" r="0.75" fill="#c4c4c4"/>
<circle cx="427.21" cy="274.28" r="0.75" fill="#c4c4c4"/>
<circle cx="428.74" cy="264.66" r="0.75" fill="#c4c4c4"/>
<circle cx="426.79" cy="273.84" r="0.75" fill="#c4c4c4"/>
<circle cx="430.00" cy="260.11" r="0.75" fill="#c4c4c4"/>
<circle cx="426.37" cy="271.55" r="0.75" fill="#c4c4c4"/>
<circle cx="430.29" cy="262.17" r="0.75" fill="#c4c4c4"/>
<circle cx="431.89" cy="255.65" r="0.75" fill="#c4c4c4"/>
<circle cx="428.90" cy="271.86" r="0.75" fill="#c4c4c4"/>
<circle cx="429.51" cy="261.09" r="0.75" fill="#c4c4c4"/>
<circle cx="426.54" cy="274.60" r="0.75" fill="#c4c4c4"/>
<circle cx="428.84" cy="265.10" r="0.75" fill="#c4c4c4"/>
<circle cx="428.47" cy="272.44" r="0.75" fill="#c4c4c4"/>
<circle cx="425.35" cy="277.36" r="0.75" fill="#c4c4c4"/>
<circle cx="429.84" cy="262.95" r="0.75" fill="#c4c4c4"/>
<circle cx="429.74" cy="260.35" r="0.75" fill="#c4c4c4"/>
<circle cx="425.45" cy="277.77" r="0.75" fill="#c4c4c4"/>
<circle cx="425.57" cy="277.89" r="0.75" fill="#c4c4c4"/>
<circle cx="426.43" cy="274.92" r="0.75" fill="#c4c4c4"/>
<circle cx="425.19" cy="278.25" r="0.75" fill="#c4c4c4"/>
<circle cx="427.72" cy="270.30" r="0.75" fill="#c4c4c4"/>
<circle cx="428.76" cy="265.01" r="0.75" fill="#c4c4c4"/>
<circle cx="429.01" cy="263.94" r="0.75" fill="#c4c4c4"/>
<circle cx="426.85" cy="272.06" r="0.75" fill="#c4c4c4"/>
<circle cx="428.84" cy="261.64" r="0.75" fill="#c4c4c4"/>
<circle cx="428.72" cy="268.56" r="0.75" fill="#c4c4c4"/>
<circle cx="425.53" cy="279.61" r="0.75" fill="#c4c4c4"/>
<circle cx="426.81" cy="272.78" r="0.75" fill="#c4c4c4"/>
<circle cx="427.28" cy="267.38" r="0.75" fill="#c4c4c4"/>
<circle cx="427.65" cy="271.72" r="0.75" fill="#c4c4c4"/>
<circle cx="427.36" cy="268.05" r="0.75" fill="#c4c4c4"/>
<circle cx="427.41" cy="279.86" r="0.75" fill="#c4c4c4"/>
<circle cx="428.84" cy="266.10" r="0.75" fill="#c4c4c4"/>
<circle cx="426.68" cy="272.98" r="0.75" fill="#c4c4c4"/>
<circle cx="426.18" cy="276.29" r="0.75" fill="#c4c4c4"/>
<circle cx="423.38" cy="276.59" r="0.75" fill="#c4c4c4"/>
<circle cx="428.78" cy="263.30" r="0.75" fill="#c4c4c4"/>
<circle cx="426.99" cy="272.43" r="0.75" fill="#c4c4c4"/>
<circle cx="425.81" cy="272.84" r="0.75" fill="#c4c4c4"/>
<circle cx="428.93" cy="264.94" r="0.75" fill="#c4c4c4"/>
<circle cx="427.91" cy="270.14" r="0.75" fill="#c4c4c4"/>
<circle cx="427.44" cy="270.58" r="0.75" fill="#c4c4c4"/>
<circle cx="429.81" cy="264.04" r="0.75" fill="#c4c4c4"/>
<circle cx="426.81" cy="269.98" r="0.75" fill="#c4c4c4"/>
<circle cx="423.81" cy="274.81" r="0.75" fill="#c4c4c4"/>
<circle cx="427.69" cy="265.08" r="0.75" fill="#c4c4c4"/>
<circle cx="428.22" cy="268.56" r="0.75" fill="#c4c4c4"/>
<circle cx="425.04" cy="278.66" r="0.75" fill="#c4c4c4"/>
<circle cx="426.06" cy="273.18" r="0.75" fill="#c4c4c4"/>
<circle cx="429.95" cy="263.40" r="0.75" fill="#c4c4c4"/>
<circle cx="428.37" cy="263.50" r="0.75" fill="#c4c4c4"/>
<circle cx="427.20" cy="269.08" r="0.75" fill="#c4c4c4"/>
<circle cx="426.02" cy="269.01" r="0.75" fill="#c4c4c4"/>
<circle cx="427.44" cy="268.88" r="0.75" fill="#c4c4c4"/>
<line x1="405.50" y1="155.10" x2="405.50" y2="288.40" stroke="#222" stroke-width="0.85" stroke-dasharray="1.8 2.4"/>
<line x1="432.70" y1="155.10" x2="432.70" y2="288.40" stroke="#222" stroke-width="0.85" stroke-dasharray="1.8 2.4"/>
<line x1="360.50" y1="282.60" x2="453.50" y2="282.60" stroke="#444" stroke-width="0.85" stroke-dasharray="1.8 2.4"/>
<circle cx="382.60" cy="179.00" r="0.8" fill="#1b3d6e"/>
<circle cx="391.50" cy="188.00" r="0.8" fill="#1b3d6e"/>
<circle cx="387.40" cy="197.50" r="0.8" fill="#1b3d6e"/>
<circle cx="400.40" cy="191.00" r="0.8" fill="#1b3d6e"/>
<circle cx="404.00" cy="192.00" r="0.8" fill="#1b3d6e"/>
<circle cx="402.60" cy="208.00" r="0.8" fill="#1b3d6e"/>
<circle cx="393.00" cy="218.00" r="0.8" fill="#1b3d6e"/>
<circle cx="391.60" cy="216.50" r="0.8" fill="#1b3d6e"/>
<circle cx="395.20" cy="226.70" r="0.8" fill="#1b3d6e"/>
<circle cx="398.80" cy="233.40" r="0.8" fill="#1b3d6e"/>
<circle cx="400.80" cy="236.90" r="0.8" fill="#1b3d6e"/>
<circle cx="399.30" cy="239.50" r="0.8" fill="#1b3d6e"/>
<circle cx="401.30" cy="240.00" r="0.8" fill="#1b3d6e"/>
<circle cx="404.90" cy="243.10" r="0.8" fill="#1b3d6e"/>
<circle cx="403.40" cy="245.60" r="0.8" fill="#1b3d6e"/>
<circle cx="400.30" cy="247.70" r="0.8" fill="#1b3d6e"/>
<circle cx="401.30" cy="250.20" r="0.8" fill="#1b3d6e"/>
<circle cx="404.40" cy="249.20" r="0.8" fill="#1b3d6e"/>
<circle cx="398.30" cy="254.80" r="0.8" fill="#1b3d6e"/>
<circle cx="402.30" cy="253.80" r="0.8" fill="#1b3d6e"/>
<circle cx="403.40" cy="256.30" r="0.8" fill="#1b3d6e"/>
<circle cx="402.90" cy="258.90" r="0.8" fill="#1b3d6e"/>
<circle cx="403.90" cy="260.90" r="0.8" fill="#1b3d6e"/>
<circle cx="403.40" cy="264.00" r="0.8" fill="#1b3d6e"/>
<circle cx="404.40" cy="266.00" r="0.8" fill="#1b3d6e"/>
<circle cx="402.90" cy="267.00" r="0.8" fill="#1b3d6e"/>
<circle cx="405.40" cy="268.10" r="0.8" fill="#1b3d6e"/>
<circle cx="403.90" cy="273.70" r="0.8" fill="#1b3d6e"/>
<circle cx="405.40" cy="276.20" r="0.8" fill="#1b3d6e"/>
<circle cx="405.40" cy="230.30" r="0.8" fill="#1b3d6e"/>
<circle cx="404.83" cy="266.56" r="0.8" fill="#1b3d6e"/>
<circle cx="403.89" cy="266.84" r="0.8" fill="#1b3d6e"/>
<circle cx="404.27" cy="267.41" r="0.8" fill="#1b3d6e"/>
<circle cx="404.60" cy="264.16" r="0.8" fill="#1b3d6e"/>
<circle cx="404.48" cy="267.82" r="0.8" fill="#1b3d6e"/>
<circle cx="402.25" cy="263.75" r="0.8" fill="#1b3d6e"/>
<circle cx="402.85" cy="261.03" r="0.8" fill="#1b3d6e"/>
<circle cx="404.86" cy="265.38" r="0.8" fill="#1b3d6e"/>
<circle cx="403.16" cy="264.01" r="0.8" fill="#1b3d6e"/>
<circle cx="403.04" cy="267.56" r="0.8" fill="#1b3d6e"/>
<circle cx="405.64" cy="267.85" r="0.8" fill="#1b3d6e"/>
<circle cx="402.95" cy="264.39" r="0.8" fill="#1b3d6e"/>
<circle cx="405.04" cy="266.85" r="0.8" fill="#1b3d6e"/>
<circle cx="405.47" cy="267.29" r="0.8" fill="#1b3d6e"/>
<circle cx="448.50" cy="178.00" r="0.8" fill="#a01030"/>
<circle cx="438.80" cy="210.00" r="0.8" fill="#a01030"/>
<circle cx="442.00" cy="216.30" r="0.8" fill="#a01030"/>
<circle cx="433.20" cy="225.10" r="0.8" fill="#a01030"/>
<circle cx="435.70" cy="232.60" r="0.8" fill="#a01030"/>
<circle cx="437.60" cy="233.90" r="0.8" fill="#a01030"/>
<circle cx="435.70" cy="237.00" r="0.8" fill="#a01030"/>
<circle cx="434.40" cy="239.50" r="0.8" fill="#a01030"/>
<circle cx="436.30" cy="241.40" r="0.8" fill="#a01030"/>
<circle cx="433.20" cy="246.40" r="0.8" fill="#a01030"/>
<circle cx="433.20" cy="252.10" r="0.8" fill="#a01030"/>
<circle cx="432.50" cy="255.80" r="0.8" fill="#a01030"/>
<circle cx="435.10" cy="259.00" r="0.8" fill="#a01030"/>
<circle cx="433.20" cy="261.50" r="0.8" fill="#a01030"/>
<circle cx="434.80" cy="236.00" r="0.8" fill="#a01030"/>
<circle cx="433.50" cy="250.00" r="0.8" fill="#a01030"/>
<circle cx="434.00" cy="244.00" r="0.8" fill="#a01030"/>
<text x="362.20" y="159.74" font-size="5.1" fill="#3f6e9e" stroke="#3f6e9e" stroke-width="0.12" textLength="13.30" lengthAdjust="spacingAndGlyphs">CD69</text>
<text x="372.40" y="165.14" font-size="5.1" fill="#3f6e9e" stroke="#3f6e9e" stroke-width="0.12" textLength="13.20" lengthAdjust="spacingAndGlyphs">CD83</text>
<text x="378.30" y="177.84" font-size="5.1" fill="#3f6e9e" stroke="#3f6e9e" stroke-width="0.12" textLength="18.80" lengthAdjust="spacingAndGlyphs">NFKBID</text>
<text x="386.00" y="186.54" font-size="5.1" fill="#3f6e9e" stroke="#3f6e9e" stroke-width="0.12" textLength="18.80" lengthAdjust="spacingAndGlyphs">NFKBIA</text>
<text x="383.70" y="196.24" font-size="5.1" fill="#3f6e9e" stroke="#3f6e9e" stroke-width="0.12" textLength="13.80" lengthAdjust="spacingAndGlyphs">SNX9</text>
<text x="390.10" y="212.14" font-size="5.1" fill="#3f6e9e" stroke="#3f6e9e" stroke-width="0.12" textLength="11.60" lengthAdjust="spacingAndGlyphs">KLF6</text>
<text x="371.00" y="220.84" font-size="5.1" fill="#3f6e9e" stroke="#3f6e9e" stroke-width="0.12" textLength="21.90" lengthAdjust="spacingAndGlyphs">CDKN1A</text>
<text x="397.50" y="231.44" font-size="5.1" fill="#3f6e9e" stroke="#3f6e9e" stroke-width="0.12" textLength="8.20" lengthAdjust="spacingAndGlyphs">JUN</text>
<text x="378.30" y="238.74" font-size="5.1" fill="#3f6e9e" stroke="#3f6e9e" stroke-width="0.12" textLength="19.20" lengthAdjust="spacingAndGlyphs">TNFAIP3</text>
<text x="377.90" y="260.64" font-size="5.1" fill="#3f6e9e" stroke="#3f6e9e" stroke-width="0.12" textLength="16.80" lengthAdjust="spacingAndGlyphs">NR4A1</text>
<text x="376.80" y="269.44" font-size="5.1" fill="#3f6e9e" stroke="#3f6e9e" stroke-width="0.12" textLength="17.00" lengthAdjust="spacingAndGlyphs">DUSP2</text>
<text x="394.70" y="269.44" font-size="5.1" fill="#3f6e9e" stroke="#3f6e9e" stroke-width="0.12" textLength="19.20" lengthAdjust="spacingAndGlyphs">NFKBIZ</text>
<text x="437.10" y="170.14" font-size="5.1" fill="#c23a5c" stroke="#c23a5c" stroke-width="0.12" textLength="15.90" lengthAdjust="spacingAndGlyphs">TCL1A</text>
<text x="440.00" y="175.54" font-size="5.1" fill="#c23a5c" stroke="#c23a5c" stroke-width="0.12" textLength="11.30" lengthAdjust="spacingAndGlyphs">KLF2</text>
<text x="433.00" y="208.14" font-size="5.1" fill="#c23a5c" stroke="#c23a5c" stroke-width="0.12" textLength="8.80" lengthAdjust="spacingAndGlyphs">LTB</text>
<text x="439.50" y="214.84" font-size="5.1" fill="#c23a5c" stroke="#c23a5c" stroke-width="0.12" textLength="11.50" lengthAdjust="spacingAndGlyphs">EAF2</text>
<text x="433.00" y="221.24" font-size="5.1" fill="#c23a5c" stroke="#c23a5c" stroke-width="0.12" textLength="14.70" lengthAdjust="spacingAndGlyphs">GNAI2</text>
<text x="434.90" y="232.34" font-size="5.1" fill="#c23a5c" stroke="#c23a5c" stroke-width="0.12" textLength="13.70" lengthAdjust="spacingAndGlyphs">CD81</text>
<text x="418.80" y="237.84" font-size="5.1" fill="#c23a5c" stroke="#c23a5c" stroke-width="0.12" textLength="13.40" lengthAdjust="spacingAndGlyphs">CTSZ</text>
<text x="436.70" y="244.64" font-size="5.1" fill="#c23a5c" stroke="#c23a5c" stroke-width="0.12" textLength="11.90" lengthAdjust="spacingAndGlyphs">ETS1</text>
<text x="426.70" y="255.24" font-size="5.1" fill="#c23a5c" stroke="#c23a5c" stroke-width="0.12" textLength="11.90" lengthAdjust="spacingAndGlyphs">JUND</text>
<text x="433.00" y="263.94" font-size="5.1" fill="#c23a5c" stroke="#c23a5c" stroke-width="0.12" textLength="12.90" lengthAdjust="spacingAndGlyphs">RFTX</text>
<line x1="373.60" y1="288.90" x2="373.60" y2="291.70" stroke="#222" stroke-width="0.9"/>
<text x="373.60" y="300.90" font-size="6.1" fill="#222" stroke="#222" stroke-width="0.12" text-anchor="middle">−2</text>
<line x1="396.30" y1="288.90" x2="396.30" y2="291.70" stroke="#222" stroke-width="0.9"/>
<text x="396.30" y="300.90" font-size="6.1" fill="#222" stroke="#222" stroke-width="0.12" text-anchor="middle">−1</text>
<line x1="419.00" y1="288.90" x2="419.00" y2="291.70" stroke="#222" stroke-width="0.9"/>
<text x="419.00" y="300.90" font-size="6.1" fill="#222" stroke="#222" stroke-width="0.12" text-anchor="middle">0</text>
<line x1="441.70" y1="288.90" x2="441.70" y2="291.70" stroke="#222" stroke-width="0.9"/>
<text x="441.70" y="300.90" font-size="6.1" fill="#222" stroke="#222" stroke-width="0.12" text-anchor="middle">1</text>
<line x1="356.80" y1="282.60" x2="360.00" y2="282.60" stroke="#222" stroke-width="0.9"/>
<text x="353.60" y="284.80" font-size="6.1" fill="#222" stroke="#222" stroke-width="0.12" text-anchor="end">0</text>
<line x1="356.80" y1="241.30" x2="360.00" y2="241.30" stroke="#222" stroke-width="0.9"/>
<text x="353.60" y="243.50" font-size="6.1" fill="#222" stroke="#222" stroke-width="0.12" text-anchor="end">100</text>
<line x1="356.80" y1="200.00" x2="360.00" y2="200.00" stroke="#222" stroke-width="0.9"/>
<text x="353.60" y="202.20" font-size="6.1" fill="#222" stroke="#222" stroke-width="0.12" text-anchor="end">200</text>
<line x1="356.80" y1="158.70" x2="360.00" y2="158.70" stroke="#222" stroke-width="0.9"/>
<text x="353.60" y="160.90" font-size="6.1" fill="#222" stroke="#222" stroke-width="0.12" text-anchor="end">300</text>
<text x="406.50" y="149.43" font-size="8.7" fill="#222" stroke="#222" stroke-width="0.12" text-anchor="middle" textLength="13.40" lengthAdjust="spacingAndGlyphs">B_3</text>
<g fill="#222" stroke="#222" stroke-width="0.3"><text x="388.10" y="312.0" font-size="8" textLength="27.4" lengthAdjust="spacingAndGlyphs">Average log</text>
<text x="416.00" y="313.9" font-size="4.6" stroke-width="0.15">2</text>
<text x="419.30" y="312.0" font-size="8" textLength="7.3" lengthAdjust="spacingAndGlyphs">FC</text></g>
<line x1="144.70" y1="342.20" x2="144.70" y2="454.00" stroke="#222" stroke-width="1.0"/>
<rect x="149.00" y="344.15" width="78.25" height="7.30" fill="#e8440c" stroke="#a73008" stroke-width="0.5"/>
<line x1="141.80" y1="347.80" x2="144.70" y2="347.80" stroke="#222" stroke-width="0.8"/>
<text x="138.90" y="347.23" font-size="6.05" fill="#222" stroke="#222" stroke-width="0.12" text-anchor="end">positive regulation of transcription from</text>
<text x="138.90" y="352.73" font-size="6.05" fill="#222" stroke="#222" stroke-width="0.12" text-anchor="end">RNA polymerase II promoter</text>
<rect x="149.00" y="353.25" width="54.05" height="7.30" fill="#e8197a" stroke="#a71257" stroke-width="0.5"/>
<line x1="141.80" y1="356.90" x2="144.70" y2="356.90" stroke="#222" stroke-width="0.8"/>
<text x="138.90" y="359.08" font-size="6.05" fill="#222" stroke="#222" stroke-width="0.12" text-anchor="end">apoptotic process</text>
<rect x="149.00" y="362.35" width="25.55" height="7.30" fill="#c4239a" stroke="#8d196e" stroke-width="0.5"/>
<line x1="141.80" y1="366.00" x2="144.70" y2="366.00" stroke="#222" stroke-width="0.8"/>
<text x="138.90" y="368.18" font-size="6.05" fill="#c8325a" stroke="#c8325a" stroke-width="0.12" text-anchor="end">inflammatory response</text>
<rect x="149.00" y="371.45" width="16.35" height="7.30" fill="#8f2a98" stroke="#661e6d" stroke-width="0.5"/>
<line x1="141.80" y1="375.10" x2="144.70" y2="375.10" stroke="#222" stroke-width="0.8"/>
<text x="138.90" y="377.28" font-size="6.05" fill="#222" stroke="#222" stroke-width="0.12" text-anchor="end">positive regulation of apoptotic process</text>
<rect x="149.00" y="380.55" width="16.35" height="7.30" fill="#4a2290" stroke="#351867" stroke-width="0.5"/>
<line x1="141.80" y1="384.20" x2="144.70" y2="384.20" stroke="#222" stroke-width="0.8"/>
<text x="138.90" y="386.38" font-size="6.05" fill="#c8325a" stroke="#c8325a" stroke-width="0.12" text-anchor="end">response to cytokine</text>
<rect x="149.00" y="389.65" width="16.35" height="7.30" fill="#4a2290" stroke="#351867" stroke-width="0.5"/>
<line x1="141.80" y1="393.30" x2="144.70" y2="393.30" stroke="#222" stroke-width="0.8"/>
<text x="138.90" y="395.48" font-size="6.05" fill="#c8325a" stroke="#c8325a" stroke-width="0.12" text-anchor="end">NIK/NF-kappaB signaling</text>
<rect x="149.00" y="398.75" width="25.55" height="7.30" fill="#4c2290" stroke="#361867" stroke-width="0.5"/>
<line x1="141.80" y1="402.40" x2="144.70" y2="402.40" stroke="#222" stroke-width="0.8"/>
<text x="138.90" y="404.58" font-size="6.05" fill="#222" stroke="#222" stroke-width="0.12" text-anchor="end">negative regulation of interleukin−2 production</text>
<rect x="149.00" y="407.85" width="15.25" height="7.30" fill="#52249a" stroke="#3b196e" stroke-width="0.5"/>
<line x1="141.80" y1="411.50" x2="144.70" y2="411.50" stroke="#222" stroke-width="0.8"/>
<text x="138.90" y="413.68" font-size="6.05" fill="#222" stroke="#222" stroke-width="0.12" text-anchor="end">I-kappaB kinase/NF-kappaB signaling</text>
<rect x="149.00" y="416.95" width="16.35" height="7.30" fill="#302a8c" stroke="#221e64" stroke-width="0.5"/>
<line x1="141.80" y1="420.60" x2="144.70" y2="420.60" stroke="#222" stroke-width="0.8"/>
<text x="138.90" y="422.78" font-size="6.05" fill="#c8325a" stroke="#c8325a" stroke-width="0.12" text-anchor="end">regulation of type I interferon production</text>
<rect x="149.00" y="426.05" width="16.35" height="7.30" fill="#302a8c" stroke="#221e64" stroke-width="0.5"/>
<line x1="141.80" y1="429.70" x2="144.70" y2="429.70" stroke="#222" stroke-width="0.8"/>
<text x="138.90" y="429.13" font-size="6.05" fill="#222" stroke="#222" stroke-width="0.12" text-anchor="end">negative regulation of macrophage</text>
<text x="138.90" y="434.63" font-size="6.05" fill="#222" stroke="#222" stroke-width="0.12" text-anchor="end">derived foam cell differentiation</text>
<rect x="149.00" y="435.15" width="16.35" height="7.30" fill="#302a8c" stroke="#221e64" stroke-width="0.5"/>
<line x1="141.80" y1="438.80" x2="144.70" y2="438.80" stroke="#222" stroke-width="0.8"/>
<text x="138.90" y="440.98" font-size="6.05" fill="#c8325a" stroke="#c8325a" stroke-width="0.12" text-anchor="end">leukocyte chemotaxis</text>
<rect x="149.00" y="444.25" width="12.55" height="7.30" fill="#2e2e90" stroke="#212167" stroke-width="0.5"/>
<line x1="141.80" y1="447.90" x2="144.70" y2="447.90" stroke="#222" stroke-width="0.8"/>
<text x="138.90" y="450.08" font-size="6.05" fill="#222" stroke="#222" stroke-width="0.12" text-anchor="end">cellular response to stress</text>
<line x1="144.70" y1="454.00" x2="231.15" y2="454.00" stroke="#222" stroke-width="1.0"/>
<line x1="148.75" y1="454.00" x2="148.75" y2="456.80" stroke="#222" stroke-width="0.9"/>
<text x="148.75" y="464.83" font-size="6.2" fill="#222" stroke="#222" stroke-width="0.12" text-anchor="middle">0</text>
<line x1="165.85" y1="454.00" x2="165.85" y2="456.80" stroke="#222" stroke-width="0.9"/>
<text x="165.85" y="464.83" font-size="6.2" fill="#222" stroke="#222" stroke-width="0.12" text-anchor="middle">1</text>
<line x1="182.95" y1="454.00" x2="182.95" y2="456.80" stroke="#222" stroke-width="0.9"/>
<text x="182.95" y="464.83" font-size="6.2" fill="#222" stroke="#222" stroke-width="0.12" text-anchor="middle">2</text>
<line x1="200.05" y1="454.00" x2="200.05" y2="456.80" stroke="#222" stroke-width="0.9"/>
<text x="200.05" y="464.83" font-size="6.2" fill="#222" stroke="#222" stroke-width="0.12" text-anchor="middle">3</text>
<line x1="217.15" y1="454.00" x2="217.15" y2="456.80" stroke="#222" stroke-width="0.9"/>
<text x="217.15" y="464.83" font-size="6.2" fill="#222" stroke="#222" stroke-width="0.12" text-anchor="middle">4</text>
<g fill="#222" stroke="#222" stroke-width="0.2"><text x="172.40" y="476.2" font-size="7.2" textLength="9.3" lengthAdjust="spacingAndGlyphs">−log</text>
<text x="182.40" y="478.4" font-size="4.4" stroke-width="0.1" textLength="4.5" lengthAdjust="spacingAndGlyphs">10</text>
<text x="187.30" y="476.2" font-size="7.2" textLength="15.2" lengthAdjust="spacingAndGlyphs">(FDR)</text></g>
<circle cx="112.00" cy="334.50" r="1.0" fill="#1b3d6e"/>
<text x="115.80" y="336.96" font-size="6.0" fill="#222" stroke="#222" stroke-width="0.12">HA</text>
<text x="141.30" y="338.00" font-size="6.1" fill="#222" stroke="#222" stroke-width="0.12">72 upregulated DEGs of B clusters</text>
<defs><linearGradient id="cb235" x1="0" y1="0" x2="0" y2="1"><stop offset="0" stop-color="#ff3a10"/><stop offset="0.22" stop-color="#f2155a"/><stop offset="0.45" stop-color="#de1a8c"/><stop offset="0.7" stop-color="#9a2a98"/><stop offset="1" stop-color="#34288a"/></linearGradient></defs>
<rect x="235.10" y="388.70" width="8.80" height="44.20" fill="url(#cb235)"/>
<text x="235.10" y="384.69" font-size="5.8" fill="#222" stroke="#222" stroke-width="0.12">Count</text>
<text x="245.30" y="390.72" font-size="5.6" fill="#222" stroke="#222" stroke-width="0.12">20</text>
<text x="245.30" y="403.92" font-size="5.6" fill="#222" stroke="#222" stroke-width="0.12">15</text>
<text x="245.30" y="416.72" font-size="5.6" fill="#222" stroke="#222" stroke-width="0.12">10</text>
<text x="245.30" y="429.72" font-size="5.6" fill="#222" stroke="#222" stroke-width="0.12">5</text>
<line x1="408.60" y1="342.20" x2="408.60" y2="454.00" stroke="#222" stroke-width="1.0"/>
<rect x="413.15" y="344.15" width="61.80" height="7.30" fill="#e85010" stroke="#a7390b" stroke-width="0.5"/>
<line x1="405.70" y1="347.80" x2="408.60" y2="347.80" stroke="#222" stroke-width="0.8"/>
<text x="402.50" y="347.23" font-size="6.05" fill="#222" stroke="#222" stroke-width="0.12" text-anchor="end">positive regulation of transcription from</text>
<text x="402.50" y="352.73" font-size="6.05" fill="#222" stroke="#222" stroke-width="0.12" text-anchor="end">RNA polymerase II promoter</text>
<rect x="413.15" y="353.25" width="75.40" height="7.30" fill="#e81030" stroke="#a70b22" stroke-width="0.5"/>
<line x1="405.70" y1="356.90" x2="408.60" y2="356.90" stroke="#222" stroke-width="0.8"/>
<text x="402.50" y="359.08" font-size="6.05" fill="#222" stroke="#222" stroke-width="0.12" text-anchor="end">positive regulation of transcription DNA-templated</text>
<rect x="413.15" y="362.35" width="21.70" height="7.30" fill="#e0184a" stroke="#a11135" stroke-width="0.5"/>
<line x1="405.70" y1="366.00" x2="408.60" y2="366.00" stroke="#222" stroke-width="0.8"/>
<text x="402.50" y="365.43" font-size="6.05" fill="#222" stroke="#222" stroke-width="0.12" text-anchor="end">negative regulation of transcription from</text>
<text x="402.50" y="370.93" font-size="6.05" fill="#222" stroke="#222" stroke-width="0.12" text-anchor="end">RNA polymerase II promoter</text>
<rect x="413.15" y="371.45" width="61.80" height="7.30" fill="#e81474" stroke="#a70e53" stroke-width="0.5"/>
<line x1="405.70" y1="375.10" x2="408.60" y2="375.10" stroke="#222" stroke-width="0.8"/>
<text x="402.50" y="377.28" font-size="6.05" fill="#c8325a" stroke="#c8325a" stroke-width="0.12" text-anchor="end">positive regulation of cell proliferation</text>
<rect x="413.15" y="380.55" width="15.50" height="7.30" fill="#e02490" stroke="#a11967" stroke-width="0.5"/>
<line x1="405.70" y1="384.20" x2="408.60" y2="384.20" stroke="#222" stroke-width="0.8"/>
<text x="402.50" y="386.38" font-size="6.05" fill="#222" stroke="#222" stroke-width="0.12" text-anchor="end">negative regulation of transcription, DNA-templated</text>
<rect x="413.15" y="389.65" width="75.40" height="7.30" fill="#c42a8e" stroke="#8d1e66" stroke-width="0.5"/>
<line x1="405.70" y1="393.30" x2="408.60" y2="393.30" stroke="#222" stroke-width="0.8"/>
<text x="402.50" y="395.48" font-size="6.05" fill="#222" stroke="#222" stroke-width="0.12" text-anchor="end">aging</text>
<rect x="413.15" y="398.75" width="21.70" height="7.30" fill="#8c2c94" stroke="#641f6a" stroke-width="0.5"/>
<line x1="405.70" y1="402.40" x2="408.60" y2="402.40" stroke="#222" stroke-width="0.8"/>
<text x="402.50" y="404.58" font-size="6.05" fill="#222" stroke="#222" stroke-width="0.12" text-anchor="end">MAPK cascade</text>
<rect x="413.15" y="407.85" width="61.80" height="7.30" fill="#7a2c98" stroke="#571f6d" stroke-width="0.5"/>
<line x1="405.70" y1="411.50" x2="408.60" y2="411.50" stroke="#222" stroke-width="0.8"/>
<text x="402.50" y="413.68" font-size="6.05" fill="#222" stroke="#222" stroke-width="0.12" text-anchor="end">positive regulation of superoxide anion generation</text>
<rect x="413.15" y="416.95" width="21.70" height="7.30" fill="#6a2a92" stroke="#4c1e69" stroke-width="0.5"/>
<line x1="405.70" y1="420.60" x2="408.60" y2="420.60" stroke="#222" stroke-width="0.8"/>
<text x="402.50" y="422.78" font-size="6.05" fill="#222" stroke="#222" stroke-width="0.12" text-anchor="end">negative regulation of T cell proliferation</text>
<rect x="413.15" y="426.05" width="8.20" height="7.30" fill="#2e2e8e" stroke="#212166" stroke-width="0.5"/>
<line x1="405.70" y1="429.70" x2="408.60" y2="429.70" stroke="#222" stroke-width="0.8"/>
<text x="402.50" y="431.88" font-size="6.05" fill="#222" stroke="#222" stroke-width="0.12" text-anchor="end">regulation of DNA binding</text>
<rect x="413.15" y="435.15" width="11.00" height="7.30" fill="#2e3090" stroke="#212267" stroke-width="0.5"/>
<line x1="405.70" y1="438.80" x2="408.60" y2="438.80" stroke="#222" stroke-width="0.8"/>
<text x="402.50" y="440.98" font-size="6.05" fill="#222" stroke="#222" stroke-width="0.12" text-anchor="end">regulation of axon regeneration</text>
<rect x="413.15" y="444.25" width="21.40" height="7.30" fill="#2a2e90" stroke="#1e2167" stroke-width="0.5"/>
<line x1="405.70" y1="447.90" x2="408.60" y2="447.90" stroke="#222" stroke-width="0.8"/>
<text x="402.50" y="450.08" font-size="6.05" fill="#222" stroke="#222" stroke-width="0.12" text-anchor="end">positive regulation of receptor clustering</text>
<line x1="408.60" y1="454.00" x2="504.70" y2="454.00" stroke="#222" stroke-width="1.0"/>
<line x1="412.70" y1="454.00" x2="412.70" y2="456.80" stroke="#222" stroke-width="0.9"/>
<text x="412.70" y="464.83" font-size="6.2" fill="#222" stroke="#222" stroke-width="0.12" text-anchor="middle">0.00</text>
<line x1="432.20" y1="454.00" x2="432.20" y2="456.80" stroke="#222" stroke-width="0.9"/>
<text x="432.20" y="464.83" font-size="6.2" fill="#222" stroke="#222" stroke-width="0.12" text-anchor="middle">0.25</text>
<line x1="451.70" y1="454.00" x2="451.70" y2="456.80" stroke="#222" stroke-width="0.9"/>
<text x="451.70" y="464.83" font-size="6.2" fill="#222" stroke="#222" stroke-width="0.12" text-anchor="middle">0.50</text>
<line x1="471.20" y1="454.00" x2="471.20" y2="456.80" stroke="#222" stroke-width="0.9"/>
<text x="471.20" y="464.83" font-size="6.2" fill="#222" stroke="#222" stroke-width="0.12" text-anchor="middle">0.75</text>
<line x1="490.70" y1="454.00" x2="490.70" y2="456.80" stroke="#222" stroke-width="0.9"/>
<text x="490.70" y="464.83" font-size="6.2" fill="#222" stroke="#222" stroke-width="0.12" text-anchor="middle">1.00</text>
<g fill="#222" stroke="#222" stroke-width="0.2"><text x="436.80" y="476.2" font-size="7.2" textLength="9.3" lengthAdjust="spacingAndGlyphs">−log</text>
<text x="446.80" y="478.4" font-size="4.4" stroke-width="0.1" textLength="4.5" lengthAdjust="spacingAndGlyphs">10</text>
<text x="451.70" y="476.2" font-size="7.2" textLength="15.2" lengthAdjust="spacingAndGlyphs">(FDR)</text></g>
<circle cx="372.50" cy="334.50" r="1.0" fill="#a01030"/>
<text x="376.30" y="336.96" font-size="6.0" fill="#222" stroke="#222" stroke-width="0.12">HB</text>
<text x="405.00" y="338.00" font-size="6.1" fill="#222" stroke="#222" stroke-width="0.12">48 upregulated DEGs of B clusters</text>
<defs><linearGradient id="cb496" x1="0" y1="0" x2="0" y2="1"><stop offset="0" stop-color="#ff3a10"/><stop offset="0.22" stop-color="#f2155a"/><stop offset="0.45" stop-color="#de1a8c"/><stop offset="0.7" stop-color="#9a2a98"/><stop offset="1" stop-color="#34288a"/></linearGradient></defs>
<rect x="496.30" y="388.70" width="8.80" height="44.20" fill="url(#cb496)"/>
<text x="496.30" y="384.69" font-size="5.8" fill="#222" stroke="#222" stroke-width="0.12">Count</text>
<text x="506.50" y="390.72" font-size="5.6" fill="#222" stroke="#222" stroke-width="0.12">10</text>
<text x="506.50" y="401.72" font-size="5.6" fill="#222" stroke="#222" stroke-width="0.12">8</text>
<text x="506.50" y="412.92" font-size="5.6" fill="#222" stroke="#222" stroke-width="0.12">6</text>
<text x="506.50" y="423.62" font-size="5.6" fill="#222" stroke="#222" stroke-width="0.12">4</text>
<text x="506.50" y="434.62" font-size="5.6" fill="#222" stroke="#222" stroke-width="0.12">2</text>
<text x="42.70" y="496.70" font-size="8.6" fill="#222" stroke="#222" stroke-width="0.12" textLength="77.80" lengthAdjust="spacingAndGlyphs">Number of clonotypes</text>
<line x1="50.30" y1="505.00" x2="50.30" y2="612.70" stroke="#222" stroke-width="1.0"/>
<line x1="50.30" y1="612.70" x2="111.50" y2="612.70" stroke="#222" stroke-width="1.0"/>
<line x1="47.40" y1="607.70" x2="50.30" y2="607.70" stroke="#222" stroke-width="0.9"/>
<text x="43.80" y="609.93" font-size="6.2" fill="#222" stroke="#222" stroke-width="0.12" text-anchor="end">0</text>
<line x1="47.40" y1="582.70" x2="50.30" y2="582.70" stroke="#222" stroke-width="0.9"/>
<text x="43.80" y="584.93" font-size="6.2" fill="#222" stroke="#222" stroke-width="0.12" text-anchor="end">1000</text>
<line x1="47.40" y1="557.70" x2="50.30" y2="557.70" stroke="#222" stroke-width="0.9"/>
<text x="43.80" y="559.93" font-size="6.2" fill="#222" stroke="#222" stroke-width="0.12" text-anchor="end">2000</text>
<line x1="47.40" y1="532.70" x2="50.30" y2="532.70" stroke="#222" stroke-width="0.9"/>
<text x="43.80" y="534.93" font-size="6.2" fill="#222" stroke="#222" stroke-width="0.12" text-anchor="end">3000</text>
<line x1="47.40" y1="507.70" x2="50.30" y2="507.70" stroke="#222" stroke-width="0.9"/>
<text x="43.80" y="509.93" font-size="6.2" fill="#222" stroke="#222" stroke-width="0.12" text-anchor="end">4000</text>
<rect x="54.30" y="546.20" width="25.80" height="61.50" fill="#8797c4"/>
<rect x="83.20" y="567.70" width="25.70" height="40.00" fill="#e88a7c"/>
<line x1="67.20" y1="566.45" x2="67.20" y2="518.20" stroke="#1a1a1a" stroke-width="0.75"/>
<line x1="65.20" y1="566.45" x2="69.20" y2="566.45" stroke="#1a1a1a" stroke-width="0.75"/>
<line x1="65.20" y1="518.20" x2="69.20" y2="518.20" stroke="#1a1a1a" stroke-width="0.75"/>
<circle cx="67.20" cy="518.95" r="0.9" fill="#222"/>
<circle cx="67.20" cy="524.45" r="0.9" fill="#222"/>
<circle cx="67.20" cy="560.95" r="0.9" fill="#222"/>
<circle cx="67.20" cy="562.70" r="0.9" fill="#222"/>
<circle cx="67.20" cy="566.45" r="0.9" fill="#222"/>
<line x1="95.90" y1="583.95" x2="95.90" y2="539.70" stroke="#1a1a1a" stroke-width="0.75"/>
<line x1="93.90" y1="583.95" x2="97.90" y2="583.95" stroke="#1a1a1a" stroke-width="0.75"/>
<line x1="93.90" y1="539.70" x2="97.90" y2="539.70" stroke="#1a1a1a" stroke-width="0.75"/>
<circle cx="95.90" cy="536.95" r="0.9" fill="#222"/>
<circle cx="95.90" cy="564.95" r="0.9" fill="#222"/>
<circle cx="95.90" cy="572.70" r="0.9" fill="#222"/>
<circle cx="95.90" cy="580.20" r="0.9" fill="#222"/>
<circle cx="95.90" cy="583.95" r="0.9" fill="#222"/>
<line x1="67.20" y1="508.90" x2="95.60" y2="508.90" stroke="#333" stroke-width="0.75"/>
<line x1="67.20" y1="508.50" x2="67.20" y2="511.40" stroke="#333" stroke-width="0.75"/>
<line x1="95.60" y1="508.50" x2="95.60" y2="511.40" stroke="#333" stroke-width="0.75"/>
<text x="81.3" y="507.3" font-size="5.8" fill="#222" stroke="#222" stroke-width="0.1" text-anchor="middle"><tspan font-style="italic">P</tspan> = .1</text>
<line x1="67.20" y1="612.70" x2="67.20" y2="614.70" stroke="#222" stroke-width="0.8"/>
<text x="67.20" y="624.09" font-size="5.8" fill="#222" stroke="#222" stroke-width="0.12" text-anchor="middle">HA</text>
<line x1="95.90" y1="612.70" x2="95.90" y2="614.70" stroke="#222" stroke-width="0.8"/>
<text x="95.90" y="624.09" font-size="5.8" fill="#222" stroke="#222" stroke-width="0.12" text-anchor="middle">HB</text>
<text transform="translate(22.20 558.50) rotate(-90)" x="0" y="2.23" font-size="6.2" fill="#222" text-anchor="middle" stroke="#222" stroke-width="0.25" textLength="26.50" lengthAdjust="spacingAndGlyphs">Clonotypes</text>
<rect x="191.90" y="509.30" width="6.20" height="0.93" fill="#d25a0a"/>
<rect x="191.90" y="510.23" width="6.20" height="4.74" fill="#f5a014"/>
<rect x="191.90" y="514.97" width="6.20" height="45.94" fill="#c9e3e6"/>
<rect x="191.90" y="560.91" width="6.20" height="41.38" fill="#58bcf0"/>
<rect x="192.10" y="509.50" width="5.80" height="92.60" fill="none" stroke="#000" stroke-opacity="0.12" stroke-width="0.4"/>
<rect x="198.98" y="509.30" width="6.20" height="0.93" fill="#d25a0a"/>
<rect x="198.98" y="510.23" width="6.20" height="2.88" fill="#f5a014"/>
<rect x="198.98" y="513.11" width="6.20" height="25.02" fill="#c9e3e6"/>
<rect x="198.98" y="538.13" width="6.20" height="27.90" fill="#58bcf0"/>
<rect x="198.98" y="566.03" width="6.20" height="36.27" fill="#0a5eb4"/>
<rect x="199.18" y="509.50" width="5.80" height="92.60" fill="none" stroke="#000" stroke-opacity="0.12" stroke-width="0.4"/>
<rect x="206.06" y="509.30" width="6.20" height="0.93" fill="#d25a0a"/>
<rect x="206.06" y="510.23" width="6.20" height="2.79" fill="#f5a014"/>
<rect x="206.06" y="513.02" width="6.20" height="23.62" fill="#c9e3e6"/>
<rect x="206.06" y="536.64" width="6.20" height="25.67" fill="#58bcf0"/>
<rect x="206.06" y="562.31" width="6.20" height="39.99" fill="#0a5eb4"/>
<rect x="206.26" y="509.50" width="5.80" height="92.60" fill="none" stroke="#000" stroke-opacity="0.12" stroke-width="0.4"/>
<rect x="213.14" y="509.30" width="6.20" height="0.93" fill="#d25a0a"/>
<rect x="213.14" y="510.23" width="6.20" height="9.30" fill="#f5a014"/>
<rect x="213.14" y="519.53" width="6.20" height="41.85" fill="#c9e3e6"/>
<rect x="213.14" y="561.38" width="6.20" height="40.92" fill="#58bcf0"/>
<rect x="213.34" y="509.50" width="5.80" height="92.60" fill="none" stroke="#000" stroke-opacity="0.12" stroke-width="0.4"/>
<rect x="220.22" y="509.30" width="6.20" height="0.93" fill="#d25a0a"/>
<rect x="220.22" y="510.23" width="6.20" height="5.77" fill="#f5a014"/>
<rect x="220.22" y="516.00" width="6.20" height="50.96" fill="#c9e3e6"/>
<rect x="220.22" y="566.96" width="6.20" height="35.34" fill="#58bcf0"/>
<rect x="220.42" y="509.50" width="5.80" height="92.60" fill="none" stroke="#000" stroke-opacity="0.12" stroke-width="0.4"/>
<rect x="227.30" y="509.30" width="6.20" height="3.72" fill="#d25a0a"/>
<rect x="227.30" y="513.02" width="6.20" height="10.23" fill="#f5a014"/>
<rect x="227.30" y="523.25" width="6.20" height="79.05" fill="#c9e3e6"/>
<rect x="227.50" y="509.50" width="5.80" height="92.60" fill="none" stroke="#000" stroke-opacity="0.12" stroke-width="0.4"/>
<rect x="234.38" y="509.30" width="6.20" height="0.93" fill="#d25a0a"/>
<rect x="234.38" y="510.23" width="6.20" height="5.77" fill="#f5a014"/>
<rect x="234.38" y="516.00" width="6.20" height="49.10" fill="#c9e3e6"/>
<rect x="234.38" y="565.10" width="6.20" height="37.20" fill="#58bcf0"/>
<rect x="234.58" y="509.50" width="5.80" height="92.60" fill="none" stroke="#000" stroke-opacity="0.12" stroke-width="0.4"/>
<rect x="241.46" y="509.30" width="6.20" height="0.93" fill="#d25a0a"/>
<rect x="241.46" y="510.23" width="6.20" height="7.44" fill="#f5a014"/>
<rect x="241.46" y="517.67" width="6.20" height="59.52" fill="#c9e3e6"/>
<rect x="241.46" y="577.19" width="6.20" height="25.11" fill="#58bcf0"/>
<rect x="241.66" y="509.50" width="5.80" height="92.60" fill="none" stroke="#000" stroke-opacity="0.12" stroke-width="0.4"/>
<rect x="248.54" y="509.30" width="6.20" height="1.86" fill="#d25a0a"/>
<rect x="248.54" y="511.16" width="6.20" height="9.30" fill="#f5a014"/>
<rect x="248.54" y="520.46" width="6.20" height="73.93" fill="#c9e3e6"/>
<rect x="248.54" y="594.39" width="6.20" height="7.90" fill="#58bcf0"/>
<rect x="248.74" y="509.50" width="5.80" height="92.60" fill="none" stroke="#000" stroke-opacity="0.12" stroke-width="0.4"/>
<rect x="255.62" y="509.30" width="6.20" height="0.93" fill="#d25a0a"/>
<rect x="255.62" y="510.23" width="6.20" height="2.79" fill="#f5a014"/>
<rect x="255.62" y="513.02" width="6.20" height="29.76" fill="#c9e3e6"/>
<rect x="255.62" y="542.78" width="6.20" height="32.55" fill="#58bcf0"/>
<rect x="255.62" y="575.33" width="6.20" height="26.97" fill="#0a5eb4"/>
<rect x="255.82" y="509.50" width="5.80" height="92.60" fill="none" stroke="#000" stroke-opacity="0.12" stroke-width="0.4"/>
<line x1="190.30" y1="500.40" x2="190.30" y2="607.00" stroke="#222" stroke-width="1.0"/>
<line x1="190.30" y1="607.00" x2="263.20" y2="607.00" stroke="#222" stroke-width="1.0"/>
<line x1="187.30" y1="602.30" x2="190.30" y2="602.30" stroke="#222" stroke-width="0.9"/>
<text x="183.90" y="604.50" font-size="6.1" fill="#222" stroke="#222" stroke-width="0.12" text-anchor="end">0%</text>
<line x1="187.30" y1="579.05" x2="190.30" y2="579.05" stroke="#222" stroke-width="0.9"/>
<text x="183.90" y="581.25" font-size="6.1" fill="#222" stroke="#222" stroke-width="0.12" text-anchor="end">25%</text>
<line x1="187.30" y1="555.80" x2="190.30" y2="555.80" stroke="#222" stroke-width="0.9"/>
<text x="183.90" y="558.00" font-size="6.1" fill="#222" stroke="#222" stroke-width="0.12" text-anchor="end">50%</text>
<line x1="187.30" y1="532.55" x2="190.30" y2="532.55" stroke="#222" stroke-width="0.9"/>
<text x="183.90" y="534.75" font-size="6.1" fill="#222" stroke="#222" stroke-width="0.12" text-anchor="end">75%</text>
<line x1="187.30" y1="509.30" x2="190.30" y2="509.30" stroke="#222" stroke-width="0.9"/>
<text x="183.90" y="511.50" font-size="6.1" fill="#222" stroke="#222" stroke-width="0.12" text-anchor="end">100%</text>
<line x1="195.00" y1="607.00" x2="195.00" y2="609.80" stroke="#222" stroke-width="0.9"/>
<text transform="translate(197.20 614.6) rotate(-90)" x="0" y="0" font-size="6.3" fill="#222" text-anchor="end" textLength="15.4" lengthAdjust="spacingAndGlyphs">HA01</text>
<line x1="202.08" y1="607.00" x2="202.08" y2="609.80" stroke="#222" stroke-width="0.9"/>
<text transform="translate(204.28 614.6) rotate(-90)" x="0" y="0" font-size="6.3" fill="#222" text-anchor="end" textLength="15.4" lengthAdjust="spacingAndGlyphs">HA05</text>
<line x1="209.16" y1="607.00" x2="209.16" y2="609.80" stroke="#222" stroke-width="0.9"/>
<text transform="translate(211.36 614.6) rotate(-90)" x="0" y="0" font-size="6.3" fill="#222" text-anchor="end" textLength="15.4" lengthAdjust="spacingAndGlyphs">HA14</text>
<line x1="216.24" y1="607.00" x2="216.24" y2="609.80" stroke="#222" stroke-width="0.9"/>
<text transform="translate(218.44 614.6) rotate(-90)" x="0" y="0" font-size="6.3" fill="#222" text-anchor="end" textLength="15.4" lengthAdjust="spacingAndGlyphs">HA15</text>
<line x1="223.32" y1="607.00" x2="223.32" y2="609.80" stroke="#222" stroke-width="0.9"/>
<text transform="translate(225.52 614.6) rotate(-90)" x="0" y="0" font-size="6.3" fill="#222" text-anchor="end" textLength="15.4" lengthAdjust="spacingAndGlyphs">HA33</text>
<line x1="230.40" y1="607.00" x2="230.40" y2="609.80" stroke="#222" stroke-width="0.9"/>
<text transform="translate(232.60 614.6) rotate(-90)" x="0" y="0" font-size="6.3" fill="#222" text-anchor="end" textLength="15.4" lengthAdjust="spacingAndGlyphs">HB25</text>
<line x1="237.48" y1="607.00" x2="237.48" y2="609.80" stroke="#222" stroke-width="0.9"/>
<text transform="translate(239.68 614.6) rotate(-90)" x="0" y="0" font-size="6.3" fill="#222" text-anchor="end" textLength="15.4" lengthAdjust="spacingAndGlyphs">HB26</text>
<line x1="244.56" y1="607.00" x2="244.56" y2="609.80" stroke="#222" stroke-width="0.9"/>
<text transform="translate(246.76 614.6) rotate(-90)" x="0" y="0" font-size="6.3" fill="#222" text-anchor="end" textLength="15.4" lengthAdjust="spacingAndGlyphs">HB27</text>
<line x1="251.64" y1="607.00" x2="251.64" y2="609.80" stroke="#222" stroke-width="0.9"/>
<text transform="translate(253.84 614.6) rotate(-90)" x="0" y="0" font-size="6.3" fill="#222" text-anchor="end" textLength="15.4" lengthAdjust="spacingAndGlyphs">HB28</text>
<line x1="258.72" y1="607.00" x2="258.72" y2="609.80" stroke="#222" stroke-width="0.9"/>
<text transform="translate(260.92 614.6) rotate(-90)" x="0" y="0" font-size="6.3" fill="#222" text-anchor="end" textLength="15.4" lengthAdjust="spacingAndGlyphs">HB34</text>
<text x="189.00" y="496.70" font-size="8.6" fill="#222" stroke="#222" stroke-width="0.12" textLength="75.20" lengthAdjust="spacingAndGlyphs">Top clonal proportion</text>
<text transform="translate(159.60 559.40) rotate(-90)" x="0" y="2.16" font-size="6.0" fill="#222" text-anchor="middle" stroke="#222" stroke-width="0.25" textLength="66.00" lengthAdjust="spacingAndGlyphs">Occupied repertoire space</text>
<text x="272.20" y="540.50" font-size="5.0" fill="#222" stroke="#222" stroke-width="0.12">Clonotype indices</text>
<rect x="273.50" y="543.70" width="2.60" height="2.60" fill="#d25a0a"/>
<text x="278.80" y="546.93" font-size="5.35" fill="#222" stroke="#222" stroke-width="0.12">[1:10]</text>
<rect x="273.50" y="549.15" width="2.60" height="2.60" fill="#f5a014"/>
<text x="278.80" y="552.38" font-size="5.35" fill="#222" stroke="#222" stroke-width="0.12">[11:100]</text>
<rect x="273.50" y="554.60" width="2.60" height="2.60" fill="#c9e3e6"/>
<text x="278.80" y="557.83" font-size="5.35" fill="#222" stroke="#222" stroke-width="0.12">[101:1000]</text>
<rect x="273.50" y="560.05" width="2.60" height="2.60" fill="#58bcf0"/>
<text x="278.80" y="563.28" font-size="5.35" fill="#222" stroke="#222" stroke-width="0.12">[1001:2000]</text>
<rect x="273.50" y="565.50" width="2.60" height="2.60" fill="#0a5eb4"/>
<text x="278.80" y="568.73" font-size="5.35" fill="#222" stroke="#222" stroke-width="0.12">[2001:10000]</text>
<rect x="377.80" y="509.30" width="6.20" height="91.60" fill="#e4570a"/>
<rect x="377.80" y="600.90" width="6.20" height="0.93" fill="#f5980f"/>
<rect x="377.80" y="601.83" width="6.20" height="0.46" fill="#fde9a8"/>
<rect x="378.00" y="509.50" width="5.80" height="92.60" fill="none" stroke="#000" stroke-opacity="0.12" stroke-width="0.4"/>
<rect x="384.88" y="509.30" width="6.20" height="91.14" fill="#e4570a"/>
<rect x="384.88" y="600.44" width="6.20" height="1.39" fill="#f5980f"/>
<rect x="384.88" y="601.83" width="6.20" height="0.46" fill="#fde9a8"/>
<rect x="385.08" y="509.50" width="5.80" height="92.60" fill="none" stroke="#000" stroke-opacity="0.12" stroke-width="0.4"/>
<rect x="391.96" y="509.30" width="6.20" height="90.21" fill="#e4570a"/>
<rect x="391.96" y="599.51" width="6.20" height="2.05" fill="#f5980f"/>
<rect x="391.96" y="601.56" width="6.20" height="0.74" fill="#fde9a8"/>
<rect x="392.16" y="509.50" width="5.80" height="92.60" fill="none" stroke="#000" stroke-opacity="0.12" stroke-width="0.4"/>
<rect x="399.04" y="509.30" width="6.20" height="81.84" fill="#e4570a"/>
<rect x="399.04" y="591.14" width="6.20" height="9.76" fill="#f5980f"/>
<rect x="399.04" y="600.90" width="6.20" height="1.39" fill="#fde9a8"/>
<rect x="399.24" y="509.50" width="5.80" height="92.60" fill="none" stroke="#000" stroke-opacity="0.12" stroke-width="0.4"/>
<rect x="406.12" y="509.30" width="6.20" height="91.60" fill="#e4570a"/>
<rect x="406.12" y="600.90" width="6.20" height="0.93" fill="#f5980f"/>
<rect x="406.12" y="601.83" width="6.20" height="0.46" fill="#fde9a8"/>
<rect x="406.32" y="509.50" width="5.80" height="92.60" fill="none" stroke="#000" stroke-opacity="0.12" stroke-width="0.4"/>
<rect x="413.20" y="509.30" width="6.20" height="87.42" fill="#e4570a"/>
<rect x="413.20" y="596.72" width="6.20" height="3.72" fill="#f5980f"/>
<rect x="413.20" y="600.44" width="6.20" height="1.86" fill="#fde9a8"/>
<rect x="413.40" y="509.50" width="5.80" height="92.60" fill="none" stroke="#000" stroke-opacity="0.12" stroke-width="0.4"/>
<rect x="420.28" y="509.30" width="6.20" height="91.14" fill="#e4570a"/>
<rect x="420.28" y="600.44" width="6.20" height="1.39" fill="#f5980f"/>
<rect x="420.28" y="601.83" width="6.20" height="0.46" fill="#fde9a8"/>
<rect x="420.48" y="509.50" width="5.80" height="92.60" fill="none" stroke="#000" stroke-opacity="0.12" stroke-width="0.4"/>
<rect x="427.36" y="509.30" width="6.20" height="90.67" fill="#e4570a"/>
<rect x="427.36" y="599.97" width="6.20" height="1.86" fill="#f5980f"/>
<rect x="427.36" y="601.83" width="6.20" height="0.46" fill="#fde9a8"/>
<rect x="427.56" y="509.50" width="5.80" height="92.60" fill="none" stroke="#000" stroke-opacity="0.12" stroke-width="0.4"/>
<rect x="434.44" y="509.30" width="6.20" height="88.35" fill="#e4570a"/>
<rect x="434.44" y="597.65" width="6.20" height="3.72" fill="#f5980f"/>
<rect x="434.44" y="601.37" width="6.20" height="0.93" fill="#fde9a8"/>
<rect x="434.64" y="509.50" width="5.80" height="92.60" fill="none" stroke="#000" stroke-opacity="0.12" stroke-width="0.4"/>
<rect x="441.52" y="509.30" width="6.20" height="91.60" fill="#e4570a"/>
<rect x="441.52" y="600.90" width="6.20" height="0.93" fill="#f5980f"/>
<rect x="441.52" y="601.83" width="6.20" height="0.46" fill="#fde9a8"/>
<rect x="441.72" y="509.50" width="5.80" height="92.60" fill="none" stroke="#000" stroke-opacity="0.12" stroke-width="0.4"/>
<line x1="376.20" y1="500.40" x2="376.20" y2="607.00" stroke="#222" stroke-width="1.0"/>
<line x1="376.20" y1="607.00" x2="449.10" y2="607.00" stroke="#222" stroke-width="1.0"/>
<line x1="373.20" y1="602.30" x2="376.20" y2="602.30" stroke="#222" stroke-width="0.9"/>
<text x="369.80" y="604.50" font-size="6.1" fill="#222" stroke="#222" stroke-width="0.12" text-anchor="end">0%</text>
<line x1="373.20" y1="579.05" x2="376.20" y2="579.05" stroke="#222" stroke-width="0.9"/>
<text x="369.80" y="581.25" font-size="6.1" fill="#222" stroke="#222" stroke-width="0.12" text-anchor="end">25%</text>
<line x1="373.20" y1="555.80" x2="376.20" y2="555.80" stroke="#222" stroke-width="0.9"/>
<text x="369.80" y="558.00" font-size="6.1" fill="#222" stroke="#222" stroke-width="0.12" text-anchor="end">50%</text>
<line x1="373.20" y1="532.55" x2="376.20" y2="532.55" stroke="#222" stroke-width="0.9"/>
<text x="369.80" y="534.75" font-size="6.1" fill="#222" stroke="#222" stroke-width="0.12" text-anchor="end">75%</text>
<line x1="373.20" y1="509.30" x2="376.20" y2="509.30" stroke="#222" stroke-width="0.9"/>
<text x="369.80" y="511.50" font-size="6.1" fill="#222" stroke="#222" stroke-width="0.12" text-anchor="end">100%</text>
<line x1="380.90" y1="607.00" x2="380.90" y2="609.80" stroke="#222" stroke-width="0.9"/>
<text transform="translate(383.10 614.6) rotate(-90)" x="0" y="0" font-size="6.3" fill="#222" text-anchor="end" textLength="15.4" lengthAdjust="spacingAndGlyphs">HA01</text>
<line x1="387.98" y1="607.00" x2="387.98" y2="609.80" stroke="#222" stroke-width="0.9"/>
<text transform="translate(390.18 614.6) rotate(-90)" x="0" y="0" font-size="6.3" fill="#222" text-anchor="end" textLength="15.4" lengthAdjust="spacingAndGlyphs">HA05</text>
<line x1="395.06" y1="607.00" x2="395.06" y2="609.80" stroke="#222" stroke-width="0.9"/>
<text transform="translate(397.26 614.6) rotate(-90)" x="0" y="0" font-size="6.3" fill="#222" text-anchor="end" textLength="15.4" lengthAdjust="spacingAndGlyphs">HA14</text>
<line x1="402.14" y1="607.00" x2="402.14" y2="609.80" stroke="#222" stroke-width="0.9"/>
<text transform="translate(404.34 614.6) rotate(-90)" x="0" y="0" font-size="6.3" fill="#222" text-anchor="end" textLength="15.4" lengthAdjust="spacingAndGlyphs">HA15</text>
<line x1="409.22" y1="607.00" x2="409.22" y2="609.80" stroke="#222" stroke-width="0.9"/>
<text transform="translate(411.42 614.6) rotate(-90)" x="0" y="0" font-size="6.3" fill="#222" text-anchor="end" textLength="15.4" lengthAdjust="spacingAndGlyphs">HA33</text>
<line x1="416.30" y1="607.00" x2="416.30" y2="609.80" stroke="#222" stroke-width="0.9"/>
<text transform="translate(418.50 614.6) rotate(-90)" x="0" y="0" font-size="6.3" fill="#222" text-anchor="end" textLength="15.4" lengthAdjust="spacingAndGlyphs">HB25</text>
<line x1="423.38" y1="607.00" x2="423.38" y2="609.80" stroke="#222" stroke-width="0.9"/>
<text transform="translate(425.58 614.6) rotate(-90)" x="0" y="0" font-size="6.3" fill="#222" text-anchor="end" textLength="15.4" lengthAdjust="spacingAndGlyphs">HB26</text>
<line x1="430.46" y1="607.00" x2="430.46" y2="609.80" stroke="#222" stroke-width="0.9"/>
<text transform="translate(432.66 614.6) rotate(-90)" x="0" y="0" font-size="6.3" fill="#222" text-anchor="end" textLength="15.4" lengthAdjust="spacingAndGlyphs">HB27</text>
<line x1="437.54" y1="607.00" x2="437.54" y2="609.80" stroke="#222" stroke-width="0.9"/>
<text transform="translate(439.74 614.6) rotate(-90)" x="0" y="0" font-size="6.3" fill="#222" text-anchor="end" textLength="15.4" lengthAdjust="spacingAndGlyphs">HB28</text>
<line x1="444.62" y1="607.00" x2="444.62" y2="609.80" stroke="#222" stroke-width="0.9"/>
<text transform="translate(446.82 614.6) rotate(-90)" x="0" y="0" font-size="6.3" fill="#222" text-anchor="end" textLength="15.4" lengthAdjust="spacingAndGlyphs">HB34</text>
<text x="373.80" y="496.70" font-size="8.6" fill="#222" stroke="#222" stroke-width="0.12" textLength="78.20" lengthAdjust="spacingAndGlyphs">Rare clonal proportion</text>
<text transform="translate(345.30 559.40) rotate(-90)" x="0" y="2.16" font-size="6.0" fill="#222" text-anchor="middle" stroke="#222" stroke-width="0.25" textLength="66.00" lengthAdjust="spacingAndGlyphs">Occupied repertoire space</text>
<text x="458.00" y="539.30" font-size="5.0" fill="#222" stroke="#222" stroke-width="0.12">Clonotype counts</text>
<rect x="459.30" y="542.30" width="2.60" height="2.60" fill="#e4570a"/>
<text x="464.60" y="545.53" font-size="5.35" fill="#222" stroke="#222" stroke-width="0.12">1</text>
<rect x="459.30" y="547.78" width="2.60" height="2.60" fill="#f5980f"/>
<text x="464.60" y="551.01" font-size="5.35" fill="#222" stroke="#222" stroke-width="0.12">2 – 3</text>
<rect x="459.30" y="553.26" width="2.60" height="2.60" fill="#fde9a8"/>
<text x="464.60" y="556.49" font-size="5.35" fill="#222" stroke="#222" stroke-width="0.12">4 – 10</text>
<rect x="459.30" y="558.74" width="2.60" height="2.60" fill="#a9daf0"/>
<text x="464.60" y="561.97" font-size="5.35" fill="#222" stroke="#222" stroke-width="0.12">11 – 30</text>
<rect x="459.30" y="564.22" width="2.60" height="2.60" fill="#4aa8d8"/>
<text x="464.60" y="567.45" font-size="5.35" fill="#222" stroke="#222" stroke-width="0.12">31 – 100</text>
<rect x="459.30" y="569.70" width="2.60" height="2.60" fill="#0a5a9e"/>
<text x="464.60" y="572.93" font-size="5.35" fill="#222" stroke="#222" stroke-width="0.12">101 – MAX</text>
</g>
<rect x="0" y="0" width="520" height="1" fill="#6a6a6a"/>
<rect x="0" y="636" width="520" height="1" fill="#5a5a5a"/>
<rect x="518" y="0" width="1" height="637" fill="#ececec"/>
<rect x="519" y="0" width="1" height="637" fill="#555"/>
<rect x="0" y="0" width="1" height="637" fill="#555"/>
</svg>
</body></html>
